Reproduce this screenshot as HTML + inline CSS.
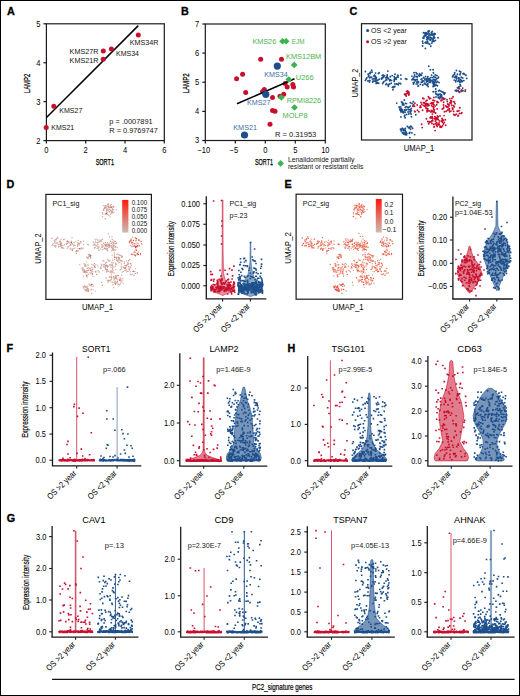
<!DOCTYPE html>
<html><head><meta charset="utf-8"><style>
html,body{margin:0;padding:0;background:#fff;}
body{width:520px;height:696px;overflow:hidden;}
svg{display:block;font-family:"Liberation Sans",sans-serif;}
</style></head><body>
<svg width="520" height="696" viewBox="0 0 520 696">
<rect x="0.5" y="0.5" width="519" height="695" fill="#fff" stroke="#000" stroke-width="1"/>
<text x="7.00" y="14.80" font-size="10.8" font-weight="bold" fill="#000" stroke="#000" stroke-width="0.3">A</text>
<rect x="46.4" y="23.8" width="117.9" height="116.8" fill="none" stroke="#1a1a1a" stroke-width="1.2"/>
<line x1="43.40" y1="140.60" x2="46.40" y2="140.60" stroke="#1a1a1a" stroke-width="1.2"/>
<text x="40.40" y="143.50" font-size="8.2" text-anchor="end" textLength="4.2" lengthAdjust="spacingAndGlyphs" fill="#000">2</text>
<line x1="43.40" y1="101.67" x2="46.40" y2="101.67" stroke="#1a1a1a" stroke-width="1.2"/>
<text x="40.40" y="104.57" font-size="8.2" text-anchor="end" textLength="4.2" lengthAdjust="spacingAndGlyphs" fill="#000">3</text>
<line x1="43.40" y1="62.73" x2="46.40" y2="62.73" stroke="#1a1a1a" stroke-width="1.2"/>
<text x="40.40" y="65.63" font-size="8.2" text-anchor="end" textLength="4.2" lengthAdjust="spacingAndGlyphs" fill="#000">4</text>
<line x1="43.40" y1="23.80" x2="46.40" y2="23.80" stroke="#1a1a1a" stroke-width="1.2"/>
<text x="40.40" y="26.70" font-size="8.2" text-anchor="end" textLength="4.2" lengthAdjust="spacingAndGlyphs" fill="#000">5</text>
<line x1="46.40" y1="140.60" x2="46.40" y2="143.60" stroke="#1a1a1a" stroke-width="1.2"/>
<text x="46.40" y="153.15" font-size="8.2" text-anchor="middle" textLength="4.2" lengthAdjust="spacingAndGlyphs" fill="#000">0</text>
<line x1="85.70" y1="140.60" x2="85.70" y2="143.60" stroke="#1a1a1a" stroke-width="1.2"/>
<text x="85.70" y="153.15" font-size="8.2" text-anchor="middle" textLength="4.2" lengthAdjust="spacingAndGlyphs" fill="#000">2</text>
<line x1="125.00" y1="140.60" x2="125.00" y2="143.60" stroke="#1a1a1a" stroke-width="1.2"/>
<text x="125.00" y="153.15" font-size="8.2" text-anchor="middle" textLength="4.2" lengthAdjust="spacingAndGlyphs" fill="#000">4</text>
<line x1="164.30" y1="140.60" x2="164.30" y2="143.60" stroke="#1a1a1a" stroke-width="1.2"/>
<text x="164.30" y="153.15" font-size="8.2" text-anchor="middle" textLength="4.2" lengthAdjust="spacingAndGlyphs" fill="#000">6</text>
<text x="30.30" y="83.40" font-size="9.6" text-anchor="middle" textLength="19.5" lengthAdjust="spacingAndGlyphs" transform="rotate(-90 30.30 83.40)" fill="#000" stroke="#000" stroke-width="0.25">LAMP2</text>
<text x="104.80" y="164.76" font-size="9.6" text-anchor="middle" textLength="18.3" lengthAdjust="spacingAndGlyphs" fill="#000" stroke="#000" stroke-width="0.25">SORT1</text>
<line x1="46.50" y1="117.50" x2="138.30" y2="25.60" stroke="#000" stroke-width="1.5"/>
<circle cx="46.2" cy="127.5" r="2.5" fill="#c8102e"/>
<circle cx="53.8" cy="106.2" r="2.5" fill="#c8102e"/>
<circle cx="103.2" cy="59.2" r="2.5" fill="#c8102e"/>
<circle cx="103.3" cy="51.0" r="2.5" fill="#c8102e"/>
<circle cx="111.4" cy="48.9" r="2.5" fill="#c8102e"/>
<circle cx="138.3" cy="35.0" r="2.5" fill="#c8102e"/>
<text x="129.70" y="45.04" font-size="7.6" textLength="28.8" lengthAdjust="spacingAndGlyphs" fill="#111">KMS34R</text>
<text x="116.00" y="55.74" font-size="7.6" textLength="23.0" lengthAdjust="spacingAndGlyphs" fill="#111">KMS34</text>
<text x="69.60" y="53.94" font-size="7.6" textLength="28.8" lengthAdjust="spacingAndGlyphs" fill="#111">KMS27R</text>
<text x="69.60" y="62.54" font-size="7.6" textLength="28.8" lengthAdjust="spacingAndGlyphs" fill="#111">KMS21R</text>
<text x="59.25" y="112.74" font-size="7.6" textLength="23.2" lengthAdjust="spacingAndGlyphs" fill="#111">KMS27</text>
<text x="51.25" y="130.24" font-size="7.6" textLength="23.0" lengthAdjust="spacingAndGlyphs" fill="#111">KMS21</text>
<text x="109.30" y="124.24" font-size="7.6" textLength="43.3" lengthAdjust="spacingAndGlyphs" fill="#111">p = .0007891</text>
<text x="109.30" y="132.94" font-size="7.6" textLength="48.5" lengthAdjust="spacingAndGlyphs" fill="#111">R = 0.9769747</text>
<text x="180.90" y="14.80" font-size="10.8" font-weight="bold" fill="#000" stroke="#000" stroke-width="0.3">B</text>
<rect x="205.3" y="24.0" width="120.0" height="116.5" fill="none" stroke="#1a1a1a" stroke-width="1.2"/>
<line x1="202.30" y1="140.50" x2="205.30" y2="140.50" stroke="#1a1a1a" stroke-width="1.2"/>
<text x="199.30" y="143.40" font-size="8.2" text-anchor="end" textLength="4.2" lengthAdjust="spacingAndGlyphs" fill="#000">3</text>
<line x1="202.30" y1="111.38" x2="205.30" y2="111.38" stroke="#1a1a1a" stroke-width="1.2"/>
<text x="199.30" y="114.28" font-size="8.2" text-anchor="end" textLength="4.2" lengthAdjust="spacingAndGlyphs" fill="#000">4</text>
<line x1="202.30" y1="82.25" x2="205.30" y2="82.25" stroke="#1a1a1a" stroke-width="1.2"/>
<text x="199.30" y="85.15" font-size="8.2" text-anchor="end" textLength="4.2" lengthAdjust="spacingAndGlyphs" fill="#000">5</text>
<line x1="202.30" y1="53.12" x2="205.30" y2="53.12" stroke="#1a1a1a" stroke-width="1.2"/>
<text x="199.30" y="56.02" font-size="8.2" text-anchor="end" textLength="4.2" lengthAdjust="spacingAndGlyphs" fill="#000">6</text>
<line x1="202.30" y1="24.00" x2="205.30" y2="24.00" stroke="#1a1a1a" stroke-width="1.2"/>
<text x="199.30" y="26.90" font-size="8.2" text-anchor="end" textLength="4.2" lengthAdjust="spacingAndGlyphs" fill="#000">7</text>
<line x1="205.30" y1="140.50" x2="205.30" y2="143.50" stroke="#1a1a1a" stroke-width="1.2"/>
<text x="203.80" y="153.15" font-size="8.2" text-anchor="middle" textLength="12.7" lengthAdjust="spacingAndGlyphs" fill="#000">−10</text>
<line x1="235.30" y1="140.50" x2="235.30" y2="143.50" stroke="#1a1a1a" stroke-width="1.2"/>
<text x="233.80" y="153.15" font-size="8.2" text-anchor="middle" textLength="8.5" lengthAdjust="spacingAndGlyphs" fill="#000">−5</text>
<line x1="265.30" y1="140.50" x2="265.30" y2="143.50" stroke="#1a1a1a" stroke-width="1.2"/>
<text x="265.30" y="153.15" font-size="8.2" text-anchor="middle" textLength="4.2" lengthAdjust="spacingAndGlyphs" fill="#000">0</text>
<line x1="295.30" y1="140.50" x2="295.30" y2="143.50" stroke="#1a1a1a" stroke-width="1.2"/>
<text x="295.30" y="153.15" font-size="8.2" text-anchor="middle" textLength="4.2" lengthAdjust="spacingAndGlyphs" fill="#000">5</text>
<line x1="325.30" y1="140.50" x2="325.30" y2="143.50" stroke="#1a1a1a" stroke-width="1.2"/>
<text x="325.30" y="153.15" font-size="8.2" text-anchor="middle" textLength="8.3" lengthAdjust="spacingAndGlyphs" fill="#000">10</text>
<text x="189.00" y="83.40" font-size="9.6" text-anchor="middle" textLength="20.0" lengthAdjust="spacingAndGlyphs" transform="rotate(-90 189.00 83.40)" fill="#000" stroke="#000" stroke-width="0.25">LAMP2</text>
<text x="264.00" y="164.76" font-size="9.6" text-anchor="middle" textLength="18.0" lengthAdjust="spacingAndGlyphs" fill="#000" stroke="#000" stroke-width="0.25">SORT1</text>
<path d="M280.6 160.1L283.9 163.4L280.6 166.7L277.3 163.4Z" fill="#3cb44b"/>
<text x="287.90" y="161.88" font-size="6.9" textLength="66.5" lengthAdjust="spacingAndGlyphs" fill="#111">Lenalidomide partially</text>
<text x="287.90" y="169.48" font-size="6.9" textLength="75.4" lengthAdjust="spacingAndGlyphs" fill="#111">resistant or resistant cells</text>
<circle cx="260.7" cy="59.2" r="2.5" fill="#c8102e"/>
<circle cx="281.5" cy="59.2" r="2.5" fill="#c8102e"/>
<circle cx="242.6" cy="74.2" r="2.5" fill="#c8102e"/>
<circle cx="236.6" cy="78.8" r="2.5" fill="#c8102e"/>
<circle cx="285.2" cy="83.4" r="2.5" fill="#c8102e"/>
<circle cx="287.2" cy="87.0" r="2.5" fill="#c8102e"/>
<circle cx="292.8" cy="84.5" r="2.5" fill="#c8102e"/>
<circle cx="293.5" cy="87.0" r="2.5" fill="#c8102e"/>
<circle cx="245.7" cy="92.5" r="2.5" fill="#c8102e"/>
<circle cx="264.3" cy="89.4" r="2.5" fill="#c8102e"/>
<circle cx="262.6" cy="91.4" r="2.5" fill="#c8102e"/>
<circle cx="272.5" cy="97.5" r="2.5" fill="#c8102e"/>
<circle cx="280.0" cy="96.3" r="2.5" fill="#c8102e"/>
<circle cx="283.7" cy="94.3" r="2.5" fill="#c8102e"/>
<circle cx="272.5" cy="110.5" r="2.5" fill="#c8102e"/>
<circle cx="275.0" cy="111.3" r="2.5" fill="#c8102e"/>
<circle cx="270.0" cy="124.3" r="2.5" fill="#c8102e"/>
<line x1="237.00" y1="103.80" x2="294.50" y2="78.80" stroke="#000" stroke-width="1.5"/>
<path d="M282.6 37.9L286.0 41.2L282.6 44.6L279.2 41.2Z" fill="#3cb44b"/>
<path d="M286.1 37.9L289.5 41.2L286.1 44.6L282.8 41.2Z" fill="#3cb44b"/>
<path d="M294.2 61.6L297.6 65.0L294.2 68.3L290.8 65.0Z" fill="#3cb44b"/>
<path d="M288.8 76.2L292.2 79.5L288.8 82.8L285.4 79.5Z" fill="#3cb44b"/>
<path d="M281.3 94.2L284.7 97.5L281.3 100.8L277.9 97.5Z" fill="#3cb44b"/>
<path d="M294.5 104.2L297.9 107.5L294.5 110.8L291.1 107.5Z" fill="#3cb44b"/>
<circle cx="277.3" cy="66.1" r="3.6" fill="#1d4f8c"/>
<circle cx="265.8" cy="94.3" r="3.6" fill="#1d4f8c"/>
<circle cx="244.5" cy="135.0" r="3.6" fill="#1d4f8c"/>
<text x="252.40" y="43.94" font-size="7.6" textLength="23.8" lengthAdjust="spacingAndGlyphs" fill="#4cb050">KMS26</text>
<text x="291.80" y="43.94" font-size="7.6" textLength="12.7" lengthAdjust="spacingAndGlyphs" fill="#4cb050">EJM</text>
<text x="286.00" y="59.24" font-size="7.6" textLength="35.2" lengthAdjust="spacingAndGlyphs" fill="#4cb050">KMS12BM</text>
<text x="295.80" y="80.44" font-size="7.6" textLength="17.7" lengthAdjust="spacingAndGlyphs" fill="#4cb050">U266</text>
<text x="286.70" y="102.74" font-size="7.6" textLength="34.5" lengthAdjust="spacingAndGlyphs" fill="#4cb050">RPMI8226</text>
<text x="282.50" y="118.24" font-size="7.6" textLength="25.0" lengthAdjust="spacingAndGlyphs" fill="#4cb050">MOLP8</text>
<text x="264.20" y="76.94" font-size="7.6" textLength="23.5" lengthAdjust="spacingAndGlyphs" fill="#3b6ea8">KMS34</text>
<text x="247.00" y="104.74" font-size="7.6" textLength="23.5" lengthAdjust="spacingAndGlyphs" fill="#3b6ea8">KMS27</text>
<text x="233.30" y="129.74" font-size="7.6" textLength="23.7" lengthAdjust="spacingAndGlyphs" fill="#3b6ea8">KMS21</text>
<text x="275.00" y="137.24" font-size="7.6" textLength="41.3" lengthAdjust="spacingAndGlyphs" fill="#111">R = 0.31953</text>
<text x="349.50" y="14.50" font-size="10.8" font-weight="bold" fill="#000" stroke="#000" stroke-width="0.3">C</text>
<rect x="361.5" y="23.7" width="110.5" height="116.3" fill="none" stroke="#1a1a1a" stroke-width="1.2"/>
<path d="M428.4 43.5h0M428.8 38.5h0M424.3 35.7h0M425.0 33.4h0M432.2 31.4h0M438.0 37.8h0M431.4 32.5h0M427.9 36.7h0M428.8 38.3h0M427.3 42.0h0M430.6 37.5h0M429.2 33.9h0M431.9 35.0h0M428.3 38.7h0M426.8 42.0h0M433.7 37.8h0M429.1 30.8h0M432.9 34.5h0M422.6 46.0h0M425.4 32.6h0M434.0 41.3h0M425.9 34.7h0M429.3 34.9h0M424.9 35.1h0M425.4 48.4h0M425.6 42.3h0M422.6 41.3h0M426.5 33.0h0M427.7 33.8h0M432.1 41.1h0M426.9 34.2h0M434.3 38.1h0M434.1 33.5h0M435.2 34.0h0M429.7 44.3h0M433.0 39.6h0M432.1 34.2h0M430.7 34.4h0M429.1 35.5h0M423.5 32.8h0M425.2 42.7h0M431.6 38.1h0M427.3 37.9h0M422.9 43.2h0M430.2 40.3h0M423.1 38.0h0M432.2 35.1h0M424.0 36.8h0M432.8 41.6h0M426.7 39.5h0M433.5 36.9h0M432.9 39.1h0M427.4 38.1h0M423.8 38.2h0M432.6 41.4h0M431.4 38.9h0M430.2 37.2h0M428.8 32.1h0M434.5 34.7h0M426.1 43.1h0M430.8 46.2h0M427.1 42.7h0M431.8 33.2h0M433.7 36.4h0M428.0 31.5h0M431.8 43.1h0M425.4 35.7h0M426.0 35.3h0M429.5 34.5h0M434.6 37.7h0M435.4 40.4h0M429.0 31.5h0M425.0 35.7h0M430.8 34.7h0M433.2 40.0h0M430.0 39.8h0M433.6 41.0h0M426.8 37.2h0M423.4 37.3h0M427.7 41.1h0M375.4 79.0h0M373.0 81.3h0M379.2 72.7h0M377.4 82.8h0M376.3 82.4h0M383.4 77.0h0M369.4 80.4h0M377.7 80.3h0M387.9 71.1h0M375.7 81.3h0M372.1 72.1h0M376.0 81.0h0M368.8 75.4h0M375.3 80.4h0M378.6 83.3h0M369.7 77.8h0M379.3 79.3h0M381.5 78.3h0M372.7 82.0h0M369.5 82.1h0M375.5 78.4h0M368.4 76.5h0M375.3 76.2h0M376.2 77.4h0M366.8 78.0h0M370.6 77.2h0M365.4 80.4h0M374.6 75.1h0M365.4 71.5h0M375.2 76.7h0M376.2 83.4h0M372.3 79.1h0M374.7 75.5h0M370.3 73.6h0M373.8 75.9h0M375.6 73.1h0M369.5 73.4h0M381.7 79.0h0M369.9 80.6h0M382.7 75.1h0M368.0 74.1h0M370.4 72.3h0M373.5 81.3h0M367.9 80.9h0M377.6 83.1h0M375.1 80.9h0M378.5 73.5h0M376.2 78.2h0M375.3 78.4h0M376.5 79.9h0M383.6 77.0h0M371.7 77.1h0M373.7 78.8h0M371.7 70.3h0M366.0 79.3h0M387.2 75.0h0M398.7 83.1h0M395.5 78.6h0M393.1 87.2h0M388.4 86.2h0M398.3 84.7h0M396.7 84.0h0M391.2 83.3h0M389.5 84.2h0M388.0 85.1h0M396.2 77.6h0M394.3 80.5h0M396.8 83.9h0M383.9 81.7h0M388.4 78.5h0M394.9 84.1h0M392.9 89.8h0M393.1 87.0h0M394.9 83.9h0M396.0 78.9h0M386.7 79.9h0M391.5 80.4h0M390.4 76.8h0M394.2 76.8h0M386.5 83.8h0M400.6 83.7h0M406.7 79.2h0M398.0 77.3h0M393.4 86.6h0M392.4 87.2h0M395.0 74.2h0M392.2 75.6h0M390.1 79.6h0M396.2 79.3h0M394.6 78.8h0M393.6 87.5h0M397.5 76.1h0M400.8 75.1h0M390.3 76.6h0M394.2 81.4h0M397.8 75.3h0M405.6 78.7h0M388.6 78.9h0M385.4 80.6h0M400.3 83.5h0M395.5 78.1h0M387.5 77.7h0M385.8 84.6h0M398.1 75.7h0M388.4 84.6h0M389.7 80.7h0M401.0 78.9h0M394.2 79.8h0M389.2 84.1h0M394.9 86.5h0M382.7 83.5h0M382.3 75.4h0M385.8 77.7h0M383.2 75.2h0M383.5 82.0h0M382.5 78.0h0M387.2 76.5h0M382.9 77.6h0M383.1 75.9h0M386.4 79.4h0M384.5 75.8h0M387.0 76.8h0M413.0 78.4h0M426.5 81.3h0M412.0 79.7h0M422.8 85.0h0M417.2 77.1h0M421.4 75.2h0M419.6 73.6h0M417.3 76.6h0M421.8 78.9h0M422.5 82.1h0M417.6 83.9h0M424.7 83.6h0M421.2 79.4h0M423.8 77.8h0M413.3 82.6h0M417.0 74.0h0M415.4 80.7h0M411.9 76.1h0M414.0 72.8h0M423.9 80.9h0M414.5 75.0h0M420.5 74.9h0M418.4 81.7h0M416.0 79.7h0M418.7 75.4h0M425.6 76.6h0M426.3 78.7h0M430.1 82.4h0M417.2 79.4h0M421.5 75.1h0M414.4 79.7h0M422.4 80.6h0M421.3 82.3h0M424.9 79.2h0M419.6 73.8h0M424.5 83.8h0M418.0 86.1h0M413.6 79.6h0M420.4 84.4h0M423.6 77.8h0M414.3 79.7h0M413.5 84.0h0M416.0 72.6h0M418.5 82.2h0M422.0 73.1h0M418.4 86.0h0M417.0 82.2h0M414.1 77.0h0M427.6 78.6h0M416.0 76.5h0M419.6 76.0h0M417.3 81.5h0M414.2 82.5h0M426.1 79.9h0M416.3 83.9h0M433.4 81.7h0M435.3 74.9h0M437.4 81.5h0M432.4 82.8h0M430.4 81.0h0M430.8 80.2h0M436.3 85.1h0M429.3 78.6h0M426.0 84.4h0M436.6 82.6h0M429.5 82.4h0M427.9 84.0h0M437.2 81.8h0M433.1 69.7h0M429.6 80.0h0M428.8 66.3h0M435.4 85.4h0M438.3 77.7h0M435.1 81.8h0M435.2 77.3h0M429.8 79.4h0M434.6 79.6h0M432.7 81.0h0M428.2 86.5h0M437.1 81.6h0M433.8 76.5h0M427.9 81.2h0M427.0 80.8h0M435.0 80.6h0M439.0 82.5h0M434.7 83.8h0M433.5 84.9h0M433.7 85.1h0M427.3 84.1h0M428.3 79.5h0M429.3 82.3h0M430.7 77.6h0M433.6 79.5h0M434.0 83.0h0M436.0 79.8h0M437.4 85.7h0M430.9 81.1h0M432.4 80.4h0M438.5 77.1h0M430.4 69.8h0M433.6 84.0h0M433.5 73.1h0M426.6 81.9h0M424.8 83.1h0M427.8 76.9h0M434.7 85.9h0M436.9 75.5h0M433.1 86.5h0M432.6 77.6h0M427.9 76.8h0M437.0 78.4h0M433.4 72.7h0M435.3 77.5h0M431.6 75.3h0M427.1 85.4h0M438.6 91.0h0M440.9 91.1h0M442.2 91.9h0M444.2 94.3h0M435.7 89.0h0M436.3 94.3h0M440.3 94.2h0M443.1 92.2h0M444.4 93.5h0M436.0 96.9h0M435.9 93.8h0M443.5 92.8h0M439.4 90.3h0M436.0 91.5h0M433.2 91.7h0M435.4 91.7h0M438.5 94.5h0M445.0 93.0h0M453.4 75.2h0M461.9 80.5h0M459.6 81.3h0M459.8 82.6h0M460.0 74.8h0M455.5 76.3h0M463.8 80.6h0M456.3 77.2h0M459.5 71.2h0M462.7 77.9h0M454.7 72.7h0M454.7 77.1h0M455.9 80.7h0M464.4 74.3h0M463.9 73.8h0M459.0 78.0h0M461.3 77.3h0M460.8 71.9h0M454.6 74.0h0M456.4 70.5h0M452.9 75.9h0M452.6 76.9h0M458.8 80.0h0M460.1 84.8h0M456.5 79.0h0M463.0 73.7h0M460.3 73.8h0M466.0 75.3h0M466.7 78.4h0M454.2 80.1h0M455.7 81.8h0M460.9 81.8h0M457.9 81.3h0M463.7 73.5h0M454.8 77.6h0M460.4 79.5h0M456.6 76.3h0M462.2 81.5h0M458.2 78.0h0M457.4 74.2h0M461.6 91.2h0M465.2 91.2h0M459.0 86.7h0M459.0 91.6h0M458.5 88.6h0M462.7 88.1h0M460.7 85.9h0M456.7 90.3h0M459.2 91.8h0M456.5 91.2h0M463.0 90.8h0M461.2 91.4h0M459.5 88.6h0M457.5 87.8h0M455.3 90.5h0M458.3 90.9h0M402.1 111.8h0M402.4 110.9h0M402.4 110.9h0M403.5 111.6h0M403.2 103.5h0M406.4 103.6h0M402.5 102.5h0M405.5 103.4h0M410.1 109.6h0M399.0 107.1h0M399.6 107.3h0M400.3 109.0h0M403.9 105.0h0M400.9 116.9h0M402.9 111.4h0M400.1 110.0h0M404.5 110.0h0M411.3 110.8h0M405.3 107.5h0M404.9 115.2h0M410.6 113.0h0M404.5 116.2h0M408.1 112.0h0M407.5 107.1h0M399.7 109.1h0M408.8 109.7h0M414.5 106.2h0M413.1 105.9h0M410.0 111.7h0M412.1 103.5h0M406.6 109.8h0M403.3 112.7h0M402.5 104.9h0M401.5 109.0h0M408.5 109.5h0M406.1 106.6h0M411.3 108.5h0M413.4 101.8h0M406.7 114.4h0M405.0 112.2h0M410.3 106.1h0M411.1 114.1h0M407.9 107.6h0M408.8 114.0h0M400.7 106.9h0M402.4 103.9h0M396.7 103.1h0M400.8 111.7h0M409.0 107.2h0M410.3 102.8h0M406.1 134.9h0M402.6 128.5h0M403.2 129.3h0M405.0 133.2h0M404.7 129.1h0M406.1 132.1h0M411.4 126.7h0M414.6 134.6h0M407.3 126.4h0M401.3 130.9h0M405.3 128.5h0M403.8 130.5h0M412.6 128.3h0M409.3 133.3h0M403.6 133.9h0M406.4 133.3h0M401.7 130.7h0M409.1 128.0h0M406.8 133.5h0M402.0 128.8h0M405.0 130.3h0M409.9 137.6h0M400.5 129.3h0M410.6 129.2h0M411.8 132.9h0M406.2 132.3h0M408.5 127.5h0M405.8 131.8h0M405.7 131.6h0M404.6 134.3h0M402.2 128.5h0M403.7 132.6h0M409.8 127.0h0M409.8 132.4h0M401.1 130.2h0M405.2 130.6h0M403.7 134.0h0M410.8 126.3h0M406.6 134.8h0M402.4 132.8h0M401.6 102.0h0M411.5 116.8h0M404.4 100.0h0M405.1 117.8h0M401.0 110.0h0M405.6 110.2h0M402.2 109.6h0M415.8 114.8h0M439.5 98.5h0M440.4 97.3h0M438.5 97.6h0M440.1 96.6h0M438.2 97.5h0M447.0 99.8h0M437.7 94.7h0M439.9 94.2h0M438.2 95.5h0M443.5 98.3h0M440.7 95.2h0M439.8 98.7h0M441.6 96.0h0M442.4 97.8h0M437.6 94.7h0M441.6 94.9h0" stroke="#1d4f8c" stroke-width="1.90" stroke-linecap="round" fill="none"/>
<path d="M406.4 93.9h0M408.1 91.7h0M407.6 93.2h0M404.5 94.1h0M406.5 91.4h0M406.0 94.0h0M406.2 96.0h0M405.1 94.7h0M405.7 95.4h0M408.9 93.5h0M408.1 91.8h0M408.8 95.0h0M409.1 94.6h0M408.6 93.4h0M409.0 92.1h0M407.4 91.6h0M408.5 93.6h0M407.7 90.9h0M430.9 111.9h0M423.4 102.7h0M435.1 106.1h0M424.0 103.1h0M432.2 111.8h0M433.9 104.7h0M437.2 108.9h0M427.0 100.3h0M427.4 108.8h0M425.8 106.8h0M423.9 98.7h0M429.4 98.7h0M437.3 102.5h0M433.6 109.0h0M426.4 103.4h0M425.9 101.1h0M428.3 104.3h0M438.4 102.4h0M425.0 106.3h0M437.1 101.4h0M433.4 104.2h0M427.9 109.1h0M429.0 97.6h0M425.8 104.0h0M426.1 108.3h0M425.1 103.5h0M433.4 102.6h0M427.0 110.4h0M431.7 105.8h0M432.0 103.7h0M427.6 108.8h0M427.0 111.8h0M420.9 107.3h0M427.4 104.4h0M433.2 106.8h0M428.0 110.6h0M421.8 104.4h0M433.0 100.2h0M424.5 102.8h0M422.6 110.2h0M434.1 111.4h0M434.6 100.8h0M434.4 109.7h0M429.0 105.2h0M421.0 102.5h0M430.6 98.4h0M426.2 105.1h0M427.3 103.9h0M425.3 104.7h0M425.2 103.5h0M431.3 110.5h0M429.2 111.0h0M431.9 102.6h0M430.5 103.4h0M428.4 96.7h0M433.9 97.5h0M423.5 105.5h0M433.7 107.8h0M432.7 110.9h0M428.0 106.0h0M447.7 104.0h0M452.3 108.1h0M450.6 103.2h0M447.3 101.6h0M451.7 105.2h0M453.8 101.7h0M442.0 100.0h0M451.3 102.6h0M445.8 105.9h0M443.5 105.0h0M442.0 97.9h0M461.3 113.4h0M450.1 102.8h0M454.3 106.7h0M449.2 109.8h0M453.7 111.4h0M457.5 111.2h0M450.8 103.2h0M459.0 110.8h0M455.0 115.2h0M441.0 100.7h0M458.4 115.5h0M461.8 112.7h0M447.9 107.4h0M457.1 111.1h0M449.0 104.4h0M444.9 98.8h0M456.3 114.2h0M443.4 108.3h0M449.0 105.9h0M454.4 101.9h0M447.1 106.7h0M449.3 108.8h0M459.8 107.7h0M443.6 102.3h0M447.7 106.8h0M452.7 108.7h0M449.6 111.7h0M452.8 108.2h0M445.9 106.1h0M446.3 111.3h0M449.8 98.6h0M446.8 107.1h0M452.8 109.6h0M459.5 113.4h0M443.5 105.0h0M442.4 109.0h0M451.6 101.3h0M450.6 100.7h0M453.7 114.5h0M453.6 105.7h0M443.7 99.4h0M455.0 103.7h0M457.9 116.0h0M443.8 107.1h0M432.5 118.2h0M432.8 120.8h0M432.3 116.7h0M432.7 118.7h0M437.2 126.4h0M444.1 115.6h0M437.8 124.5h0M440.0 127.0h0M445.3 119.7h0M431.9 120.9h0M441.4 127.3h0M438.3 119.5h0M439.6 120.9h0M440.0 115.9h0M429.4 122.4h0M441.9 121.3h0M428.7 123.7h0M444.3 122.4h0M440.5 126.1h0M437.4 116.0h0M431.0 121.8h0M437.0 117.6h0M435.4 121.3h0M429.7 121.9h0M438.2 116.8h0M433.9 124.1h0M436.8 122.7h0M439.1 123.0h0M429.1 121.8h0M443.3 124.0h0M438.5 124.8h0M443.3 120.3h0M442.1 118.4h0M437.5 119.4h0M436.1 118.0h0M430.8 116.9h0M436.6 125.2h0M432.0 123.5h0M437.4 118.3h0M431.0 118.0h0M433.8 124.4h0M442.5 122.0h0M437.4 118.6h0M422.2 127.6h0M434.3 126.8h0M434.9 116.8h0M442.4 119.4h0M434.7 118.7h0M441.6 121.2h0M427.8 121.5h0M430.2 117.7h0M434.0 127.1h0M434.0 112.3h0M442.6 125.9h0M436.1 119.8h0M435.1 130.6h0M439.1 124.8h0M435.7 123.8h0M418.9 111.8h0M435.6 113.0h0M444.5 111.8h0M451.9 98.4h0M422.9 98.3h0M426.4 118.8h0M451.0 111.1h0M420.4 105.9h0M436.7 104.8h0M445.7 125.2h0M432.4 114.1h0M447.8 110.0h0M421.6 124.3h0M453.1 96.7h0M419.9 107.4h0M413.5 104.8h0M414.6 111.1h0M414.9 103.2h0M415.0 111.8h0M417.5 110.2h0M417.2 105.0h0M413.1 106.3h0M459.3 92.0h0M459.5 92.4h0M461.3 90.3h0M461.9 89.9h0M465.4 90.0h0M459.0 88.3h0" stroke="#c8102e" stroke-width="1.90" stroke-linecap="round" fill="none"/>
<circle cx="367.6" cy="30.4" r="1.5" fill="#1d4f8c"/>
<circle cx="367.6" cy="41.7" r="1.5" fill="#c8102e"/>
<text x="371.00" y="33.06" font-size="7.4" textLength="35.9" lengthAdjust="spacingAndGlyphs" fill="#111">OS &lt;2 year</text>
<text x="371.00" y="44.36" font-size="7.4" textLength="35.9" lengthAdjust="spacingAndGlyphs" fill="#111">OS &gt;2 year</text>
<text x="419.00" y="150.53" font-size="8.7" text-anchor="middle" textLength="30.4" lengthAdjust="spacingAndGlyphs" fill="#000">UMAP_1</text>
<text x="357.80" y="83.00" font-size="8.7" text-anchor="middle" textLength="28.3" lengthAdjust="spacingAndGlyphs" transform="rotate(-90 357.80 83.00)" fill="#000">UMAP_2</text>
<text x="6.40" y="188.30" font-size="10.8" font-weight="bold" fill="#000" stroke="#000" stroke-width="0.3">D</text>
<rect x="45.9" y="194.4" width="105.5" height="104.99999999999997" fill="none" stroke="#1a1a1a" stroke-width="1.2"/>
<text x="52.50" y="205.50" font-size="7.5" textLength="26.9" lengthAdjust="spacingAndGlyphs" fill="#111">PC1_sig</text>
<path d="M107.8 214.6h0M108.2 210.4h0M104.2 208.1h0M104.8 206.1h0M111.2 204.4h0M116.3 209.8h0M110.4 205.4h0M107.4 208.9h0M108.2 210.2h0M106.8 213.4h0M109.8 209.6h0M108.5 206.5h0M110.9 207.5h0M107.8 210.6h0M112.5 209.8h0M108.5 203.9h0M111.8 207.1h0M102.7 216.7h0M105.2 205.5h0M112.8 212.7h0M105.6 207.3h0M104.7 207.6h0M105.3 213.6h0M102.7 212.8h0M106.1 205.8h0M107.2 206.5h0M111.1 212.6h0M106.5 206.8h0M113.0 210.1h0M112.9 206.2h0M108.9 215.2h0M111.1 206.8h0M109.9 207.0h0M108.4 207.9h0M103.4 205.6h0M105.0 214.0h0M110.7 210.1h0M106.8 209.9h0M102.9 214.3h0M109.4 212.0h0M103.2 210.0h0M103.9 209.0h0M111.7 213.0h0M106.3 211.3h0M112.3 209.1h0M111.8 210.9h0M106.9 210.1h0M103.7 210.2h0M111.5 212.9h0M110.5 210.8h0M109.4 209.3h0M108.1 205.0h0M113.2 207.2h0M105.7 214.2h0M110.0 216.9h0M106.7 214.0h0M110.8 206.0h0M112.5 208.7h0M107.5 204.5h0M110.8 214.2h0M105.2 208.0h0M105.7 207.7h0M108.8 207.1h0M113.3 209.7h0M114.0 212.0h0M108.4 204.5h0M109.9 207.2h0M112.1 211.6h0M109.2 211.5h0M112.4 212.5h0M106.4 209.3h0M103.4 209.4h0M107.2 212.6h0M60.8 244.4h0M58.7 246.4h0M61.7 247.3h0M68.0 242.8h0M55.5 245.6h0M62.9 245.6h0M72.0 237.8h0M61.1 246.4h0M57.9 238.6h0M61.3 246.1h0M55.0 241.4h0M63.7 248.1h0M55.8 243.5h0M64.4 244.7h0M66.3 243.8h0M58.5 247.0h0M55.6 247.0h0M60.9 244.0h0M54.7 242.3h0M60.8 242.1h0M61.6 243.1h0M53.2 243.6h0M56.6 242.9h0M52.0 245.6h0M60.7 242.5h0M61.6 248.1h0M58.1 244.5h0M60.2 241.5h0M56.3 239.9h0M59.4 241.8h0M61.0 239.5h0M55.6 239.8h0M66.4 244.4h0M56.0 245.8h0M54.3 240.3h0M56.4 238.8h0M59.2 246.4h0M60.6 246.0h0M63.6 239.8h0M61.6 243.8h0M61.9 245.2h0M68.1 242.8h0M57.6 242.8h0M59.3 244.3h0M57.5 237.2h0M52.6 244.7h0M71.3 241.1h0M78.6 244.1h0M81.1 249.3h0M73.4 248.9h0M72.0 249.5h0M77.6 245.7h0M79.8 248.6h0M68.4 246.7h0M72.3 244.1h0M78.1 248.8h0M76.4 253.5h0M78.1 248.6h0M79.1 244.3h0M70.9 245.2h0M75.1 245.6h0M74.2 242.6h0M77.5 242.6h0M70.7 248.5h0M83.1 248.4h0M88.6 244.7h0M80.9 243.1h0M76.8 250.8h0M75.9 251.3h0M78.2 240.4h0M75.7 241.6h0M73.9 245.0h0M79.3 244.7h0M77.8 244.3h0M77.0 251.6h0M80.4 242.0h0M83.4 241.2h0M74.1 242.4h0M77.5 246.4h0M80.7 241.4h0M87.6 244.2h0M72.6 244.3h0M69.8 245.8h0M82.9 248.2h0M78.7 243.7h0M71.6 243.3h0M70.0 249.2h0M81.0 241.7h0M72.4 249.2h0M73.5 245.9h0M83.5 244.4h0M77.5 245.1h0M73.1 248.8h0M78.1 250.7h0M67.3 248.3h0M66.9 241.5h0M70.1 243.3h0M67.8 241.3h0M68.0 247.0h0M67.2 243.6h0M67.5 243.3h0M67.7 241.9h0M70.6 244.8h0M68.9 241.7h0M71.2 242.6h0M94.2 244.0h0M106.1 246.4h0M93.3 245.0h0M102.8 249.5h0M101.6 241.2h0M100.0 239.9h0M98.0 242.4h0M101.9 244.4h0M102.6 247.1h0M98.2 248.6h0M104.5 248.3h0M101.5 244.8h0M103.8 243.5h0M94.5 247.5h0M97.7 240.3h0M96.3 245.9h0M93.2 242.0h0M95.1 239.2h0M95.5 241.1h0M100.8 241.0h0M99.0 246.7h0M96.8 245.1h0M99.2 241.4h0M105.4 242.5h0M106.0 244.2h0M109.3 247.3h0M97.9 244.8h0M101.7 241.1h0M95.4 245.1h0M102.5 245.8h0M101.6 247.2h0M104.7 244.7h0M100.0 240.0h0M98.6 250.4h0M94.7 245.0h0M100.7 249.0h0M103.6 243.4h0M95.3 245.0h0M94.6 248.6h0M96.8 239.1h0M99.0 247.2h0M98.9 250.3h0M97.7 247.1h0M95.2 242.8h0M107.1 244.1h0M96.9 242.4h0M100.0 241.9h0M98.0 246.6h0M95.2 247.4h0M97.1 248.6h0M112.2 246.7h0M115.8 246.5h0M111.4 247.6h0M109.6 246.2h0M110.0 245.4h0M114.8 249.6h0M115.1 247.4h0M108.8 247.3h0M107.4 248.6h0M115.6 246.8h0M112.0 236.6h0M108.2 233.7h0M114.1 249.8h0M116.6 243.4h0M113.8 246.8h0M113.8 243.0h0M109.0 244.8h0M113.3 244.9h0M111.6 246.1h0M107.7 250.8h0M115.5 246.7h0M112.6 242.3h0M107.3 246.3h0M106.5 245.9h0M113.6 245.8h0M117.2 247.4h0M113.4 248.5h0M112.3 249.4h0M112.5 249.6h0M107.7 244.9h0M108.6 247.2h0M109.9 243.3h0M112.4 244.9h0M112.8 247.8h0M114.6 245.1h0M115.8 250.1h0M110.1 246.2h0M111.4 245.6h0M116.7 242.9h0M109.6 236.7h0M112.4 248.7h0M112.3 239.5h0M106.3 246.9h0M104.6 247.9h0M107.3 242.7h0M113.4 250.2h0M111.9 250.7h0M107.4 242.6h0M115.5 243.9h0M112.2 239.2h0M106.7 249.8h0M116.9 254.6h0M118.8 254.7h0M120.0 255.3h0M118.3 257.2h0M120.8 255.6h0M122.0 256.7h0M114.5 259.5h0M114.4 256.9h0M121.2 256.0h0M117.6 253.9h0M114.5 255.0h0M112.1 255.1h0M114.1 255.1h0M116.7 257.5h0M122.5 256.2h0M135.8 240.9h0M132.6 242.9h0M138.2 243.5h0M131.1 242.9h0M132.2 245.9h0M139.7 240.5h0M139.2 240.0h0M134.9 243.6h0M137.0 243.0h0M132.6 237.3h0M129.3 242.7h0M134.8 245.3h0M135.9 249.3h0M132.7 244.4h0M130.6 245.4h0M132.0 246.8h0M139.1 239.8h0M131.2 243.3h0M136.2 244.9h0M132.8 242.2h0M137.7 246.6h0M137.2 254.7h0M140.4 254.7h0M134.9 250.9h0M134.9 255.1h0M134.5 252.5h0M132.8 253.9h0M135.1 255.2h0M132.7 254.7h0M136.9 254.8h0M135.3 252.5h0M133.6 251.9h0M134.3 254.4h0M84.8 271.2h0M85.8 271.8h0M88.3 265.1h0M84.9 264.2h0M87.5 264.9h0M91.6 270.2h0M81.7 268.1h0M82.3 268.2h0M82.9 269.6h0M86.1 266.3h0M83.4 276.3h0M85.2 271.7h0M82.8 270.5h0M86.7 270.5h0M92.6 271.2h0M87.4 268.4h0M87.0 274.9h0M92.1 273.0h0M89.8 272.2h0M89.3 268.1h0M82.4 269.7h0M95.5 267.3h0M94.3 267.1h0M91.5 271.9h0M93.4 265.0h0M85.6 272.8h0M84.9 266.2h0M84.0 269.7h0M90.2 270.1h0M88.1 267.7h0M88.5 274.2h0M91.8 267.2h0M89.7 268.5h0M90.5 273.8h0M83.2 267.9h0M84.8 265.4h0M79.8 264.7h0M83.4 272.0h0M90.6 268.1h0M91.8 264.5h0M88.0 291.5h0M84.9 286.1h0M87.1 290.0h0M86.8 286.6h0M88.0 289.1h0M92.8 284.5h0M95.6 291.1h0M89.2 284.3h0M83.8 288.0h0M87.3 286.1h0M86.0 287.8h0M93.8 285.9h0M90.9 290.1h0M85.9 290.6h0M84.2 287.9h0M90.7 285.6h0M88.6 290.3h0M84.4 286.3h0M87.1 287.6h0M91.5 293.7h0M83.1 286.7h0M92.0 286.6h0M93.1 289.7h0M88.2 289.2h0M90.2 285.2h0M87.7 288.6h0M86.8 290.9h0M84.6 286.1h0M91.3 289.3h0M83.6 287.5h0M87.2 287.8h0M92.2 284.2h0M88.5 291.4h0M84.8 289.6h0M84.0 263.8h0M92.9 276.3h0M86.6 262.1h0M87.2 277.0h0M83.5 270.5h0M87.6 270.6h0M84.6 270.1h0M88.4 257.0h0M89.4 256.4h0M86.6 257.1h0M88.4 254.8h0M88.0 257.1h0M88.1 258.7h0M87.1 257.7h0M87.7 258.2h0M89.8 255.2h0M90.7 257.6h0M89.2 255.0h0M90.2 256.7h0M103.4 264.4h0M113.8 267.2h0M103.9 264.7h0M115.6 269.6h0M106.6 262.3h0M105.5 267.8h0M103.9 261.0h0M108.7 261.0h0M115.7 264.2h0M112.5 269.7h0M106.0 265.0h0M107.7 265.7h0M116.7 264.1h0M104.8 267.4h0M115.5 263.3h0M107.3 269.8h0M108.4 260.1h0M105.5 265.5h0M104.9 265.0h0M112.3 264.3h0M106.6 270.9h0M110.8 267.0h0M111.0 265.2h0M106.6 272.0h0M101.2 268.2h0M106.9 265.8h0M112.1 267.8h0M107.5 271.0h0M111.9 262.3h0M104.3 264.4h0M102.7 270.6h0M112.9 271.7h0M113.3 262.8h0M113.1 270.2h0M108.3 266.5h0M101.2 264.2h0M109.8 260.8h0M105.9 266.4h0M105.0 266.0h0M105.0 265.1h0M110.3 270.9h0M108.5 271.3h0M111.0 264.3h0M109.6 265.0h0M107.8 259.3h0M112.7 260.0h0M103.4 266.8h0M112.5 268.6h0M111.6 271.3h0M107.5 267.2h0M124.9 265.5h0M127.5 264.8h0M124.5 263.5h0M130.3 263.5h0M128.1 264.3h0M123.3 267.0h0M121.2 266.3h0M119.9 260.3h0M137.0 273.3h0M127.0 264.5h0M130.8 267.7h0M126.2 270.3h0M130.3 271.7h0M133.6 271.5h0M127.7 264.8h0M135.0 271.2h0M131.3 274.9h0M118.9 262.7h0M134.3 275.2h0M137.4 272.8h0M122.4 261.1h0M132.5 274.1h0M121.1 269.1h0M126.1 267.1h0M124.4 267.7h0M126.3 269.5h0M135.7 268.6h0M121.3 264.0h0M124.9 267.8h0M129.3 269.4h0M126.6 271.9h0M129.5 269.0h0M123.3 267.2h0M123.6 271.6h0M126.8 260.9h0M124.1 268.1h0M129.5 270.1h0M121.2 266.3h0M120.2 269.7h0M128.4 263.2h0M127.5 262.7h0M130.2 274.3h0M121.4 261.6h0M131.4 265.2h0M133.9 275.5h0M121.5 268.0h0M111.5 277.4h0M111.7 279.6h0M121.7 275.2h0M116.2 282.7h0M118.1 284.8h0M122.8 278.7h0M110.9 279.7h0M119.3 285.0h0M117.8 279.7h0M108.7 280.9h0M108.0 282.0h0M118.5 284.1h0M110.1 280.5h0M115.4 276.9h0M114.0 280.0h0M116.5 276.2h0M112.7 282.4h0M115.3 281.2h0M117.3 281.4h0M108.5 280.4h0M121.0 282.2h0M116.8 283.0h0M121.0 279.2h0M120.0 277.6h0M115.9 278.4h0M114.7 277.3h0M110.0 276.4h0M111.0 281.9h0M115.8 277.5h0M110.1 277.2h0M112.6 282.6h0M120.3 280.6h0M113.0 284.7h0M113.5 276.2h0M120.2 278.4h0M113.4 277.8h0M119.5 279.9h0M107.2 280.2h0M109.4 277.0h0M112.8 284.9h0M112.7 272.5h0M120.4 283.9h0M114.7 278.8h0M113.7 287.8h0M117.3 283.0h0M114.3 282.1h0M99.4 272.0h0M122.1 272.0h0M103.0 260.7h0M100.7 267.1h0M115.2 266.2h0M123.1 283.3h0M111.3 273.9h0M125.0 270.5h0M101.8 282.5h0M129.7 259.4h0M100.2 268.3h0M95.5 271.4h0M95.9 264.8h0M97.9 266.3h0M94.3 267.4h0M118.4 259.9h0M116.8 260.1h0M118.2 259.2h0M116.5 260.0h0M116.0 257.7h0M118.0 257.2h0M121.2 260.7h0M119.5 258.8h0M120.2 260.2h0M116.0 257.6h0M119.5 257.8h0M136.9 254.0h0M134.9 252.3h0" stroke="#cfaba4" stroke-width="1.40" stroke-linecap="round" fill="none"/>
<path d="M106.4 213.3h0M111.2 207.6h0M79.7 248.7h0M71.3 242.3h0M105.8 245.2h0M108.9 245.3h0M114.8 257.3h0M130.0 241.2h0M137.5 245.7h0M135.4 246.4h0M135.6 247.5h0M131.8 242.2h0M139.2 245.8h0M135.4 237.9h0M131.1 239.1h0M136.5 238.5h0M131.0 240.2h0M129.5 241.8h0M138.5 240.0h0M136.1 240.1h0M141.1 241.4h0M141.8 243.9h0M136.6 246.8h0M133.9 246.3h0M134.2 243.6h0M133.5 240.4h0M138.2 252.1h0M136.4 250.3h0M138.4 254.4h0M131.6 254.2h0M84.6 272.0h0M86.6 275.8h0M92.4 274.0h0M91.4 284.8h0M90.7 255.5h0M105.7 269.1h0M125.1 268.3h0M133.2 271.4h0M126.1 265.8h0M118.1 275.5h0M119.8 280.0h0M115.1 283.3h0M94.6 266.1h0M135.2 255.4h0M135.4 255.7h0M137.5 253.6h0M140.6 253.7h0" stroke="#e0442c" stroke-width="1.40" stroke-linecap="round" fill="none"/>
<path d="M108.6 207.4h0M105.2 218.8h0M113.8 206.6h0M111.9 211.4h0M104.8 208.0h0M64.2 239.1h0M62.6 247.7h0M60.8 245.6h0M60.1 241.2h0M52.0 238.2h0M67.3 241.2h0M54.2 246.0h0M62.8 247.9h0M60.7 243.9h0M81.5 247.9h0M76.5 251.4h0M72.4 250.5h0M74.9 248.1h0M79.2 243.2h0M76.6 251.2h0M97.9 242.9h0M103.8 246.1h0M104.4 248.5h0M102.1 239.5h0M114.0 241.0h0M108.6 244.1h0M105.6 248.9h0M106.8 248.7h0M115.3 241.6h0M111.6 243.3h0M113.9 243.2h0M110.6 241.3h0M121.8 257.3h0M114.3 252.9h0M84.8 271.2h0M85.5 265.0h0M90.5 270.3h0M88.5 270.3h0M92.6 269.2h0M94.5 263.6h0M87.1 272.3h0M85.5 286.7h0M88.3 290.1h0M87.8 288.8h0M86.0 289.5h0M85.9 290.7h0M96.6 274.6h0M89.8 255.1h0M90.5 256.6h0M90.4 257.9h0M90.3 256.5h0M89.5 254.5h0M110.1 272.1h0M111.2 272.0h0M112.7 266.1h0M106.9 269.5h0M105.6 263.0h0M112.2 265.7h0M107.1 269.5h0M101.9 265.8h0M106.8 265.4h0M129.0 268.9h0M128.5 266.5h0M119.9 262.1h0M130.8 263.7h0M135.4 273.4h0M130.1 266.9h0M111.3 276.1h0M111.6 277.8h0M115.6 284.3h0M116.5 278.5h0M121.9 281.0h0M115.8 275.6h0M109.0 280.5h0M115.8 277.7h0M102.3 285.3h0M114.2 273.1h0M128.6 260.8h0M106.0 277.9h0M127.8 271.4h0M95.9 272.0h0M98.1 270.7h0M117.7 260.9h0M124.3 261.9h0M116.5 258.3h0M118.7 258.1h0M117.9 261.0h0" stroke="#d48a7c" stroke-width="1.40" stroke-linecap="round" fill="none"/>
<defs><linearGradient id="gPC1_sig" x1="0" y1="0" x2="0" y2="1"><stop offset="0" stop-color="#ff1a0a"/><stop offset="1" stop-color="#c9bcb8"/></linearGradient></defs>
<rect x="122.2" y="199.9" width="6.200000000000003" height="32.69999999999999" fill="url(#gPC1_sig)"/>
<text x="131.70" y="204.65" font-size="6.8" textLength="15.4" lengthAdjust="spacingAndGlyphs" fill="#111">0.100</text>
<text x="131.70" y="211.85" font-size="6.8" textLength="15.4" lengthAdjust="spacingAndGlyphs" fill="#111">0.075</text>
<text x="131.70" y="219.05" font-size="6.8" textLength="15.4" lengthAdjust="spacingAndGlyphs" fill="#111">0.050</text>
<text x="131.70" y="226.25" font-size="6.8" textLength="15.4" lengthAdjust="spacingAndGlyphs" fill="#111">0.025</text>
<text x="131.70" y="233.45" font-size="6.8" textLength="15.4" lengthAdjust="spacingAndGlyphs" fill="#111">0.000</text>
<text x="97.50" y="309.93" font-size="8.7" text-anchor="middle" textLength="31.0" lengthAdjust="spacingAndGlyphs" fill="#000">UMAP_1</text>
<text x="40.80" y="248.50" font-size="8.7" text-anchor="middle" textLength="30.4" lengthAdjust="spacingAndGlyphs" transform="rotate(-90 40.80 248.50)" fill="#000">UMAP_2</text>
<text x="284.50" y="188.30" font-size="10.8" font-weight="bold" fill="#000" stroke="#000" stroke-width="0.3">E</text>
<rect x="296.1" y="194.2" width="106.39999999999998" height="105.0" fill="none" stroke="#1a1a1a" stroke-width="1.2"/>
<text x="302.80" y="206.40" font-size="7.5" textLength="26.4" lengthAdjust="spacingAndGlyphs" fill="#111">PC2_sig</text>
<path d="M358.5 214.4h0M354.9 207.9h0M361.2 205.2h0M360.5 209.4h0M361.7 207.3h0M359.2 203.7h0M353.3 216.5h0M355.9 205.3h0M359.3 207.2h0M356.8 205.6h0M357.9 206.3h0M361.9 212.4h0M362.7 211.2h0M359.2 207.7h0M360.7 216.7h0M357.4 213.8h0M361.6 205.8h0M361.5 214.0h0M356.4 207.5h0M359.5 206.9h0M359.1 204.3h0M355.5 207.8h0M362.8 211.4h0M354.1 209.2h0M357.9 212.4h0M309.0 246.2h0M313.0 247.5h0M305.8 245.4h0M313.2 245.4h0M322.4 237.6h0M311.5 246.2h0M305.3 241.2h0M306.1 243.3h0M314.7 244.5h0M303.5 243.4h0M302.3 245.4h0M302.3 238.0h0M311.0 242.3h0M308.4 244.3h0M306.7 238.6h0M318.5 242.6h0M307.9 242.6h0M309.6 244.1h0M307.8 237.0h0M321.7 240.9h0M322.8 250.3h0M330.2 248.5h0M322.4 249.3h0M328.1 245.5h0M318.8 246.5h0M322.8 243.9h0M321.3 245.0h0M324.6 242.4h0M321.1 248.3h0M333.7 248.2h0M339.1 244.5h0M326.4 251.1h0M329.8 244.5h0M330.9 241.8h0M331.2 241.2h0M338.1 244.0h0M323.0 244.1h0M320.2 245.6h0M320.5 249.0h0M322.8 249.0h0M317.6 243.4h0M317.9 243.1h0M318.1 241.7h0M321.6 242.4h0M344.8 243.8h0M348.5 242.7h0M352.3 241.0h0M348.6 242.2h0M352.6 244.2h0M352.1 244.6h0M354.5 243.3h0M345.1 247.3h0M347.0 245.7h0M354.5 245.9h0M346.1 240.9h0M351.5 240.8h0M349.8 241.2h0M352.4 240.9h0M355.1 248.3h0M345.4 244.8h0M354.3 243.2h0M346.0 244.8h0M352.8 239.3h0M357.8 243.9h0M347.5 242.2h0M350.7 241.7h0M363.0 246.5h0M364.7 240.8h0M362.1 247.4h0M360.4 246.0h0M360.7 245.2h0M365.6 249.4h0M358.1 248.4h0M366.4 246.6h0M359.6 245.1h0M367.4 243.2h0M364.5 246.6h0M364.6 242.8h0M359.8 244.6h0M364.0 244.7h0M362.4 245.9h0M366.3 246.5h0M368.0 247.2h0M364.2 248.3h0M358.4 244.7h0M355.4 247.7h0M362.3 243.1h0M364.7 243.0h0M357.4 249.6h0M372.6 257.1h0M365.6 257.1h0M369.2 257.0h0M365.2 256.7h0M372.0 255.8h0M362.8 254.9h0M373.4 256.0h0M388.5 245.5h0M386.4 246.2h0M382.8 242.0h0M383.5 242.7h0M389.2 243.3h0M382.0 238.9h0M383.6 237.1h0M380.4 241.6h0M383.7 244.2h0M387.0 239.9h0M392.1 241.2h0M392.8 243.7h0M381.6 245.2h0M384.9 246.1h0M390.1 239.6h0M382.1 243.1h0M388.7 246.4h0M385.2 243.4h0M387.4 250.1h0M383.6 254.5h0M387.9 254.6h0M384.5 251.7h0M382.5 254.0h0M335.4 264.0h0M332.8 268.0h0M333.4 269.4h0M340.4 272.0h0M344.9 266.9h0M336.1 272.6h0M335.4 266.0h0M340.8 269.9h0M338.6 267.5h0M343.2 269.0h0M343.0 273.8h0M333.9 271.8h0M341.2 267.9h0M343.5 276.1h0M337.8 276.8h0M338.1 270.4h0M335.2 269.9h0M347.2 274.4h0M340.4 254.9h0M339.0 254.6h0M338.7 258.5h0M337.7 257.5h0M338.3 258.0h0M339.8 254.8h0M340.7 256.5h0M354.6 264.5h0M357.3 262.1h0M354.5 260.8h0M363.2 269.5h0M356.3 262.8h0M358.4 265.5h0M367.5 263.9h0M366.3 263.1h0M355.6 264.8h0M357.3 270.7h0M361.7 265.0h0M357.8 269.3h0M351.9 268.0h0M358.2 270.8h0M362.6 262.1h0M363.9 270.0h0M351.9 264.0h0M355.7 265.8h0M359.3 271.1h0M354.1 266.6h0M363.3 268.4h0M358.2 267.0h0M378.4 264.6h0M375.4 263.3h0M374.1 266.8h0M372.1 266.1h0M370.7 260.1h0M377.1 270.1h0M381.2 271.5h0M384.6 271.3h0M378.6 264.6h0M385.9 271.0h0M375.9 268.1h0M373.3 260.9h0M383.4 273.9h0M381.7 263.5h0M377.2 269.3h0M380.2 269.2h0M377.5 271.7h0M374.9 267.9h0M372.1 266.1h0M371.1 269.5h0M379.3 263.0h0M381.1 266.7h0M382.3 265.0h0M362.4 279.4h0M362.4 277.6h0M367.0 282.5h0M373.6 278.5h0M367.3 278.3h0M372.7 280.8h0M369.4 283.9h0M360.9 280.3h0M364.8 279.8h0M363.4 282.2h0M366.0 281.0h0M370.8 277.4h0M360.7 276.2h0M365.9 283.1h0M361.8 281.7h0M366.6 277.3h0M366.5 277.5h0M363.8 284.5h0M364.3 276.0h0M360.2 276.8h0M363.5 284.7h0M363.5 272.3h0M365.4 278.6h0M356.7 277.7h0M378.7 271.2h0M351.4 266.9h0M375.9 270.3h0M346.5 271.8h0M348.5 266.1h0M367.6 259.9h0M367.3 259.8h0M366.8 257.5h0M371.1 260.0h0M386.4 255.5h0M388.5 253.4h0M391.6 253.5h0M385.9 252.1h0" stroke="#e8553a" stroke-width="1.40" stroke-linecap="round" fill="none"/>
<path d="M358.9 210.2h0M367.1 209.6h0M358.1 208.7h0M357.5 213.2h0M359.3 206.3h0M358.5 210.4h0M362.5 206.9h0M363.6 212.5h0M356.3 207.1h0M355.4 207.4h0M355.9 218.6h0M356.0 213.4h0M353.4 212.6h0M363.8 209.9h0M363.7 206.0h0M364.6 206.4h0M359.7 215.0h0M360.6 206.8h0M354.1 205.4h0M355.7 213.8h0M361.4 209.9h0M357.5 209.7h0M353.6 214.1h0M361.9 207.4h0M354.6 208.8h0M362.5 212.8h0M357.1 211.1h0M363.1 208.9h0M362.6 210.7h0M357.7 209.9h0M354.4 210.0h0M361.2 210.6h0M360.2 209.1h0M364.0 207.0h0M356.5 214.0h0M363.2 208.5h0M355.9 207.8h0M364.1 209.5h0M360.7 207.0h0M363.2 212.3h0M357.1 209.1h0M311.2 244.2h0M314.6 238.9h0M312.0 247.1h0M308.3 238.4h0M311.7 245.9h0M311.1 245.4h0M314.0 247.9h0M316.7 243.6h0M308.8 246.8h0M311.2 243.8h0M311.9 242.9h0M310.4 241.0h0M311.9 247.9h0M306.6 239.7h0M305.9 239.6h0M316.8 244.2h0M306.3 245.6h0M317.7 241.0h0M304.6 240.1h0M309.5 246.2h0M304.5 245.8h0M313.2 247.7h0M310.9 245.8h0M314.0 239.6h0M311.9 243.6h0M311.1 243.7h0M332.0 247.7h0M329.1 243.9h0M327.0 251.2h0M331.6 249.1h0M329.7 243.0h0M328.6 248.6h0M326.8 253.3h0M327.0 251.0h0M328.6 248.4h0M329.6 244.1h0M325.6 245.4h0M327.9 242.4h0M331.4 242.9h0M327.3 250.6h0M324.3 244.8h0M333.9 241.0h0M322.0 243.1h0M331.5 241.5h0M323.9 245.7h0M334.1 244.2h0M328.0 244.9h0M323.5 248.6h0M328.6 250.5h0M317.7 248.1h0M317.3 241.3h0M320.5 243.1h0M318.2 241.1h0M318.4 246.8h0M321.7 242.1h0M321.0 244.6h0M319.3 241.5h0M356.8 246.2h0M350.6 239.7h0M353.3 246.9h0M355.2 248.1h0M348.4 240.1h0M343.8 241.8h0M345.7 239.0h0M349.6 246.5h0M347.4 244.9h0M356.1 242.3h0M356.7 244.0h0M360.0 247.1h0M348.5 244.6h0M352.2 247.0h0M345.2 248.4h0M349.7 247.0h0M345.8 242.6h0M348.6 246.4h0M356.5 245.0h0M366.6 246.3h0M359.3 243.9h0M356.4 248.7h0M365.9 247.2h0M359.5 247.1h0M362.7 236.4h0M358.9 233.5h0M364.8 249.6h0M358.4 250.6h0M358.1 246.1h0M357.3 245.7h0M364.4 245.6h0M363.1 249.2h0M363.3 249.4h0M357.5 248.5h0M359.4 247.0h0M360.6 243.1h0M363.2 244.7h0M366.6 249.9h0M360.8 246.0h0M362.1 245.4h0M367.5 242.7h0M360.3 236.5h0M363.2 248.5h0M358.0 242.5h0M364.1 250.0h0M366.1 241.4h0M358.1 242.4h0M366.3 243.7h0M361.4 241.1h0M367.7 254.4h0M369.7 254.5h0M370.8 255.1h0M371.6 255.4h0M365.3 259.3h0M368.4 253.7h0M365.3 254.8h0M367.5 257.3h0M380.9 241.0h0M390.2 245.6h0M386.3 237.7h0M382.0 242.7h0M383.2 245.7h0M390.7 240.3h0M390.2 239.8h0M380.2 242.5h0M385.7 245.1h0M386.8 249.1h0M382.9 246.6h0M387.1 244.7h0M391.4 254.5h0M385.9 250.7h0M385.8 254.9h0M385.5 252.3h0M389.2 251.9h0M383.8 253.7h0M386.0 255.0h0M389.4 254.2h0M338.9 264.9h0M338.1 264.7h0M336.7 266.1h0M333.9 276.1h0M337.2 270.3h0M343.2 271.0h0M337.9 268.2h0M337.5 274.7h0M342.7 272.8h0M337.2 275.6h0M332.9 269.5h0M346.1 267.1h0M342.1 271.7h0M344.0 264.8h0M339.1 270.1h0M334.5 269.5h0M345.2 263.4h0M339.1 274.0h0M342.4 267.0h0M341.0 273.6h0M333.7 267.7h0M335.3 265.2h0M330.3 264.5h0M342.4 264.3h0M334.0 270.3h0M339.9 256.2h0M337.1 256.9h0M338.5 256.9h0M340.4 255.0h0M341.0 257.7h0M341.3 257.4h0M341.2 255.3h0M340.1 254.3h0M364.5 267.0h0M362.0 271.8h0M363.4 265.9h0M366.4 269.4h0M356.2 267.6h0M366.5 264.0h0M356.7 264.8h0M355.5 267.2h0M363.0 265.5h0M361.5 266.8h0M357.6 265.6h0M362.9 267.6h0M352.6 265.6h0M363.6 271.5h0M364.1 262.6h0M359.1 266.3h0M360.5 260.6h0M357.5 265.2h0M355.7 264.9h0M361.1 270.7h0M361.7 264.1h0M360.4 264.8h0M358.5 259.1h0M363.4 259.8h0M375.8 265.3h0M379.9 268.7h0M381.2 263.3h0M379.0 264.1h0M387.9 273.1h0M377.9 264.3h0M382.3 274.7h0M369.8 262.5h0M385.3 275.0h0M377.0 265.6h0M372.0 268.9h0M375.3 267.5h0M386.6 268.4h0M375.8 267.6h0M377.7 260.7h0M380.4 269.9h0M381.2 274.1h0M372.3 261.4h0M384.9 275.3h0M372.3 267.8h0M362.2 277.2h0M362.0 275.9h0M366.4 284.1h0M361.7 279.5h0M370.1 284.8h0M368.6 279.5h0M368.9 275.3h0M359.5 280.7h0M358.8 281.8h0M366.6 275.4h0M366.2 276.7h0M359.7 280.3h0M367.3 276.0h0M367.6 282.8h0M366.7 278.2h0M363.3 282.4h0M371.2 280.4h0M353.0 285.1h0M371.0 278.2h0M364.2 277.6h0M371.3 283.7h0M368.1 282.8h0M350.1 271.8h0M366.0 266.0h0M374.0 283.1h0M352.5 282.3h0M345.2 265.9h0M348.8 270.5h0M344.9 267.2h0M369.2 259.7h0M369.0 259.0h0M375.1 261.7h0M368.8 257.0h0M372.0 260.5h0M368.7 260.8h0M370.4 258.6h0M366.8 257.4h0M370.4 257.6h0M386.2 255.2h0M387.9 253.8h0" stroke="#ec7a62" stroke-width="1.40" stroke-linecap="round" fill="none"/>
<path d="M355.5 205.9h0M362.0 204.2h0M358.9 210.0h0M357.1 213.1h0M363.3 209.6h0M357.2 206.6h0M361.8 206.6h0M360.1 211.8h0M353.8 209.8h0M362.3 212.7h0M358.9 204.8h0M358.2 204.3h0M364.8 211.8h0M360.0 211.3h0M318.4 242.6h0M305.9 246.8h0M305.0 242.1h0M311.1 241.9h0M306.9 242.7h0M310.5 241.3h0M309.7 241.6h0M311.3 239.3h0M312.2 245.0h0M302.8 244.5h0M325.3 247.9h0M323.8 248.7h0M330.3 248.4h0M328.7 240.2h0M326.2 241.4h0M328.3 244.1h0M327.4 251.4h0M324.5 242.2h0M328.0 246.2h0M333.5 248.0h0M329.1 243.5h0M343.9 244.8h0M353.5 249.3h0M348.9 248.4h0M346.1 244.9h0M353.2 245.6h0M355.4 244.5h0M350.6 239.8h0M349.3 250.2h0M351.4 248.8h0M347.4 238.9h0M349.6 250.1h0M348.4 246.9h0M345.9 247.2h0M347.7 248.4h0M363.4 242.1h0M363.5 247.6h0M365.4 244.9h0M363.1 239.3h0M357.0 246.7h0M362.7 250.5h0M363.0 239.0h0M365.1 252.7h0M372.8 256.5h0M364.8 254.9h0M386.6 247.3h0M386.8 240.7h0M385.9 243.4h0M388.0 242.8h0M387.5 238.3h0M381.9 240.0h0M389.5 239.8h0M387.5 246.6h0M383.8 242.0h0M384.5 240.2h0M388.2 254.5h0M386.3 252.3h0M385.2 254.2h0M335.1 271.8h0M335.3 271.0h0M335.3 271.0h0M336.3 271.6h0M336.0 264.8h0M342.2 270.0h0M332.2 267.9h0M335.7 271.5h0M333.3 270.3h0M339.9 267.9h0M341.1 270.1h0M337.7 272.1h0M340.2 268.3h0M334.6 263.6h0M337.1 261.9h0M338.9 256.8h0M341.1 256.4h0M340.9 256.3h0M360.8 271.9h0M354.1 264.2h0M357.6 269.3h0M359.4 260.8h0M358.1 269.6h0M359.1 259.9h0M356.3 265.3h0M356.5 268.9h0M363.0 264.1h0M357.3 271.8h0M355.0 264.2h0M353.4 270.4h0M356.6 266.2h0M362.4 271.1h0M379.4 266.3h0M370.7 261.9h0M381.7 267.5h0M388.4 272.6h0M384.2 271.2h0M376.9 266.9h0M372.2 263.8h0M380.4 268.8h0M374.2 267.0h0M374.5 271.4h0M386.4 273.2h0M378.4 262.5h0M372.6 275.0h0M368.9 284.6h0M370.6 279.8h0M368.1 281.2h0M359.2 280.2h0M371.8 282.0h0M371.9 279.0h0M365.5 277.1h0M360.9 277.0h0M370.3 279.7h0M358.0 280.0h0M364.5 287.6h0M365.1 281.9h0M365.0 272.9h0M372.9 271.8h0M379.5 260.6h0M353.6 260.5h0M362.1 273.7h0M380.6 259.2h0M350.9 268.1h0M346.2 271.2h0M346.5 264.6h0M368.5 260.7h0M367.3 258.1h0M369.5 257.9h0" stroke="#e4a394" stroke-width="1.40" stroke-linecap="round" fill="none"/>
<path d="M338.6 291.3h0M334.3 287.8h0M337.9 285.9h0M338.9 289.9h0M334.7 287.7h0M337.7 287.4h0M343.7 289.5h0M340.8 285.0h0M338.3 288.6h0M338.3 288.4h0M337.3 290.7h0M336.5 289.3h0M342.0 284.6h0M334.2 287.3h0M337.8 287.6h0M336.4 290.5h0M342.8 284.0h0M339.1 291.2h0M335.3 289.4h0" stroke="#e5432c" stroke-width="1.40" stroke-linecap="round" fill="none"/>
<path d="M335.5 285.9h0M336.0 286.5h0M337.6 289.8h0M337.4 286.4h0M338.6 288.9h0M343.4 284.3h0M346.2 290.9h0M339.7 284.1h0M336.6 287.6h0M344.4 285.7h0M341.5 289.9h0M336.4 290.4h0M341.3 285.4h0M339.2 290.1h0M334.9 286.1h0M342.0 293.5h0M333.6 286.5h0M342.6 286.4h0M338.7 289.0h0M335.1 285.9h0M341.9 289.1h0" stroke="#ea6a50" stroke-width="1.40" stroke-linecap="round" fill="none"/>
<defs><linearGradient id="gPC2_sig" x1="0" y1="0" x2="0" y2="1"><stop offset="0" stop-color="#ff1a0a"/><stop offset="1" stop-color="#cdbab5"/></linearGradient></defs>
<rect x="375.8" y="199" width="5.899999999999977" height="33.5" fill="url(#gPC2_sig)"/>
<text x="384.40" y="206.95" font-size="6.8" textLength="9.1" lengthAdjust="spacingAndGlyphs" fill="#111">0.2</text>
<text x="384.40" y="215.45" font-size="6.8" textLength="9.1" lengthAdjust="spacingAndGlyphs" fill="#111">0.1</text>
<text x="384.40" y="223.65" font-size="6.8" textLength="9.1" lengthAdjust="spacingAndGlyphs" fill="#111">0.0</text>
<text x="382.50" y="231.65" font-size="6.8" textLength="14.0" lengthAdjust="spacingAndGlyphs" fill="#111">−0.1</text>
<text x="348.10" y="309.93" font-size="8.7" text-anchor="middle" textLength="31.2" lengthAdjust="spacingAndGlyphs" fill="#000">UMAP_1</text>
<text x="291.00" y="247.90" font-size="8.7" text-anchor="middle" textLength="31.7" lengthAdjust="spacingAndGlyphs" transform="rotate(-90 291.00 247.90)" fill="#000">UMAP_2</text>
<line x1="206.30" y1="196.30" x2="206.30" y2="298.80" stroke="#1a1a1a" stroke-width="1.3"/>
<line x1="205.65" y1="298.80" x2="266.30" y2="298.80" stroke="#1a1a1a" stroke-width="1.3"/>
<line x1="203.30" y1="285.75" x2="206.30" y2="285.75" stroke="#1a1a1a" stroke-width="1.1"/>
<text x="200.00" y="288.65" font-size="8.2" text-anchor="end" textLength="18.7" lengthAdjust="spacingAndGlyphs" fill="#000">0.000</text>
<line x1="203.30" y1="265.50" x2="206.30" y2="265.50" stroke="#1a1a1a" stroke-width="1.1"/>
<text x="200.00" y="268.40" font-size="8.2" text-anchor="end" textLength="18.7" lengthAdjust="spacingAndGlyphs" fill="#000">0.025</text>
<line x1="203.30" y1="245.00" x2="206.30" y2="245.00" stroke="#1a1a1a" stroke-width="1.1"/>
<text x="200.00" y="247.90" font-size="8.2" text-anchor="end" textLength="18.7" lengthAdjust="spacingAndGlyphs" fill="#000">0.050</text>
<line x1="203.30" y1="224.25" x2="206.30" y2="224.25" stroke="#1a1a1a" stroke-width="1.1"/>
<text x="200.00" y="227.15" font-size="8.2" text-anchor="end" textLength="18.7" lengthAdjust="spacingAndGlyphs" fill="#000">0.075</text>
<line x1="203.30" y1="203.75" x2="206.30" y2="203.75" stroke="#1a1a1a" stroke-width="1.1"/>
<text x="200.00" y="206.65" font-size="8.2" text-anchor="end" textLength="18.7" lengthAdjust="spacingAndGlyphs" fill="#000">0.100</text>
<line x1="222.60" y1="298.80" x2="222.60" y2="301.40" stroke="#1a1a1a" stroke-width="1.1"/>
<line x1="250.40" y1="298.80" x2="250.40" y2="301.40" stroke="#1a1a1a" stroke-width="1.1"/>
<text x="222.80" y="306.70" font-size="8.6" text-anchor="end" textLength="37.2" lengthAdjust="spacingAndGlyphs" transform="rotate(-45 222.80 306.70)" fill="#000">OS &gt;2 year</text>
<text x="250.60" y="306.70" font-size="8.6" text-anchor="end" textLength="37.2" lengthAdjust="spacingAndGlyphs" transform="rotate(-45 250.60 306.70)" fill="#000">OS &lt;2 year</text>
<text x="173.90" y="248.70" font-size="8.2" text-anchor="middle" textLength="55.0" lengthAdjust="spacingAndGlyphs" transform="rotate(-90 173.90 248.70)" fill="#000" stroke="#000" stroke-width="0.15">Expression intensity</text>
<text x="229.50" y="206.45" font-size="7.5" textLength="26.8" lengthAdjust="spacingAndGlyphs" fill="#111">PC1_sig</text>
<text x="229.50" y="217.59" font-size="7.2" textLength="18.0" lengthAdjust="spacingAndGlyphs" fill="#111">p=.23</text>
<path d="M223.0 200.0 L223.1 250.0 L223.5 272.0 L224.7 279.0 L228.7 283.5 L233.7 287.0 L234.7 290.0 L231.7 292.0 L224.7 294.5 L223.0 295.5 L222.4 295.5 L220.7 294.5 L213.7 292.0 L210.7 290.0 L211.7 287.0 L216.7 283.5 L220.7 279.0 L221.9 272.0 L222.2 250.0 L222.3 200.0Z" fill="#c8102e" fill-opacity="0.45" stroke="#c8102e" stroke-width="0.5" stroke-linejoin="round"/>
<path d="M250.8 242.0 L251.0 262.0 L252.0 270.0 L253.5 276.0 L257.5 282.0 L261.5 287.0 L263.0 290.0 L260.5 293.0 L253.5 295.5 L250.8 296.5 L250.2 296.5 L247.5 295.5 L240.5 293.0 L238.0 290.0 L239.5 287.0 L243.5 282.0 L247.5 276.0 L249.0 270.0 L250.0 262.0 L250.2 242.0Z" fill="#1d4f8c" fill-opacity="0.5" stroke="#1d4f8c" stroke-width="0.5" stroke-linejoin="round"/>
<path d="M225.6 288.3h0M233.3 284.4h0M228.5 289.0h0M221.9 288.2h0M233.3 285.6h0M213.4 284.5h0M222.0 288.6h0M224.5 291.4h0M211.0 288.9h0M232.7 290.3h0M229.1 290.7h0M214.0 292.0h0M225.5 288.6h0M231.6 288.6h0M215.7 289.9h0M231.6 294.0h0M217.6 291.3h0M227.0 287.8h0M215.6 291.8h0M233.9 287.2h0M232.1 287.8h0M214.7 290.6h0M214.2 290.3h0M225.2 289.3h0M210.8 287.6h0M218.1 286.6h0M230.3 286.5h0M222.2 288.7h0M227.6 294.0h0M211.2 290.7h0M228.7 288.7h0M229.6 288.1h0M219.5 288.2h0M211.8 288.4h0M215.0 290.0h0M228.8 288.1h0M233.0 290.5h0M219.2 287.7h0M223.3 288.7h0M228.7 287.4h0M229.8 288.9h0M233.4 288.0h0M212.9 286.8h0M232.7 291.2h0M218.9 291.1h0M218.2 287.2h0M218.3 288.9h0M214.3 289.3h0M227.2 289.9h0M211.9 288.5h0M234.4 286.2h0M216.4 288.0h0M225.0 289.7h0M220.8 286.2h0M212.0 289.0h0M222.5 288.2h0M230.8 291.0h0M233.5 291.2h0M225.8 288.8h0M221.1 287.4h0M214.3 289.6h0M221.6 286.9h0M234.7 292.3h0M221.6 283.5h0M222.4 288.2h0M217.7 285.9h0M220.4 289.9h0M234.4 290.3h0M233.7 286.6h0M218.8 286.6h0M212.8 287.9h0M231.5 292.5h0M219.4 289.4h0M227.4 284.6h0M226.6 288.6h0M227.6 286.3h0M217.4 284.6h0M227.3 288.9h0M217.8 291.6h0M224.6 287.4h0M211.0 286.8h0M226.8 288.0h0M221.8 289.9h0M229.8 285.5h0M219.0 286.2h0M230.6 285.5h0M219.1 291.1h0M227.2 284.6h0M234.1 291.2h0M223.4 287.8h0M214.7 291.3h0M222.2 283.9h0M227.3 287.8h0M214.8 284.8h0M229.4 285.5h0M220.8 286.8h0M225.7 289.0h0M228.0 285.3h0M211.4 289.8h0M226.3 290.6h0M216.0 287.2h0M211.7 285.5h0M222.0 288.6h0M213.9 289.3h0M218.3 289.1h0M211.6 289.9h0M221.9 286.2h0M224.9 290.7h0M216.4 288.6h0M220.4 288.5h0M217.4 287.5h0M230.7 289.1h0M219.7 291.6h0M213.0 289.2h0M223.8 286.9h0M233.7 291.1h0M230.3 284.8h0M226.1 290.5h0M219.6 290.4h0M224.2 290.9h0" stroke="#c8102e" stroke-width="1.64" stroke-linecap="square" fill="none"/>
<path d="M233.9 266.1h0M219.1 279.4h0M210.7 271.6h0M224.3 284.3h0M214.1 279.3h0M232.1 279.0h0M221.1 282.2h0M217.7 283.5h0M233.8 282.1h0M225.0 270.3h0M234.2 283.2h0M220.7 280.9h0M234.3 282.7h0M217.6 280.9h0M213.6 281.1h0M221.3 279.2h0M229.5 282.9h0M211.0 274.5h0M217.3 280.4h0M229.5 268.6h0M217.1 283.3h0M234.4 284.0h0M225.3 282.9h0M226.2 281.1h0M228.5 279.4h0M228.9 284.2h0M223.5 282.9h0M217.8 282.5h0M221.8 280.5h0M228.6 282.3h0M211.6 279.6h0M221.6 283.3h0M232.0 270.1h0M211.0 280.3h0M221.0 276.0h0M227.7 279.9h0M222.3 279.0h0M220.0 270.4h0M231.1 282.0h0M217.8 283.7h0M212.3 274.4h0M227.4 274.1h0M217.6 281.6h0M232.6 275.9h0M222.2 284.1h0" stroke="#c8102e" stroke-width="1.64" stroke-linecap="square" fill="none"/>
<path d="M221.5 200.5h0M213.6 201.0h0M222.0 221.0h0M221.5 244.0h0M221.6 236.0h0M222.0 226.0h0" stroke="#c8102e" stroke-width="1.64" stroke-linecap="square" fill="none"/>
<path d="M251.6 286.1h0M241.7 289.0h0M252.5 289.5h0M243.7 287.9h0M258.4 290.2h0M238.5 284.4h0M256.0 295.0h0M255.4 287.5h0M239.1 290.2h0M254.0 287.1h0M261.7 288.6h0M245.2 287.3h0M260.8 291.6h0M248.2 292.6h0M241.9 288.3h0M240.6 288.3h0M247.4 290.0h0M252.3 289.5h0M256.5 290.2h0M248.7 287.8h0M245.8 286.0h0M261.4 286.8h0M247.3 293.6h0M241.7 290.7h0M253.7 283.0h0M251.8 288.7h0M253.4 288.7h0M244.3 293.0h0M256.7 287.3h0M243.8 288.8h0M247.2 288.8h0M255.7 287.0h0M254.3 293.1h0M240.2 291.4h0M241.0 287.0h0M259.8 287.7h0M249.9 286.5h0M238.6 294.1h0M256.0 290.7h0M261.7 289.6h0M254.9 289.3h0M262.2 290.6h0M254.5 289.8h0M253.5 287.4h0M246.8 289.3h0M253.2 291.9h0M246.6 287.7h0M258.7 290.1h0M254.1 290.1h0M259.2 285.8h0M250.8 285.5h0M256.4 286.7h0M247.8 289.7h0M243.0 289.5h0M238.9 291.8h0M256.9 286.7h0M237.9 283.0h0M253.4 290.3h0M248.6 287.6h0M241.8 289.3h0M241.9 286.8h0M259.9 291.2h0M241.7 288.9h0M241.9 291.6h0M245.1 289.3h0M238.7 292.7h0M261.0 283.9h0M255.1 294.5h0M254.7 283.0h0M240.8 290.4h0M254.6 287.8h0M256.1 293.6h0M242.0 289.2h0M243.7 289.7h0M239.9 283.0h0M247.0 294.0h0M245.7 286.4h0M256.2 289.5h0M255.8 290.2h0M254.7 291.0h0M261.4 286.9h0M262.3 286.3h0M238.1 294.2h0M248.2 291.1h0M239.0 283.0h0M250.9 286.1h0M246.7 290.0h0M260.4 289.7h0M250.2 290.0h0M244.0 288.6h0M239.2 288.1h0M244.3 289.7h0M248.1 288.6h0M238.8 290.0h0M262.2 290.6h0M248.0 292.4h0M251.2 291.4h0M240.6 290.4h0M251.4 292.8h0M259.3 286.9h0M243.3 293.0h0M250.1 289.4h0M252.2 285.8h0M256.0 292.1h0M260.7 287.8h0M258.6 292.3h0M243.5 291.1h0M240.1 290.8h0M257.2 290.2h0M241.1 286.5h0M239.9 289.0h0M248.6 290.3h0M252.3 289.0h0M255.4 290.1h0M239.1 289.8h0M247.2 291.5h0M240.4 286.6h0M256.7 290.3h0M251.8 292.7h0M256.9 286.2h0M252.3 283.5h0M254.3 291.1h0M261.8 288.3h0M244.6 284.1h0M258.2 287.8h0M239.5 290.1h0M242.1 288.6h0M245.0 293.8h0M239.5 289.4h0M238.6 284.9h0M239.2 291.1h0M259.4 291.2h0M261.6 287.2h0M248.6 287.5h0M247.0 288.8h0M252.5 289.4h0M258.6 288.8h0M251.2 287.6h0M242.2 288.1h0M261.4 285.6h0M257.8 291.1h0M260.8 290.9h0M249.4 285.8h0M257.1 290.4h0M261.3 283.0h0M252.8 287.3h0M240.5 290.3h0M239.2 285.9h0M262.4 293.1h0M249.9 289.9h0M259.9 287.3h0M244.8 290.4h0M242.9 286.2h0M256.7 287.9h0M243.9 287.6h0M262.5 290.9h0M258.9 291.6h0M247.9 285.4h0M241.5 290.8h0M238.8 285.8h0M242.1 293.1h0M260.4 292.0h0M242.9 289.8h0M255.0 286.3h0M259.5 284.9h0M247.3 285.0h0M238.2 284.8h0M242.5 288.7h0M247.6 288.7h0M245.7 289.7h0M247.5 284.1h0M247.9 289.7h0M262.5 291.9h0M255.2 283.0h0M254.7 283.4h0M247.0 287.7h0M252.7 287.3h0M245.0 285.5h0M239.8 291.6h0M252.4 290.6h0" stroke="#1d4f8c" stroke-width="1.64" stroke-linecap="square" fill="none"/>
<path d="M255.8 276.2h0M261.1 285.7h0M255.8 286.1h0M256.7 288.3h0M261.8 279.0h0M255.1 268.5h0M256.4 272.6h0M243.1 280.5h0M260.3 282.5h0M262.3 286.5h0M247.7 281.9h0M247.7 289.0h0M254.2 287.2h0M260.7 268.3h0M247.6 280.4h0M255.1 288.0h0M255.8 281.7h0M260.1 284.8h0M245.5 286.8h0M253.5 286.2h0M242.1 268.5h0M257.1 280.0h0M239.5 286.7h0M258.7 281.5h0M256.1 270.0h0M248.5 284.1h0M260.5 282.2h0M244.9 285.8h0M262.1 280.6h0M238.7 287.1h0M252.0 287.9h0M242.5 280.7h0M252.8 287.1h0M255.2 279.6h0M239.4 277.3h0M258.8 283.0h0M245.9 260.6h0M254.0 271.9h0M243.6 265.5h0M258.9 278.3h0M240.4 283.2h0M241.8 287.1h0M241.7 288.1h0M240.5 280.4h0M256.3 276.2h0M258.0 273.7h0M261.0 277.8h0M253.5 260.7h0M240.5 258.8h0M239.5 288.0h0M247.3 286.9h0M254.9 283.5h0M240.0 276.8h0M251.5 284.4h0M240.8 284.8h0M247.3 280.8h0M250.3 278.6h0M261.5 259.4h0M256.9 288.3h0M245.3 277.5h0M249.9 287.9h0M256.3 285.1h0M247.5 266.4h0M250.4 285.9h0M257.6 278.3h0M245.3 281.3h0M259.1 285.3h0M239.2 282.4h0M243.8 284.1h0M239.7 279.1h0M240.3 286.2h0M262.5 283.2h0M247.6 282.0h0M240.2 264.5h0M258.2 285.0h0M257.0 289.0h0M238.3 285.0h0M249.4 286.4h0M250.8 284.7h0M243.4 288.5h0M249.7 283.7h0M244.9 288.2h0M255.1 261.1h0M239.2 282.6h0M257.4 284.5h0M252.7 283.9h0M254.0 268.1h0M238.8 279.9h0M257.1 288.8h0M259.8 284.2h0M260.8 273.3h0M262.9 284.7h0M260.2 276.3h0M257.4 287.6h0M262.2 284.1h0M248.4 286.8h0M249.6 286.2h0M254.6 286.0h0M242.1 287.8h0M239.7 283.5h0M260.3 284.7h0M242.8 269.5h0M258.6 288.8h0M252.9 259.9h0M243.8 287.7h0M261.3 266.2h0M242.5 288.7h0M244.6 284.0h0M247.2 276.4h0M241.7 275.6h0M262.3 282.4h0M240.2 278.1h0M254.0 287.9h0M247.1 284.8h0M252.4 283.2h0M243.9 258.6h0M244.5 281.4h0M256.2 281.9h0M249.9 287.7h0M238.1 278.0h0M248.4 275.7h0M253.2 282.7h0M239.3 274.8h0M238.9 282.8h0M246.5 284.6h0M245.3 288.8h0M254.3 283.6h0M247.2 265.7h0M255.7 282.2h0M261.6 264.1h0M242.1 285.8h0M239.8 264.8h0M256.3 283.6h0M247.6 282.2h0M245.4 265.7h0M258.6 281.8h0M246.7 287.7h0M252.0 282.9h0M249.2 286.9h0M240.1 288.4h0M241.5 285.2h0M244.5 258.2h0M257.5 286.1h0M244.5 276.8h0M253.5 273.1h0M253.6 284.6h0M244.5 286.5h0M248.9 270.2h0M242.3 268.5h0M239.2 287.7h0M251.9 276.9h0M239.0 288.9h0M250.3 273.4h0M238.9 270.5h0M240.8 281.0h0M253.2 277.5h0M243.4 280.5h0M240.7 262.2h0M255.0 288.4h0M239.6 288.1h0M254.1 283.4h0M255.9 269.0h0M254.0 288.4h0M240.9 272.3h0M244.4 276.4h0M237.9 285.8h0M250.8 276.2h0M249.5 268.1h0M243.3 287.5h0M261.6 286.2h0" stroke="#1d4f8c" stroke-width="1.64" stroke-linecap="square" fill="none"/>
<path d="M250.6 242.5h0M254.6 249.0h0M252.2 257.0h0M244.5 262.0h0M256.0 263.5h0" stroke="#1d4f8c" stroke-width="1.64" stroke-linecap="square" fill="none"/>
<line x1="452.90" y1="196.40" x2="452.90" y2="299.00" stroke="#1a1a1a" stroke-width="1.3"/>
<line x1="452.25" y1="299.00" x2="512.90" y2="299.00" stroke="#1a1a1a" stroke-width="1.3"/>
<line x1="449.90" y1="286.40" x2="452.90" y2="286.40" stroke="#1a1a1a" stroke-width="1.1"/>
<text x="447.10" y="289.30" font-size="8.2" text-anchor="end" textLength="18.9" lengthAdjust="spacingAndGlyphs" fill="#000">−0.05</text>
<line x1="449.90" y1="263.30" x2="452.90" y2="263.30" stroke="#1a1a1a" stroke-width="1.1"/>
<text x="447.10" y="266.20" font-size="8.2" text-anchor="end" textLength="14.5" lengthAdjust="spacingAndGlyphs" fill="#000">0.00</text>
<line x1="449.90" y1="240.00" x2="452.90" y2="240.00" stroke="#1a1a1a" stroke-width="1.1"/>
<text x="447.10" y="242.90" font-size="8.2" text-anchor="end" textLength="14.5" lengthAdjust="spacingAndGlyphs" fill="#000">0.10</text>
<line x1="449.90" y1="217.20" x2="452.90" y2="217.20" stroke="#1a1a1a" stroke-width="1.1"/>
<text x="447.10" y="220.10" font-size="8.2" text-anchor="end" textLength="14.5" lengthAdjust="spacingAndGlyphs" fill="#000">0.20</text>
<line x1="469.60" y1="299.00" x2="469.60" y2="301.60" stroke="#1a1a1a" stroke-width="1.1"/>
<line x1="496.80" y1="299.00" x2="496.80" y2="301.60" stroke="#1a1a1a" stroke-width="1.1"/>
<text x="469.80" y="306.90" font-size="8.6" text-anchor="end" textLength="37.2" lengthAdjust="spacingAndGlyphs" transform="rotate(-45 469.80 306.90)" fill="#000">OS &gt;2 year</text>
<text x="497.00" y="306.90" font-size="8.6" text-anchor="end" textLength="37.2" lengthAdjust="spacingAndGlyphs" transform="rotate(-45 497.00 306.90)" fill="#000">OS &lt;2 year</text>
<text x="423.70" y="248.60" font-size="8.2" text-anchor="middle" textLength="55.8" lengthAdjust="spacingAndGlyphs" transform="rotate(-90 423.70 248.60)" fill="#000" stroke="#000" stroke-width="0.15">Expression intensity</text>
<text x="455.00" y="205.70" font-size="7.5" textLength="26.1" lengthAdjust="spacingAndGlyphs" fill="#111">PC2_sig</text>
<text x="455.00" y="215.39" font-size="7.2" textLength="37.4" lengthAdjust="spacingAndGlyphs" fill="#111">p=1.04E-53</text>
<path d="M470.1 246.3 L471.6 252.3 L474.1 258.4 L478.6 264.4 L482.1 273.4 L478.6 281.0 L474.6 287.0 L471.1 291.5 L469.9 293.0 L469.3 293.0 L468.1 291.5 L464.6 287.0 L460.6 281.0 L457.1 273.4 L460.6 264.4 L465.1 258.4 L467.6 252.3 L469.1 246.3Z" fill="#c8102e" fill-opacity="0.55" stroke="#c8102e" stroke-width="0.6" stroke-linejoin="round"/>
<path d="M468.0 255.9h0M461.0 275.3h0M471.3 278.4h0M467.0 288.9h0M479.7 269.4h0M467.4 272.2h0M465.9 260.0h0M472.0 262.0h0M474.4 264.2h0M461.9 261.7h0M477.9 279.8h0M467.5 269.9h0M470.4 256.9h0M469.8 259.8h0M476.1 268.1h0M463.5 271.6h0M469.9 266.3h0M457.8 271.0h0M463.6 273.1h0M469.0 281.1h0M462.1 281.7h0M480.6 280.3h0M460.7 275.2h0M471.5 278.9h0M479.2 276.1h0M478.0 277.2h0M475.2 277.9h0M472.5 269.9h0M469.5 283.5h0M462.3 268.7h0M473.3 276.7h0M463.8 257.0h0M475.7 277.0h0M464.7 269.8h0M471.7 280.6h0M473.4 281.7h0M462.6 285.6h0M457.9 268.6h0M472.6 275.4h0M479.8 275.1h0M479.4 264.5h0M458.4 267.4h0M474.2 267.6h0M473.2 265.7h0M465.6 267.0h0M470.3 282.2h0M463.2 285.5h0M459.9 274.6h0M464.4 259.8h0M458.3 266.2h0M476.4 285.2h0M469.0 274.4h0M477.1 283.8h0M460.7 274.7h0M477.0 266.2h0M473.4 257.0h0M475.9 274.1h0M477.5 265.3h0M473.0 282.7h0M461.1 268.2h0M464.5 257.7h0M467.3 259.9h0M468.2 290.4h0M478.3 267.9h0M474.3 259.6h0M469.8 269.8h0M472.3 267.4h0M461.5 265.2h0M471.3 260.6h0M468.1 273.9h0M461.0 280.6h0M470.5 249.5h0M477.9 278.7h0M469.2 285.9h0M461.8 267.7h0M472.2 265.1h0M468.5 266.7h0M474.3 259.7h0M469.6 277.1h0M480.9 273.4h0M466.5 282.7h0M481.3 274.9h0M462.4 260.9h0M466.7 258.2h0M458.6 279.9h0M471.6 272.3h0M466.1 259.5h0M459.6 267.7h0M466.6 274.0h0M462.1 260.1h0M455.8 273.6h0M464.9 260.4h0M464.2 277.3h0M478.9 280.4h0M469.3 279.2h0M462.2 278.6h0M459.8 268.1h0M469.1 280.9h0M464.4 270.7h0M473.9 272.4h0M469.1 260.9h0M459.6 274.4h0M462.4 267.1h0M466.1 260.1h0M467.9 288.8h0M458.4 278.8h0M474.3 257.0h0M469.1 266.9h0M473.8 269.0h0M470.4 280.0h0M469.7 274.9h0M474.2 277.2h0M471.9 263.5h0M474.3 279.4h0M476.3 275.3h0M476.5 270.8h0M481.1 267.0h0M471.8 291.0h0M476.9 276.7h0M469.4 286.5h0M481.8 275.0h0M475.2 281.6h0M473.2 271.1h0M471.2 269.3h0M461.9 261.2h0M474.0 259.3h0M469.0 272.8h0M467.2 261.6h0M465.6 262.8h0M459.6 275.7h0M460.3 270.8h0M468.4 283.0h0M477.1 282.1h0M464.1 266.1h0M475.1 288.7h0M458.2 272.2h0M468.5 266.2h0M476.4 268.5h0M474.1 270.8h0M460.4 270.6h0M473.5 265.2h0M466.2 262.0h0M478.5 269.3h0M459.3 268.9h0M464.7 256.1h0M468.2 270.7h0M460.4 269.3h0M464.7 280.2h0M465.9 278.1h0M464.5 262.4h0" stroke="#c8102e" stroke-width="1.64" stroke-linecap="square" fill="none"/>
<path d="M458.5 250.0h0M461.0 254.0h0M478.0 255.0h0M456.0 259.5h0M480.5 262.0h0M484.0 270.0h0M480.0 286.0h0M476.0 295.6h0M470.0 291.0h0" stroke="#c8102e" stroke-width="1.64" stroke-linecap="square" fill="none"/>
<path d="M497.2 201.0 L497.5 205.0 L497.9 226.0 L500.4 232.0 L502.9 236.0 L506.9 242.0 L509.9 251.0 L509.4 260.0 L505.9 270.4 L501.9 279.5 L499.4 285.5 L497.9 289.3 L497.2 290.5 L496.6 290.5 L495.9 289.3 L494.4 285.5 L491.9 279.5 L487.9 270.4 L484.4 260.0 L483.9 251.0 L486.9 242.0 L490.9 236.0 L493.4 232.0 L495.9 226.0 L496.3 205.0 L496.6 201.0Z" fill="#1d4f8c" fill-opacity="0.55" stroke="#1d4f8c" stroke-width="0.6" stroke-linejoin="round"/>
<path d="M490.7 262.2h0M499.7 256.1h0M501.2 237.6h0M494.9 259.8h0M487.5 243.4h0M504.9 256.1h0M507.5 260.8h0M496.6 286.3h0M493.3 244.9h0M499.9 249.4h0M501.8 261.4h0M495.2 259.7h0M503.5 268.4h0M495.3 273.6h0M501.1 241.2h0M483.1 251.2h0M502.0 252.9h0M500.3 242.7h0M499.9 248.8h0M503.2 273.5h0M503.5 248.8h0M492.0 250.8h0M501.3 259.6h0M486.4 247.3h0M508.5 266.1h0M493.2 256.7h0M498.1 262.8h0M487.6 266.4h0M506.0 252.4h0M504.4 254.6h0M501.8 244.6h0M499.4 248.0h0M498.3 274.8h0M498.3 249.7h0M500.4 267.3h0M491.6 268.7h0M487.5 271.9h0M501.3 241.9h0M503.7 270.4h0M504.2 251.1h0M504.8 271.7h0M501.0 251.2h0M502.2 254.8h0M506.6 240.5h0M492.7 261.2h0M509.5 246.2h0M507.8 247.5h0M499.5 266.7h0M499.7 240.7h0M495.1 234.8h0M485.6 247.1h0M492.3 264.7h0M503.9 266.0h0M498.5 265.7h0M491.7 280.1h0M489.4 273.0h0M493.1 259.5h0M494.1 243.5h0M490.5 259.7h0M490.3 266.8h0M507.0 263.9h0M486.4 247.3h0M492.9 250.5h0M495.6 272.7h0M493.1 241.8h0M497.4 241.7h0M486.9 249.0h0M488.7 238.7h0M504.1 262.6h0M508.9 247.6h0M503.5 263.6h0M502.9 253.5h0M490.3 257.1h0M499.3 256.4h0M492.0 264.3h0M506.3 270.9h0M493.7 287.6h0M498.6 251.8h0M490.3 247.0h0M501.8 239.4h0M499.8 243.3h0M493.7 247.6h0M495.1 254.9h0M498.2 236.8h0M493.1 278.2h0M494.6 254.1h0M497.1 248.3h0M487.1 241.4h0M498.5 254.5h0M496.8 242.3h0M505.1 243.5h0M491.1 269.5h0M492.4 268.9h0M500.5 259.6h0M501.2 263.5h0M507.9 246.2h0M491.7 240.5h0M489.7 260.7h0M500.2 234.3h0M504.9 253.7h0M506.4 273.4h0M495.7 270.8h0M489.0 273.3h0M501.3 270.1h0M499.4 273.8h0M504.3 236.4h0M500.9 240.7h0M489.3 257.1h0M496.7 274.5h0M491.9 255.1h0M505.4 259.4h0M502.2 280.0h0M497.9 287.0h0M498.3 254.3h0M492.3 278.6h0M510.3 260.8h0M498.2 251.1h0M509.8 248.7h0M500.5 272.8h0M500.8 268.0h0M493.7 254.0h0M492.5 280.2h0M507.8 251.3h0M494.6 281.8h0M489.0 261.1h0M486.7 255.2h0M506.6 267.4h0M492.5 248.1h0M493.1 252.0h0M495.3 288.1h0M507.5 250.1h0M485.6 242.1h0M495.5 251.9h0M493.8 269.8h0M509.8 255.8h0M491.6 274.9h0M503.0 243.8h0M495.3 279.7h0M495.9 275.0h0M488.9 243.6h0M504.0 239.3h0M508.8 266.5h0M507.6 244.8h0M500.6 262.8h0M500.5 260.8h0M506.2 268.0h0M491.2 243.5h0M505.5 245.5h0M487.7 255.7h0M487.2 252.8h0M491.2 265.5h0M484.7 255.8h0M506.1 264.9h0M494.5 269.1h0M501.2 269.6h0M498.5 248.1h0M506.6 266.2h0M486.2 249.2h0M496.2 264.0h0M495.1 248.9h0M492.5 245.9h0M506.4 239.3h0M494.9 256.6h0M498.1 261.7h0M507.5 242.4h0M489.6 250.4h0M496.5 268.4h0M500.2 251.0h0M497.1 261.8h0M491.3 243.3h0M496.5 244.4h0M502.6 253.5h0M499.1 261.4h0M494.8 248.1h0M499.5 273.3h0M496.7 243.5h0M496.4 232.9h0M503.3 240.8h0M488.2 243.1h0M502.1 245.8h0M497.3 263.0h0M506.3 260.1h0M500.9 251.5h0M488.4 259.7h0M495.9 262.4h0M507.8 245.9h0M496.5 234.0h0M494.3 236.7h0M499.0 246.1h0M504.7 254.3h0M493.6 257.0h0M503.0 261.6h0M503.5 255.4h0M489.9 249.1h0M486.8 260.3h0M485.7 251.5h0M506.5 256.1h0M493.9 233.5h0M490.3 247.4h0M497.8 251.9h0M491.5 248.8h0M493.7 265.4h0M492.7 273.2h0M494.1 255.2h0M502.9 259.3h0M504.7 256.4h0M500.9 249.4h0M494.2 275.2h0M490.8 255.8h0M492.4 255.8h0M484.8 253.4h0M506.8 239.8h0M490.6 241.8h0M496.0 244.2h0M496.8 277.4h0M502.6 263.2h0M490.8 249.5h0M492.4 275.3h0M487.4 260.7h0M502.0 264.0h0M488.1 251.9h0M504.5 262.5h0M486.5 243.2h0M489.2 249.5h0M494.0 250.2h0M484.1 251.6h0M487.5 249.0h0M504.8 268.3h0M505.4 268.6h0M498.9 250.5h0M496.3 243.9h0M488.6 243.7h0M492.7 265.2h0M489.9 253.5h0M486.7 268.5h0M506.6 265.1h0M483.7 256.5h0M503.3 245.1h0M497.4 283.2h0M506.2 261.7h0M494.5 248.5h0M486.7 240.6h0M486.9 252.5h0M487.8 273.8h0M502.1 232.4h0M484.1 258.7h0M489.8 269.5h0M492.4 257.6h0M498.4 264.8h0M503.9 259.7h0M495.5 265.8h0M487.8 255.4h0M488.4 252.0h0M504.4 275.1h0M485.8 259.4h0M493.6 248.9h0M503.3 235.8h0M507.1 248.9h0M499.8 280.9h0M509.6 262.5h0M507.1 261.6h0M500.0 261.5h0M498.3 239.9h0M505.6 261.4h0M510.7 252.4h0M505.7 261.7h0M509.5 250.4h0M501.5 233.2h0M504.2 265.1h0M492.6 258.0h0M510.6 261.0h0M501.7 236.6h0M501.7 254.3h0M498.2 265.8h0M504.1 263.5h0M499.3 238.3h0M491.1 243.3h0M488.4 260.2h0M490.3 240.7h0M505.5 238.2h0M499.2 288.3h0M506.2 265.9h0M500.3 245.9h0M503.6 249.2h0M506.2 265.6h0M497.0 245.0h0M488.5 258.0h0M483.7 254.8h0M484.6 247.0h0M506.6 259.6h0M509.1 261.8h0M493.4 267.3h0M494.1 249.5h0M502.6 254.3h0M502.0 247.0h0M494.4 278.1h0M506.5 267.9h0M484.6 256.2h0M500.0 238.3h0M498.8 289.8h0M489.3 270.6h0M488.8 261.7h0M499.2 241.7h0M496.1 284.0h0M507.1 268.0h0M497.3 268.7h0M499.4 233.7h0M506.8 256.3h0M505.6 254.6h0M498.3 280.7h0M485.2 259.3h0M503.7 243.1h0M498.5 277.8h0M490.3 257.8h0M508.1 252.1h0M504.1 239.1h0M499.8 257.9h0M491.5 247.2h0M499.0 262.1h0M499.5 254.2h0M489.1 272.7h0M487.6 268.4h0M497.8 247.1h0M498.6 279.6h0M488.0 249.8h0M488.1 238.5h0M497.1 276.3h0M498.4 270.2h0M510.5 258.1h0M488.6 263.0h0M500.5 239.1h0M499.3 248.2h0M485.5 253.2h0M493.4 239.1h0M491.8 239.9h0M507.5 268.1h0M506.8 267.6h0M503.2 245.8h0M487.7 265.5h0M497.0 283.2h0" stroke="#1d4f8c" stroke-width="1.64" stroke-linecap="square" fill="none"/>
<path d="M496.9 201.5h0M492.0 217.0h0M507.0 222.5h0M501.5 226.5h0M485.0 229.0h0" stroke="#1d4f8c" stroke-width="1.64" stroke-linecap="square" fill="none"/>
<line x1="52.50" y1="352.50" x2="52.50" y2="465.90" stroke="#1a1a1a" stroke-width="1.3"/>
<line x1="51.85" y1="465.90" x2="141.30" y2="465.90" stroke="#1a1a1a" stroke-width="1.3"/>
<line x1="49.50" y1="460.20" x2="52.50" y2="460.20" stroke="#1a1a1a" stroke-width="1.1"/>
<text x="45.90" y="463.10" font-size="8.2" text-anchor="end" textLength="10.4" lengthAdjust="spacingAndGlyphs" fill="#000">0.0</text>
<line x1="49.50" y1="434.10" x2="52.50" y2="434.10" stroke="#1a1a1a" stroke-width="1.1"/>
<text x="45.90" y="437.00" font-size="8.2" text-anchor="end" textLength="10.4" lengthAdjust="spacingAndGlyphs" fill="#000">0.5</text>
<line x1="49.50" y1="407.70" x2="52.50" y2="407.70" stroke="#1a1a1a" stroke-width="1.1"/>
<text x="45.90" y="410.60" font-size="8.2" text-anchor="end" textLength="10.4" lengthAdjust="spacingAndGlyphs" fill="#000">1.0</text>
<line x1="49.50" y1="381.30" x2="52.50" y2="381.30" stroke="#1a1a1a" stroke-width="1.1"/>
<text x="45.90" y="384.20" font-size="8.2" text-anchor="end" textLength="10.4" lengthAdjust="spacingAndGlyphs" fill="#000">1.5</text>
<line x1="49.50" y1="355.20" x2="52.50" y2="355.20" stroke="#1a1a1a" stroke-width="1.1"/>
<text x="45.90" y="358.10" font-size="8.2" text-anchor="end" textLength="10.4" lengthAdjust="spacingAndGlyphs" fill="#000">2.0</text>
<line x1="76.70" y1="465.90" x2="76.70" y2="468.50" stroke="#1a1a1a" stroke-width="1.1"/>
<line x1="117.10" y1="465.90" x2="117.10" y2="468.50" stroke="#1a1a1a" stroke-width="1.1"/>
<text x="76.90" y="473.80" font-size="8.6" text-anchor="end" textLength="37.2" lengthAdjust="spacingAndGlyphs" transform="rotate(-45 76.90 473.80)" fill="#000">OS &gt;2 year</text>
<text x="117.30" y="473.80" font-size="8.6" text-anchor="end" textLength="37.2" lengthAdjust="spacingAndGlyphs" transform="rotate(-45 117.30 473.80)" fill="#000">OS &lt;2 year</text>
<text x="82.10" y="352.17" font-size="8.8" textLength="28.3" lengthAdjust="spacingAndGlyphs" fill="#000">SORT1</text>
<text x="102.90" y="372.38" font-size="6.6" textLength="22.8" lengthAdjust="spacingAndGlyphs" fill="#222">p=.066</text>
<text x="28.30" y="409.70" font-size="8.2" text-anchor="middle" textLength="56.3" lengthAdjust="spacingAndGlyphs" transform="rotate(-90 28.30 409.70)" fill="#000" stroke="#000" stroke-width="0.15">Expression intensity</text>
<rect x="76.20" y="356.9" width="1.0" height="103.4" fill="#c8102e" fill-opacity="0.7"/>
<path d="M88.5 459.8h0M64.9 460.3h0M92.0 459.8h0M73.0 459.9h0M84.1 460.1h0M71.7 460.5h0M85.9 460.6h0M82.3 459.9h0M91.9 459.7h0M68.0 459.4h0M89.7 460.3h0M79.9 459.8h0M65.1 460.4h0M90.4 460.3h0M73.1 460.0h0M90.0 460.0h0M85.0 459.9h0M66.7 460.7h0M92.2 460.8h0M78.0 461.0h0M64.4 460.6h0M82.9 460.3h0M68.3 460.8h0M90.4 460.8h0M90.4 460.0h0M64.7 459.8h0M94.1 460.0h0M60.1 460.8h0M70.3 459.9h0M73.7 460.2h0M72.6 460.9h0M71.6 460.4h0M63.1 459.9h0M85.2 460.7h0M73.7 460.7h0M80.2 460.7h0M76.1 460.7h0M77.5 460.2h0M60.3 460.5h0M65.7 460.5h0M65.3 461.0h0M79.8 460.9h0M76.3 460.0h0M89.5 460.2h0M85.0 460.2h0M59.2 460.3h0M60.4 460.3h0M74.9 460.2h0M77.3 460.1h0M92.1 460.5h0M92.6 460.3h0M92.5 459.8h0M83.8 460.3h0M64.3 460.5h0M62.8 459.9h0M66.5 460.6h0M62.1 460.1h0M90.0 460.7h0M90.4 460.4h0M88.0 460.0h0M69.0 459.9h0M67.4 460.0h0M78.1 460.2h0M67.4 461.0h0M86.6 460.3h0M74.6 460.3h0M90.1 460.1h0M76.9 460.1h0M70.8 460.1h0M65.1 460.0h0M94.2 460.5h0M70.4 460.4h0M70.8 459.9h0M64.6 460.1h0M88.2 460.2h0M65.1 460.1h0M63.1 459.7h0M84.4 460.3h0M67.5 460.9h0M75.8 459.7h0M63.4 460.6h0M61.5 460.9h0M81.1 460.3h0M64.3 460.2h0M67.6 459.6h0M87.2 460.6h0M72.8 460.8h0M66.0 460.3h0M69.3 460.6h0M73.0 460.2h0M82.7 460.4h0M79.8 460.2h0M82.4 460.4h0M70.9 460.4h0M71.1 460.0h0M82.4 459.3h0M74.2 461.1h0M74.6 460.3h0M75.7 460.1h0M81.7 460.3h0M84.1 459.8h0M91.0 460.4h0M81.0 460.0h0M84.9 459.5h0M75.2 461.1h0M62.0 460.0h0M94.2 460.7h0M81.7 461.0h0M86.5 460.1h0M65.4 460.6h0M63.5 460.5h0M87.9 460.5h0M78.0 461.0h0M74.6 459.4h0M65.4 460.5h0M77.2 460.2h0M88.8 460.5h0M82.0 460.5h0M62.6 460.7h0M78.6 459.8h0M86.4 460.8h0M78.1 460.9h0M72.6 460.5h0M60.7 459.9h0M83.6 460.8h0M66.8 460.4h0M73.6 459.8h0M81.5 460.6h0M71.5 460.4h0M61.5 461.0h0M79.6 460.2h0M60.1 459.7h0M62.1 459.9h0M81.4 459.8h0M93.7 460.2h0M92.7 459.9h0M67.5 460.6h0M60.2 460.6h0M79.1 460.0h0M80.6 460.2h0M75.6 460.1h0M87.2 459.6h0M83.1 460.7h0M82.5 460.6h0M66.0 460.0h0M68.7 460.7h0M62.1 460.2h0M86.3 460.7h0M93.7 460.8h0M93.6 459.6h0" stroke="#c8102e" stroke-width="1.64" stroke-linecap="square" fill="none"/>
<path d="M88.2 357.2h0M74.4 404.3h0M73.9 406.6h0M79.1 408.1h0M77.5 416.4h0M83.0 413.3h0M91.3 432.8h0M68.0 441.4h0M67.0 444.5h0M81.3 449.1h0M67.9 454.0h0M77.0 453.4h0M82.7 456.0h0M89.6 454.8h0M70.1 457.8h0M85.0 458.5h0M63.0 458.2h0" stroke="#c8102e" stroke-width="1.64" stroke-linecap="square" fill="none"/>
<rect x="116.60" y="387.1" width="1.0" height="73.2" fill="#1d4f8c" fill-opacity="0.55"/>
<path d="M117.5 460.2h0M124.8 460.2h0M128.9 460.0h0M103.0 460.8h0M132.4 459.9h0M107.4 460.5h0M130.1 460.7h0M117.9 460.2h0M109.6 460.1h0M129.2 459.8h0M100.2 459.2h0M100.5 460.3h0M121.5 460.2h0M110.1 460.4h0M133.3 460.4h0M129.9 460.7h0M103.4 460.8h0M121.4 460.4h0M100.9 460.7h0M120.4 459.7h0M108.1 460.6h0M134.6 460.2h0M118.9 460.7h0M120.8 460.0h0M132.6 460.0h0M133.5 460.4h0M134.4 460.9h0M126.2 460.9h0M107.0 460.3h0M128.9 460.4h0M102.4 460.7h0M134.1 459.7h0M103.5 460.4h0M103.5 460.1h0M129.2 460.7h0M134.1 460.8h0M116.5 459.5h0M121.9 460.7h0M134.1 460.1h0M101.2 459.9h0M130.8 460.3h0M123.8 460.1h0M109.0 460.1h0M102.5 460.4h0M116.0 460.2h0M129.4 459.7h0M131.5 460.3h0M126.7 460.0h0M125.3 460.4h0M131.5 460.3h0M105.6 461.0h0M114.3 459.6h0M118.1 460.4h0M129.4 460.4h0M121.4 460.3h0M102.3 460.6h0M126.4 460.3h0M128.4 460.4h0M110.6 460.6h0M112.4 460.8h0M118.0 459.8h0M108.9 460.4h0M117.2 460.6h0M114.3 460.2h0M115.8 460.0h0M121.6 460.4h0M132.3 460.6h0M133.9 460.7h0M99.6 460.2h0M117.3 459.9h0M125.0 460.3h0M122.0 460.4h0M134.2 459.4h0M117.6 460.6h0M123.4 459.9h0M122.4 459.7h0M123.6 460.2h0M130.5 460.0h0M120.9 459.7h0M111.7 460.3h0M108.0 460.5h0M112.1 460.2h0M120.3 460.1h0M109.1 460.3h0M126.4 460.6h0M103.4 460.6h0M102.3 460.7h0M116.0 460.2h0M102.2 460.6h0M132.2 460.7h0M132.4 459.9h0M107.3 460.6h0M128.8 460.5h0M106.3 460.6h0M125.5 460.6h0M111.2 460.0h0M131.7 460.9h0M110.7 460.7h0M131.4 460.3h0M129.4 461.1h0M110.6 460.5h0M102.2 460.8h0M119.8 460.1h0M103.3 460.9h0M123.7 460.2h0M124.9 460.8h0M105.4 460.0h0M123.7 460.9h0M130.8 460.7h0M111.8 460.4h0M130.5 459.9h0M105.2 460.3h0M115.1 460.3h0M121.6 460.4h0M130.7 459.9h0M130.4 460.5h0M133.0 460.9h0M106.0 460.1h0M112.3 459.9h0M127.1 460.9h0M128.2 460.5h0M134.4 460.5h0M111.5 459.9h0M124.7 460.1h0M99.8 460.6h0M123.9 459.5h0M111.9 460.2h0M126.5 460.0h0M127.6 459.7h0M123.9 459.9h0M126.5 460.9h0M131.5 459.9h0M124.5 460.5h0M131.5 460.4h0M102.7 460.7h0M104.5 459.8h0M130.6 460.2h0M111.6 460.0h0M123.4 459.9h0M129.5 459.9h0M110.7 460.9h0M129.4 459.5h0M114.9 460.3h0M113.5 460.8h0M123.0 460.6h0M102.8 460.5h0M103.9 460.1h0M127.3 460.8h0M112.7 460.7h0M133.1 460.0h0M111.3 460.2h0M127.3 460.5h0M120.3 460.7h0M126.4 460.2h0M105.4 460.4h0M106.2 460.2h0M134.2 461.1h0M134.4 460.7h0M101.9 459.7h0M133.5 460.6h0M118.5 460.7h0M125.7 460.1h0M102.0 460.1h0M124.9 460.1h0M109.5 460.7h0M107.7 460.4h0M117.3 460.7h0M107.3 460.3h0M112.2 459.8h0M116.5 459.9h0M114.6 460.2h0M125.5 460.8h0M108.0 460.7h0M108.9 460.7h0M126.1 460.1h0M111.6 460.2h0M132.2 460.6h0M134.5 459.8h0M134.4 460.5h0M117.1 459.5h0M130.9 460.1h0M133.9 461.1h0M128.3 460.9h0M123.4 460.1h0M103.5 460.3h0M131.1 460.1h0M127.8 460.8h0M109.3 459.8h0M120.7 459.5h0M120.5 460.4h0M114.0 460.2h0M121.8 459.6h0M112.6 460.0h0M103.3 459.9h0M109.1 460.6h0M103.5 460.7h0M126.3 460.1h0M124.2 460.2h0M127.1 460.9h0M116.2 460.4h0M131.1 460.8h0M127.5 460.0h0M106.1 460.3h0M125.8 459.7h0M115.4 460.3h0M105.4 460.7h0M122.7 460.1h0M127.2 459.8h0M109.6 459.7h0M121.6 459.9h0M105.7 460.2h0M110.5 460.6h0M123.5 460.1h0M132.8 460.5h0M119.9 460.7h0M103.7 460.1h0M102.1 460.4h0M102.2 460.3h0M120.5 460.2h0M111.5 460.4h0" stroke="#1d4f8c" stroke-width="1.64" stroke-linecap="square" fill="none"/>
<path d="M127.5 387.1h0M106.8 410.7h0M106.8 419.0h0M113.2 419.0h0M114.9 430.2h0M121.8 429.7h0M123.0 433.6h0M127.9 434.0h0M124.4 438.8h0M107.2 444.8h0M108.0 445.3h0M127.0 445.3h0M131.0 445.7h0M132.2 448.3h0M106.3 448.3h0M124.4 450.0h0M120.6 454.0h0M125.3 453.4h0M101.0 456.0h0M104.0 457.5h0M110.0 456.5h0M113.0 457.0h0M118.0 458.0h0M129.0 457.0h0M133.0 456.3h0M103.0 458.5h0M115.0 455.6h0" stroke="#1d4f8c" stroke-width="1.64" stroke-linecap="square" fill="none"/>
<line x1="179.80" y1="353.30" x2="179.80" y2="466.10" stroke="#1a1a1a" stroke-width="1.3"/>
<line x1="179.15" y1="466.10" x2="267.30" y2="466.10" stroke="#1a1a1a" stroke-width="1.3"/>
<line x1="176.80" y1="460.70" x2="179.80" y2="460.70" stroke="#1a1a1a" stroke-width="1.1"/>
<text x="174.30" y="463.60" font-size="8.2" text-anchor="end" textLength="10.4" lengthAdjust="spacingAndGlyphs" fill="#000">0.0</text>
<line x1="176.80" y1="423.00" x2="179.80" y2="423.00" stroke="#1a1a1a" stroke-width="1.1"/>
<text x="174.30" y="425.90" font-size="8.2" text-anchor="end" textLength="10.4" lengthAdjust="spacingAndGlyphs" fill="#000">1.0</text>
<line x1="176.80" y1="385.30" x2="179.80" y2="385.30" stroke="#1a1a1a" stroke-width="1.1"/>
<text x="174.30" y="388.20" font-size="8.2" text-anchor="end" textLength="10.4" lengthAdjust="spacingAndGlyphs" fill="#000">2.0</text>
<line x1="203.70" y1="466.10" x2="203.70" y2="468.70" stroke="#1a1a1a" stroke-width="1.1"/>
<line x1="243.80" y1="466.10" x2="243.80" y2="468.70" stroke="#1a1a1a" stroke-width="1.1"/>
<text x="203.90" y="474.00" font-size="8.6" text-anchor="end" textLength="37.2" lengthAdjust="spacingAndGlyphs" transform="rotate(-45 203.90 474.00)" fill="#000">OS &gt;2 year</text>
<text x="244.00" y="474.00" font-size="8.6" text-anchor="end" textLength="37.2" lengthAdjust="spacingAndGlyphs" transform="rotate(-45 244.00 474.00)" fill="#000">OS &lt;2 year</text>
<text x="209.40" y="352.17" font-size="8.8" textLength="29.1" lengthAdjust="spacingAndGlyphs" fill="#000">LAMP2</text>
<text x="216.20" y="372.38" font-size="6.6" textLength="34.4" lengthAdjust="spacingAndGlyphs" fill="#222">p=1.46E-9</text>
<path d="M204.1 357.8 L204.2 450.0 L205.2 453.0 L207.7 455.6 L213.7 458.0 L218.7 459.5 L221.2 460.7 L219.7 461.5 L187.7 461.5 L186.2 460.7 L188.7 459.5 L193.7 458.0 L199.7 455.6 L202.2 453.0 L203.2 450.0 L203.3 357.8Z" fill="#c8102e" fill-opacity="0.55" stroke="#c8102e" stroke-width="0.6" stroke-linejoin="round"/>
<path d="M206.8 460.7h0M194.8 460.8h0M203.9 460.9h0M212.6 460.2h0M214.8 460.7h0M214.9 460.5h0M203.4 459.8h0M195.1 460.9h0M203.0 460.7h0M188.6 459.9h0M195.3 460.9h0M200.1 460.1h0M217.6 459.7h0M195.7 460.4h0M207.7 460.5h0M209.2 460.5h0M204.2 460.3h0M200.8 460.8h0M208.3 461.1h0M219.2 460.4h0M196.8 460.7h0M215.6 460.5h0M189.7 460.6h0M213.7 459.4h0M203.3 460.7h0M192.9 461.2h0M186.4 459.6h0M221.1 460.6h0M204.2 460.9h0M201.5 460.6h0M209.1 460.2h0M216.1 460.8h0M214.1 460.5h0M187.8 461.0h0M203.8 461.1h0M199.8 460.5h0M218.8 460.3h0M212.7 460.5h0M199.9 459.9h0M200.2 460.3h0M204.7 460.8h0M188.7 460.6h0M203.6 460.2h0M198.8 460.5h0M186.6 461.3h0M197.1 460.2h0M220.9 460.4h0M196.9 460.0h0M210.7 460.8h0M201.9 459.9h0M216.8 460.6h0M220.5 461.2h0M187.6 460.8h0M209.8 461.0h0M191.1 461.3h0M220.8 460.6h0M218.1 461.1h0M201.8 460.8h0M199.1 460.3h0M200.1 461.1h0M192.0 460.6h0M201.0 460.5h0M211.6 459.6h0M217.2 460.0h0M217.5 460.0h0M210.5 460.4h0M208.4 460.7h0M202.2 460.9h0M203.5 460.0h0M207.4 460.5h0M197.1 461.3h0M212.5 461.3h0M196.0 460.8h0M197.8 459.9h0M196.1 460.5h0M194.9 460.6h0M218.1 461.1h0M220.3 460.4h0M188.0 459.5h0M195.4 460.2h0M187.0 461.0h0M218.9 460.3h0M189.1 460.8h0M216.5 460.0h0M197.2 461.1h0M198.2 460.6h0M191.7 460.6h0M207.5 460.6h0M213.4 460.7h0M215.0 460.6h0M194.8 460.3h0M214.8 460.4h0M206.6 460.8h0M209.7 460.7h0M194.5 460.8h0M187.0 460.8h0M188.2 460.8h0M214.7 460.7h0M217.5 460.0h0M215.1 460.9h0M220.3 460.6h0M217.6 461.1h0M212.3 461.2h0M213.1 460.7h0M207.1 460.7h0M186.5 460.5h0M205.6 460.3h0M215.4 460.4h0M200.5 460.8h0M195.4 460.9h0M193.7 460.7h0M189.7 461.2h0M194.5 460.9h0M209.9 461.0h0M201.2 460.5h0M218.7 460.6h0M207.3 461.0h0M215.4 460.7h0M193.3 460.7h0M201.6 460.4h0M201.5 460.9h0M212.0 460.4h0M211.5 460.4h0M202.3 460.9h0M197.8 460.6h0M220.8 460.7h0M218.6 461.2h0M198.1 461.3h0M212.8 460.1h0M201.1 460.6h0M187.4 460.2h0M218.4 460.5h0M208.3 460.4h0M206.6 461.2h0M208.4 460.4h0M193.8 459.9h0M216.6 460.5h0M212.2 459.8h0M194.4 461.1h0M218.3 460.4h0M196.2 460.2h0M221.1 461.3h0M210.6 460.7h0M205.2 460.8h0M186.5 460.2h0M218.6 460.9h0M210.3 460.7h0M216.7 460.3h0M193.9 460.5h0M194.8 461.1h0M186.6 460.5h0M208.6 460.4h0M189.8 459.6h0M200.8 460.5h0M193.3 461.2h0M202.8 459.9h0M212.0 460.5h0M194.1 460.6h0M207.1 460.5h0M191.1 460.3h0M196.6 460.5h0M212.4 460.9h0M199.0 460.5h0M218.2 459.9h0M206.8 460.9h0M205.3 460.4h0M193.2 460.6h0M216.1 460.9h0M217.8 460.1h0M197.7 460.6h0M206.0 459.4h0M210.3 460.8h0M198.8 460.1h0M219.8 460.3h0M192.6 460.6h0M199.9 460.2h0M187.6 460.5h0M195.5 460.9h0M208.4 460.7h0M205.2 460.7h0M204.9 460.3h0M195.3 460.4h0M213.1 460.7h0M189.2 460.5h0M217.0 460.9h0M219.9 460.5h0M207.0 460.6h0M187.0 460.4h0M215.6 460.3h0M213.3 460.5h0M186.2 460.7h0M212.2 461.1h0M204.2 460.1h0M195.3 460.2h0M198.5 460.3h0M213.8 460.3h0M218.3 460.3h0M196.1 460.3h0M206.8 460.1h0M186.9 460.6h0" stroke="#c8102e" stroke-width="1.64" stroke-linecap="square" fill="none"/>
<path d="M199.3 446.7h0M220.7 457.1h0M220.0 418.9h0M210.1 452.5h0M194.9 425.0h0M211.5 435.2h0M205.3 435.3h0M195.5 452.3h0M203.7 449.7h0M193.4 445.4h0M220.9 458.9h0M217.2 448.1h0M191.9 397.4h0M194.3 454.7h0M193.9 460.4h0M210.7 433.8h0M204.6 455.2h0M211.5 431.7h0M212.7 428.2h0M190.7 458.0h0M201.8 424.4h0M211.7 426.0h0M211.1 419.1h0M217.7 445.0h0M203.1 429.4h0M198.2 411.8h0M207.0 448.7h0M196.4 454.6h0M209.0 457.5h0M202.9 442.3h0M199.0 448.1h0M191.8 436.2h0" stroke="#c8102e" stroke-width="1.64" stroke-linecap="square" fill="none"/>
<path d="M203.0 376.5h0M204.1 410.9h0M200.6 393.1h0M214.2 385.2h0M204.7 457.1h0M199.0 403.4h0M210.1 411.0h0M213.5 449.4h0M194.4 411.5h0M202.8 407.0h0M208.5 380.9h0M196.0 386.2h0M201.4 393.0h0M196.7 455.2h0M207.8 393.1h0M189.6 424.5h0M207.3 418.2h0M187.8 421.6h0" stroke="#c8102e" stroke-width="1.64" stroke-linecap="square" fill="none"/>
<path d="M190.3 358.2h0M190.0 381.0h0M198.0 381.5h0M200.5 383.0h0M215.0 385.6h0M201.5 393.5h0" stroke="#c8102e" stroke-width="1.64" stroke-linecap="square" fill="none"/>
<path d="M244.4 387.0 L245.3 390.0 L246.3 395.0 L247.0 400.0 L249.8 407.0 L251.8 415.5 L252.8 427.6 L253.8 443.0 L256.8 450.0 L260.3 453.4 L261.3 458.0 L260.3 460.9 L227.3 460.9 L226.3 458.0 L227.3 453.4 L230.8 450.0 L233.8 443.0 L234.8 427.6 L235.8 415.5 L237.8 407.0 L240.6 400.0 L241.3 395.0 L242.3 390.0 L243.2 387.0Z" fill="#1d4f8c" fill-opacity="0.6" stroke="#1d4f8c" stroke-width="0.6" stroke-linejoin="round"/>
<path d="M253.6 460.0h0M239.0 460.3h0M239.8 460.5h0M251.9 461.2h0M245.1 460.2h0M259.4 460.5h0M228.6 460.2h0M253.8 460.4h0M259.2 459.9h0M234.1 460.2h0M260.0 459.7h0M228.2 460.7h0M238.2 460.4h0M227.6 460.3h0M238.1 460.2h0M233.5 459.7h0M246.9 461.0h0M248.3 460.0h0M243.5 460.5h0M245.9 460.8h0M237.3 460.4h0M247.9 460.2h0M234.3 460.2h0M256.7 459.7h0M241.1 460.7h0M240.3 460.4h0M236.7 460.4h0M239.2 460.6h0M247.0 460.5h0M257.8 460.1h0M249.6 460.5h0M239.0 459.7h0M252.5 460.2h0M249.4 460.5h0M250.6 461.1h0M258.8 460.7h0M228.4 460.9h0M258.0 460.4h0M240.3 459.9h0M237.2 460.7h0M235.0 460.3h0M228.1 460.2h0M236.9 461.0h0M231.7 460.1h0M244.1 460.3h0M254.4 460.4h0M259.5 460.1h0M240.7 459.9h0M235.5 460.1h0M251.6 459.8h0M232.3 461.3h0M250.1 460.5h0M234.4 460.6h0M253.1 460.7h0M245.4 460.7h0M239.2 460.5h0M236.5 460.9h0M251.3 460.0h0M243.7 460.5h0M231.1 460.9h0M250.8 460.1h0M256.1 460.2h0M231.7 460.4h0M235.7 460.4h0M248.8 459.7h0M234.7 460.4h0M239.2 460.3h0M249.6 460.7h0M238.4 459.9h0M229.8 460.9h0" stroke="#1d4f8c" stroke-width="1.64" stroke-linecap="square" fill="none"/>
<path d="M240.9 436.1h0M231.6 420.7h0M235.5 440.7h0M251.9 418.9h0M255.9 424.5h0M248.4 415.1h0M233.8 454.6h0M239.3 460.0h0M258.1 436.3h0M230.9 454.0h0M239.3 458.9h0M243.4 432.3h0M247.4 442.8h0M231.5 456.4h0M247.3 438.2h0M236.3 426.2h0M242.2 396.6h0M234.6 456.8h0M253.9 433.1h0M238.6 414.6h0M242.8 404.2h0M242.4 428.1h0M244.9 452.4h0M255.8 453.3h0M259.9 411.2h0M234.6 415.0h0M231.3 458.6h0M237.5 423.2h0M249.8 451.7h0M229.9 398.8h0M260.0 421.1h0M254.1 411.2h0M243.3 448.1h0M228.7 440.4h0M245.5 440.7h0M243.1 450.4h0M239.6 418.1h0M242.5 459.1h0M242.0 436.4h0M260.0 443.6h0M232.6 429.7h0M231.6 433.1h0M234.5 423.2h0M253.5 411.9h0M229.5 442.6h0M251.5 436.3h0M256.5 454.9h0M228.9 455.4h0M228.1 456.8h0M257.6 431.7h0M252.0 395.7h0M256.0 444.1h0M228.6 402.9h0M247.4 449.3h0M253.8 408.6h0M245.2 421.0h0M236.0 413.4h0M242.8 447.7h0M259.2 414.5h0M252.3 415.7h0M250.0 392.3h0M254.3 450.2h0M231.3 448.9h0M244.1 398.3h0M230.7 433.2h0M248.7 460.1h0M234.7 437.4h0M251.8 395.7h0M235.9 393.5h0M242.2 455.6h0M245.8 416.7h0M232.6 450.2h0M231.1 461.0h0M242.1 458.8h0M259.0 451.8h0M229.9 449.9h0M258.1 440.9h0M230.8 457.6h0M227.4 398.2h0M247.0 459.8h0M238.1 451.6h0M251.8 435.9h0M259.4 428.5h0M245.5 448.3h0M232.6 432.5h0M243.7 449.2h0M237.6 422.3h0M236.0 443.4h0M235.3 393.9h0M237.0 448.5h0M248.4 446.4h0M247.5 456.0h0M238.8 452.6h0M245.9 445.0h0M249.3 445.0h0M252.2 444.3h0M234.4 457.4h0M241.8 437.0h0M232.1 434.5h0M243.5 413.5h0M228.0 431.3h0M246.1 419.7h0M230.0 431.5h0M259.0 436.0h0M236.7 402.9h0M240.5 447.2h0M244.0 456.2h0M252.1 460.4h0M245.2 443.1h0M247.7 433.0h0M233.6 442.7h0M227.9 459.3h0M254.7 425.5h0M228.2 430.7h0M259.8 423.8h0M249.7 442.8h0M229.8 416.7h0M230.6 429.0h0M229.5 401.3h0M241.5 460.3h0M227.4 459.0h0M249.7 413.5h0M252.5 459.0h0M247.1 442.3h0M237.2 452.5h0M227.3 411.6h0M248.5 453.9h0M245.0 394.2h0M246.2 459.0h0M231.9 432.7h0M257.6 450.8h0M258.9 458.7h0M254.7 443.9h0M252.6 454.8h0M246.5 450.6h0M238.0 425.6h0M236.1 447.4h0M233.6 395.5h0M238.1 400.7h0M249.2 436.5h0M237.4 458.7h0M249.2 394.9h0M251.3 423.7h0M240.5 449.8h0M235.7 413.2h0M232.8 460.1h0M233.4 450.8h0M254.2 415.9h0M249.4 455.5h0M241.6 461.0h0M259.0 445.5h0M255.9 454.2h0M241.5 418.9h0M235.3 392.2h0M227.8 415.5h0M245.4 402.5h0M256.9 403.3h0M253.8 454.2h0M254.7 456.1h0M244.7 408.5h0M233.3 451.9h0M230.7 447.1h0M246.3 458.1h0M232.3 460.4h0M240.4 461.0h0M242.5 457.2h0M245.3 442.8h0M246.5 435.7h0M229.1 454.5h0M240.7 442.3h0M236.4 447.1h0M234.4 449.4h0M241.3 440.8h0M250.2 431.8h0M250.7 459.1h0M257.5 419.0h0M241.2 435.2h0M247.7 399.3h0M254.1 451.5h0M259.4 432.3h0M254.1 454.7h0M255.4 435.1h0M246.1 398.2h0M249.6 441.3h0M237.9 414.5h0M238.0 456.7h0M239.4 440.7h0M259.1 447.7h0M244.2 433.0h0M254.8 411.4h0M243.0 440.3h0M245.2 457.7h0M243.5 439.6h0M254.6 437.6h0M252.5 451.5h0M259.5 443.6h0M258.9 456.2h0M243.0 442.3h0M234.8 447.2h0M232.3 455.7h0M253.2 446.1h0M238.0 440.4h0M233.6 421.3h0M231.6 457.8h0M259.9 448.1h0M257.6 405.9h0M234.6 450.9h0M250.1 436.6h0M227.9 411.0h0M231.0 407.1h0M248.4 404.4h0M241.6 436.2h0M230.9 449.3h0M248.8 410.2h0M230.0 429.9h0M258.2 408.0h0M242.4 421.7h0M229.9 426.9h0M256.6 439.6h0M235.5 446.4h0M257.4 455.9h0M241.4 402.7h0M233.8 435.9h0M241.8 449.5h0M232.3 454.9h0M244.8 412.2h0M257.5 410.0h0M239.6 437.7h0M228.8 437.6h0M244.2 425.6h0M256.6 405.0h0M259.9 434.2h0M237.0 406.8h0M243.2 438.7h0M258.7 459.9h0M255.5 438.6h0M257.2 404.1h0M256.3 433.6h0M232.3 441.5h0M232.9 449.6h0M230.8 443.5h0M233.8 426.2h0M233.2 389.5h0M259.7 450.2h0M239.9 457.3h0M238.7 459.6h0M256.0 433.0h0M249.0 446.2h0M242.9 434.1h0M232.8 453.5h0M246.0 397.4h0M255.4 405.2h0M239.0 459.5h0M244.9 442.5h0M235.4 392.6h0M238.3 404.8h0M249.3 455.4h0M255.0 414.7h0M235.5 409.6h0M260.2 447.2h0M256.0 438.0h0M236.1 456.6h0M229.7 458.9h0M257.2 428.6h0M254.5 399.9h0M228.9 430.2h0M242.8 456.1h0M256.3 457.6h0M250.0 420.2h0M228.3 411.8h0M234.1 404.2h0M240.9 421.5h0M236.7 459.5h0M255.5 440.4h0M232.9 428.1h0M231.4 458.9h0M231.2 454.3h0M232.3 453.4h0M243.5 400.8h0M235.4 459.1h0M250.7 451.7h0M246.3 460.4h0M245.9 412.8h0M227.8 429.2h0M243.0 436.7h0M254.6 458.4h0M229.3 457.5h0M247.9 407.0h0M252.4 450.6h0M244.7 457.9h0M244.5 455.9h0M240.9 459.2h0M232.4 402.8h0M257.6 454.2h0M249.0 455.3h0M254.5 448.3h0M233.9 450.2h0M232.6 433.6h0M240.3 395.0h0M233.5 420.9h0M259.6 459.8h0M257.2 449.1h0M237.1 421.8h0M255.6 446.5h0M259.2 457.5h0M248.4 460.2h0M241.8 409.7h0M259.4 414.5h0M254.0 458.1h0M243.0 434.4h0M254.3 402.4h0M252.6 425.6h0M230.1 416.7h0M258.0 455.7h0M247.9 418.3h0M243.6 406.8h0M229.6 453.2h0M245.8 460.9h0M248.1 450.4h0M238.2 456.0h0M228.6 455.6h0M255.5 455.4h0M243.7 405.6h0M237.0 407.0h0M246.3 454.8h0M251.6 456.9h0M247.7 422.5h0M231.9 430.4h0M227.8 445.2h0M234.1 417.7h0M248.0 426.0h0M229.4 413.2h0M230.6 431.1h0M246.0 459.6h0M242.3 429.7h0M242.0 421.3h0M250.1 432.7h0M252.9 454.0h0M249.5 456.4h0M230.5 456.4h0M231.6 406.4h0M246.2 403.0h0M238.8 451.6h0M256.5 430.0h0M231.7 446.0h0M235.9 409.9h0M235.3 400.5h0M229.2 405.3h0M248.0 453.7h0M243.4 442.7h0M259.2 459.1h0M230.7 432.3h0M231.5 453.6h0M255.9 456.5h0M244.4 449.0h0M255.9 402.9h0M232.6 426.2h0M239.7 446.4h0M237.2 417.5h0M252.6 428.2h0" stroke="#1d4f8c" stroke-width="1.64" stroke-linecap="square" fill="none"/>
<line x1="307.70" y1="356.00" x2="307.70" y2="466.10" stroke="#1a1a1a" stroke-width="1.3"/>
<line x1="307.05" y1="466.10" x2="392.30" y2="466.10" stroke="#1a1a1a" stroke-width="1.3"/>
<line x1="304.70" y1="460.70" x2="307.70" y2="460.70" stroke="#1a1a1a" stroke-width="1.1"/>
<text x="301.00" y="463.60" font-size="8.2" text-anchor="end" textLength="10.4" lengthAdjust="spacingAndGlyphs" fill="#000">0.0</text>
<line x1="304.70" y1="424.40" x2="307.70" y2="424.40" stroke="#1a1a1a" stroke-width="1.1"/>
<text x="301.00" y="427.30" font-size="8.2" text-anchor="end" textLength="10.4" lengthAdjust="spacingAndGlyphs" fill="#000">1.0</text>
<line x1="304.70" y1="388.00" x2="307.70" y2="388.00" stroke="#1a1a1a" stroke-width="1.1"/>
<text x="301.00" y="390.90" font-size="8.2" text-anchor="end" textLength="10.4" lengthAdjust="spacingAndGlyphs" fill="#000">2.0</text>
<line x1="330.40" y1="466.10" x2="330.40" y2="468.70" stroke="#1a1a1a" stroke-width="1.1"/>
<line x1="369.30" y1="466.10" x2="369.30" y2="468.70" stroke="#1a1a1a" stroke-width="1.1"/>
<text x="330.60" y="474.00" font-size="8.6" text-anchor="end" textLength="37.2" lengthAdjust="spacingAndGlyphs" transform="rotate(-45 330.60 474.00)" fill="#000">OS &gt;2 year</text>
<text x="369.50" y="474.00" font-size="8.6" text-anchor="end" textLength="37.2" lengthAdjust="spacingAndGlyphs" transform="rotate(-45 369.50 474.00)" fill="#000">OS &lt;2 year</text>
<text x="331.40" y="352.17" font-size="8.8" textLength="33.6" lengthAdjust="spacingAndGlyphs" fill="#000">TSG101</text>
<text x="338.60" y="372.38" font-size="6.6" textLength="33.7" lengthAdjust="spacingAndGlyphs" fill="#222">p=2.99E-5</text>
<rect x="329.90" y="360.3" width="1.0" height="100.2" fill="#c8102e" fill-opacity="0.7"/>
<path d="M316.0 461.0h0M330.7 460.5h0M328.6 460.6h0M315.7 460.7h0M321.8 460.9h0M338.0 460.8h0M314.5 460.5h0M346.8 460.1h0M329.3 460.4h0M340.9 460.6h0M323.4 460.5h0M336.5 460.5h0M317.3 460.5h0M324.1 460.5h0M337.2 460.4h0M347.1 460.6h0M336.2 460.6h0M319.4 459.9h0M345.2 460.8h0M327.6 460.0h0M329.4 460.9h0M346.6 460.4h0M337.4 460.3h0M337.6 460.6h0M340.5 460.3h0M328.3 460.5h0M335.6 460.9h0M333.1 460.2h0M333.5 460.6h0M315.0 460.1h0M315.7 460.4h0M334.0 461.1h0M345.2 460.8h0M342.0 460.4h0M336.0 460.8h0M331.2 459.9h0M342.0 460.6h0M345.4 460.3h0M336.6 460.5h0M325.1 460.5h0M339.7 459.6h0M314.4 461.2h0M335.3 460.0h0M332.8 460.5h0M322.2 460.4h0M327.2 460.7h0M330.9 461.1h0M334.3 461.1h0M316.1 460.5h0M335.5 460.7h0M326.1 460.2h0M318.1 460.7h0M342.6 460.7h0M333.8 460.7h0M344.8 461.0h0M337.7 460.7h0M336.8 460.5h0M345.1 460.0h0M335.0 460.4h0M317.9 461.1h0M327.9 460.6h0M334.7 460.6h0M342.3 460.4h0M336.6 460.7h0M335.1 460.0h0M314.7 460.2h0M328.4 460.8h0M344.6 460.4h0M321.0 460.6h0M329.9 460.7h0M340.6 460.5h0M334.3 459.8h0M344.3 460.7h0M318.0 460.2h0M314.0 460.4h0M331.7 460.7h0M321.8 460.4h0M321.7 460.4h0M323.9 460.7h0M345.2 460.0h0M337.8 460.9h0M320.8 460.4h0M320.5 461.1h0M332.0 460.3h0M340.0 460.5h0M318.2 460.4h0M315.9 460.3h0M337.7 460.6h0M327.5 460.5h0M324.1 459.9h0M344.2 460.4h0M326.8 460.5h0M316.5 460.4h0M314.0 461.1h0M343.6 460.9h0M336.4 460.2h0M336.9 460.3h0M342.6 460.5h0M338.0 459.9h0M338.4 461.3h0M315.6 460.9h0M338.1 461.2h0M325.0 460.6h0M323.6 460.9h0M330.7 460.6h0M315.1 460.7h0M338.1 460.3h0M326.6 460.5h0M320.9 460.2h0M325.5 461.1h0M339.8 459.9h0M346.8 460.4h0M331.0 460.8h0M336.6 460.4h0M337.6 461.1h0M327.4 460.6h0M332.6 460.0h0M315.0 459.9h0M329.3 461.0h0M328.7 460.3h0M326.1 460.4h0M315.8 460.6h0M347.2 460.8h0M321.6 461.1h0M332.9 460.3h0M347.0 461.1h0M341.8 460.5h0M335.2 460.0h0M333.7 460.2h0M320.8 461.2h0M328.3 460.8h0M316.0 461.0h0M338.5 459.8h0M338.0 460.7h0M345.4 460.4h0M338.4 460.4h0M328.0 460.7h0M327.3 460.6h0M337.5 460.8h0M346.0 460.4h0M340.0 460.2h0M344.7 460.8h0M316.0 460.6h0M342.3 460.5h0M331.2 460.7h0M333.7 459.8h0M340.5 460.1h0M340.0 460.3h0M326.7 460.2h0M332.7 460.7h0M341.3 460.4h0M315.6 460.4h0M331.4 460.3h0M317.2 460.4h0M315.8 460.4h0M337.3 460.8h0M334.1 460.8h0M330.1 460.7h0M335.3 460.2h0M314.2 460.7h0M316.0 460.3h0M338.5 459.8h0M331.4 460.5h0M340.5 460.3h0M315.4 460.1h0M327.1 460.2h0M337.6 460.6h0M333.4 460.0h0M315.4 460.5h0M327.0 460.5h0M323.2 460.6h0M315.8 460.8h0M317.0 459.6h0M336.2 460.5h0M338.7 461.0h0M346.2 460.6h0M343.2 460.8h0M322.2 460.6h0M319.7 460.7h0M317.5 460.8h0M324.9 461.3h0M339.8 460.3h0M343.3 460.5h0M322.8 461.0h0M324.5 461.1h0M326.5 460.7h0M320.3 460.1h0M320.3 460.5h0M346.7 460.3h0M318.4 460.3h0" stroke="#c8102e" stroke-width="1.64" stroke-linecap="square" fill="none"/>
<path d="M347.1 423.8h0M332.0 456.8h0M319.2 452.4h0M323.5 439.9h0M334.3 440.4h0M327.7 443.2h0M345.9 458.9h0M318.5 459.6h0M345.0 450.0h0M324.7 444.9h0M321.4 458.7h0M347.0 440.7h0M344.7 397.2h0M322.8 397.1h0M335.9 459.1h0M330.8 460.2h0M322.5 426.3h0M321.3 455.4h0M334.1 444.3h0M340.8 454.1h0M328.5 446.7h0M328.9 460.1h0M318.9 452.0h0M342.2 420.1h0" stroke="#c8102e" stroke-width="1.64" stroke-linecap="square" fill="none"/>
<path d="M321.8 394.5h0M339.5 419.5h0M344.4 454.9h0M335.6 405.6h0M331.1 427.0h0M342.2 402.3h0M327.7 407.8h0M339.9 402.5h0M326.6 380.0h0M342.5 391.3h0M346.3 382.7h0M313.9 405.5h0" stroke="#c8102e" stroke-width="1.64" stroke-linecap="square" fill="none"/>
<path d="M342.0 360.5h0M334.5 375.0h0M342.0 392.0h0M329.0 401.0h0M337.0 405.5h0M339.5 406.5h0M329.0 413.5h0M323.0 427.0h0" stroke="#c8102e" stroke-width="1.64" stroke-linecap="square" fill="none"/>
<path d="M369.8 393.0 L370.2 396.0 L370.5 425.0 L371.5 436.0 L372.8 443.0 L375.8 449.0 L383.3 455.2 L386.8 459.0 L386.3 460.9 L352.3 460.9 L351.8 459.0 L355.3 455.2 L362.8 449.0 L365.8 443.0 L367.1 436.0 L368.1 425.0 L368.4 396.0 L368.8 393.0Z" fill="#1d4f8c" fill-opacity="0.6" stroke="#1d4f8c" stroke-width="0.6" stroke-linejoin="round"/>
<path d="M365.0 461.3h0M356.7 460.0h0M367.0 460.5h0M359.4 461.0h0M361.6 459.8h0M384.9 460.6h0M373.4 460.5h0M366.7 460.2h0M369.0 460.5h0M352.7 460.7h0M372.5 460.1h0M374.6 460.3h0M378.1 460.5h0M379.2 461.1h0M360.3 460.6h0M360.7 460.3h0M361.4 460.2h0M368.4 460.3h0M380.5 460.9h0M354.2 461.0h0M354.2 460.7h0M378.4 460.3h0M385.2 460.0h0M385.5 459.9h0M377.2 460.8h0M381.5 459.9h0M363.3 460.4h0M380.5 459.9h0M355.4 459.9h0M378.6 461.2h0M376.9 459.7h0M364.8 460.7h0M357.8 460.9h0M353.1 460.9h0M384.8 460.7h0M376.1 460.7h0M353.0 460.3h0M374.0 460.1h0M379.6 460.1h0M369.5 461.1h0M382.0 460.7h0M385.2 460.9h0M372.8 460.2h0M362.9 460.5h0M357.5 460.1h0M358.5 460.8h0M352.9 460.1h0M365.9 460.2h0M355.8 460.8h0M381.9 460.7h0M355.8 460.6h0M354.1 460.6h0M371.2 459.8h0M380.8 460.3h0M360.9 459.8h0M367.7 460.7h0M371.2 460.6h0M364.4 460.5h0M358.3 460.2h0M371.6 460.6h0M359.4 460.9h0M381.9 461.2h0M370.4 460.2h0M381.6 460.9h0M367.4 460.0h0M363.0 461.3h0M355.2 461.0h0M375.9 460.5h0M361.9 460.7h0M385.6 460.5h0M385.8 460.0h0M355.7 461.3h0M364.5 459.9h0M371.5 460.6h0M354.6 460.2h0M379.5 460.3h0M368.2 461.3h0M373.4 460.2h0M369.2 460.2h0M378.3 460.7h0M371.4 460.4h0M368.4 460.2h0M378.5 460.2h0M368.6 460.6h0M372.7 460.4h0M357.1 460.3h0M368.4 460.7h0M381.2 460.3h0M361.9 460.4h0M352.4 460.2h0M385.6 460.8h0M381.8 460.2h0M354.3 460.0h0M357.6 460.2h0M352.5 460.1h0M366.4 460.8h0M369.3 460.8h0M374.1 460.7h0M372.1 460.2h0M353.5 461.1h0M353.0 460.5h0M371.4 460.5h0M384.9 460.5h0M370.5 460.4h0M380.3 460.6h0M358.6 459.7h0M372.9 460.3h0M380.2 460.5h0M356.4 460.1h0M362.5 460.5h0M355.7 460.4h0M385.3 460.5h0M358.8 460.7h0M370.1 460.9h0M382.5 460.6h0M377.0 461.3h0M362.8 460.1h0M384.7 459.6h0M379.3 460.4h0M362.5 460.5h0M360.3 460.7h0M377.2 460.2h0M377.6 460.0h0M380.7 460.7h0M372.8 459.7h0M376.2 460.4h0M371.2 461.0h0M364.2 459.9h0M384.8 459.9h0M368.1 460.7h0M385.3 461.2h0M357.5 460.8h0M384.9 460.5h0M361.8 460.5h0M353.9 460.1h0M355.6 460.0h0M370.4 460.3h0M366.8 460.6h0M385.8 460.5h0M374.6 460.7h0M363.7 460.4h0M376.8 460.5h0M375.9 459.6h0M383.3 460.4h0M383.0 461.3h0M354.3 460.5h0M377.8 461.3h0M361.3 460.0h0M383.6 461.0h0M373.2 460.3h0M367.5 460.3h0M379.4 460.8h0M374.5 460.1h0M377.3 461.0h0M358.8 460.9h0M356.8 461.2h0M358.9 460.5h0M376.1 460.2h0M383.8 460.0h0M359.6 460.4h0M384.1 460.6h0M370.8 460.1h0M382.0 460.2h0M370.0 460.7h0M380.2 460.5h0M368.9 460.3h0M381.4 460.0h0M375.7 459.6h0M367.8 460.6h0M376.2 460.9h0M364.4 460.5h0M380.5 460.5h0M355.0 460.2h0M373.4 460.5h0M355.0 460.9h0M372.1 460.9h0M355.1 460.1h0M376.2 460.0h0M369.0 460.9h0M366.6 460.8h0M367.1 460.6h0M371.0 460.5h0M370.1 460.3h0M360.6 460.4h0M354.2 460.6h0M360.6 460.2h0M379.8 460.8h0M382.7 460.8h0M381.8 460.8h0M361.7 460.6h0M373.7 460.8h0M379.0 460.1h0M357.4 460.7h0M373.0 460.9h0M370.7 460.7h0M379.7 461.3h0M371.7 460.6h0M371.8 459.9h0M362.6 460.1h0M362.1 460.0h0M353.6 460.2h0M380.9 460.4h0M383.2 461.3h0M365.7 460.7h0M383.8 461.0h0M383.5 460.7h0M353.5 461.3h0M364.5 460.9h0M374.4 460.3h0M353.6 460.2h0" stroke="#1d4f8c" stroke-width="1.64" stroke-linecap="square" fill="none"/>
<path d="M382.9 457.7h0M360.4 458.7h0M370.0 438.4h0M362.1 452.1h0M371.2 458.8h0M358.9 445.4h0M370.3 453.1h0M362.7 451.9h0M358.4 448.9h0M380.4 443.5h0M361.0 456.4h0M375.3 454.7h0M373.6 450.0h0M370.1 447.8h0M352.4 455.3h0M370.9 458.5h0M383.4 445.3h0M371.6 453.1h0M379.9 457.1h0M376.4 457.1h0M356.4 456.0h0M359.9 453.9h0M372.3 460.5h0M363.7 452.8h0M381.0 437.2h0M362.5 435.5h0M365.8 440.8h0M361.0 456.9h0M360.4 442.3h0M378.7 456.2h0M383.3 460.1h0M370.8 451.5h0M359.3 455.7h0M360.2 433.2h0M362.2 453.7h0M370.0 458.8h0M356.0 449.2h0M370.8 459.2h0M372.7 458.9h0M355.5 456.4h0M361.5 446.1h0M380.4 437.0h0M384.1 452.5h0M377.0 457.2h0M364.5 455.9h0M380.8 456.2h0M376.3 458.9h0M375.9 440.0h0M372.5 442.2h0M362.0 448.4h0M363.7 442.8h0M374.6 445.3h0M384.1 446.0h0M361.7 454.1h0M374.0 458.3h0M360.4 444.3h0M375.8 456.9h0M354.4 453.6h0M355.0 451.8h0M353.0 450.4h0M371.1 455.1h0M365.2 458.4h0M382.2 458.9h0M384.9 420.5h0M373.0 443.8h0M386.1 439.7h0M354.3 458.0h0M366.1 450.7h0M364.0 452.0h0M369.0 454.7h0M381.6 460.3h0M359.4 459.3h0M357.0 447.1h0M385.5 454.4h0M368.0 453.0h0M377.5 459.4h0M376.6 440.3h0M373.5 457.7h0M360.5 437.2h0M385.3 444.5h0M359.8 446.2h0M379.7 449.4h0M354.0 453.3h0M379.9 443.1h0M360.9 455.4h0M382.7 454.6h0M385.3 436.6h0M371.4 447.9h0M366.6 459.1h0M373.0 459.0h0M380.4 437.2h0M353.9 425.9h0M376.8 459.2h0M355.1 457.2h0M366.2 458.8h0M381.5 455.8h0M384.4 449.6h0M379.8 456.1h0M384.2 432.6h0M354.9 452.2h0M372.1 449.5h0M381.1 446.9h0M371.4 453.4h0M368.3 451.5h0M353.1 458.2h0M383.9 442.5h0M371.7 460.2h0M375.4 450.4h0M368.8 444.7h0M371.1 457.3h0" stroke="#1d4f8c" stroke-width="1.64" stroke-linecap="square" fill="none"/>
<path d="M384.6 406.4h0M361.9 397.5h0M363.4 454.3h0M355.5 408.2h0M363.1 437.6h0M360.6 437.9h0M359.0 408.4h0M379.8 453.1h0M384.7 402.9h0M363.1 404.6h0M359.0 448.3h0M366.2 414.7h0M381.6 422.1h0M384.2 411.4h0M364.9 430.5h0M375.7 451.1h0M378.7 404.3h0M364.6 444.0h0M384.7 418.7h0M376.6 409.4h0M384.4 418.5h0M384.2 429.5h0M382.4 406.5h0M386.1 425.5h0M355.5 420.1h0M366.8 451.4h0M380.4 414.7h0M374.0 396.7h0M362.6 442.7h0M363.4 423.8h0M352.6 414.9h0M379.5 433.7h0M358.0 425.6h0M360.1 455.0h0M353.9 412.2h0M361.0 455.7h0M375.4 448.1h0M382.7 401.9h0M366.8 401.9h0M377.6 424.8h0M381.1 437.5h0M384.5 442.1h0M357.6 408.3h0M359.7 410.9h0M372.1 433.7h0M373.9 410.7h0M375.9 448.8h0M376.7 459.1h0M369.1 399.6h0M379.5 396.7h0M378.0 439.6h0M378.5 430.6h0M363.6 427.9h0M371.5 415.4h0M376.1 398.2h0M352.5 443.5h0M373.4 418.6h0M367.2 417.3h0M361.7 418.3h0M380.7 431.6h0M384.1 441.2h0M363.1 432.1h0M377.8 402.5h0M371.1 451.9h0M355.1 426.5h0M379.8 431.8h0M381.6 431.8h0M359.4 456.7h0M379.7 448.8h0M385.1 433.0h0M382.5 459.0h0M362.0 438.0h0M385.8 444.6h0M360.5 424.3h0M360.3 415.2h0M371.2 423.9h0M378.5 435.0h0M380.6 430.8h0M358.8 407.7h0M354.5 399.1h0M365.0 403.3h0M375.1 449.7h0M366.4 441.9h0M384.6 455.3h0M375.6 411.5h0M382.3 440.9h0M378.9 412.3h0M357.8 416.1h0M357.6 454.3h0M359.2 427.9h0M379.4 430.5h0M354.7 429.5h0M353.3 441.7h0M367.8 441.0h0M384.2 426.6h0M365.0 408.2h0M380.2 446.6h0M382.6 447.1h0M361.4 409.2h0M368.0 446.4h0M365.2 443.6h0M358.9 424.9h0M364.3 445.4h0M363.5 451.7h0M358.1 429.4h0M385.8 405.1h0M364.6 420.7h0M367.3 449.5h0M373.8 435.2h0M365.3 403.6h0M367.3 444.9h0M369.8 435.8h0M355.6 449.8h0M381.6 415.2h0M352.8 402.0h0M357.4 400.4h0M383.8 454.9h0M365.6 454.3h0M378.1 415.2h0M368.0 398.4h0M378.1 408.9h0M367.6 403.2h0M380.2 421.8h0M377.0 404.7h0M376.4 403.5h0" stroke="#1d4f8c" stroke-width="1.64" stroke-linecap="square" fill="none"/>
<line x1="427.90" y1="356.00" x2="427.90" y2="466.10" stroke="#1a1a1a" stroke-width="1.3"/>
<line x1="427.25" y1="466.10" x2="512.50" y2="466.10" stroke="#1a1a1a" stroke-width="1.3"/>
<line x1="424.90" y1="460.70" x2="427.90" y2="460.70" stroke="#1a1a1a" stroke-width="1.1"/>
<text x="421.60" y="463.60" font-size="8.2" text-anchor="end" textLength="10.4" lengthAdjust="spacingAndGlyphs" fill="#000">0.0</text>
<line x1="424.90" y1="436.00" x2="427.90" y2="436.00" stroke="#1a1a1a" stroke-width="1.1"/>
<text x="421.60" y="438.90" font-size="8.2" text-anchor="end" textLength="10.4" lengthAdjust="spacingAndGlyphs" fill="#000">1.0</text>
<line x1="424.90" y1="411.20" x2="427.90" y2="411.20" stroke="#1a1a1a" stroke-width="1.1"/>
<text x="421.60" y="414.10" font-size="8.2" text-anchor="end" textLength="10.4" lengthAdjust="spacingAndGlyphs" fill="#000">2.0</text>
<line x1="424.90" y1="386.20" x2="427.90" y2="386.20" stroke="#1a1a1a" stroke-width="1.1"/>
<text x="421.60" y="389.10" font-size="8.2" text-anchor="end" textLength="10.4" lengthAdjust="spacingAndGlyphs" fill="#000">3.0</text>
<line x1="424.90" y1="361.10" x2="427.90" y2="361.10" stroke="#1a1a1a" stroke-width="1.1"/>
<text x="421.60" y="364.00" font-size="8.2" text-anchor="end" textLength="10.4" lengthAdjust="spacingAndGlyphs" fill="#000">4.0</text>
<line x1="451.30" y1="466.10" x2="451.30" y2="468.70" stroke="#1a1a1a" stroke-width="1.1"/>
<line x1="490.10" y1="466.10" x2="490.10" y2="468.70" stroke="#1a1a1a" stroke-width="1.1"/>
<text x="451.50" y="474.00" font-size="8.6" text-anchor="end" textLength="37.2" lengthAdjust="spacingAndGlyphs" transform="rotate(-45 451.50 474.00)" fill="#000">OS &gt;2 year</text>
<text x="490.30" y="474.00" font-size="8.6" text-anchor="end" textLength="37.2" lengthAdjust="spacingAndGlyphs" transform="rotate(-45 490.30 474.00)" fill="#000">OS &lt;2 year</text>
<text x="457.30" y="352.17" font-size="8.8" textLength="24.5" lengthAdjust="spacingAndGlyphs" fill="#000">CD63</text>
<text x="473.40" y="372.38" font-size="6.6" textLength="33.7" lengthAdjust="spacingAndGlyphs" fill="#222">p=1.84E-5</text>
<path d="M452.1 360.7 L452.8 362.0 L453.8 375.9 L456.3 388.0 L461.3 401.7 L463.8 415.5 L462.3 427.6 L459.8 441.4 L463.3 448.3 L467.3 453.4 L468.5 457.5 L467.8 460.3 L466.3 460.9 L436.3 460.9 L434.8 460.3 L434.1 457.5 L435.3 453.4 L439.3 448.3 L442.8 441.4 L440.3 427.6 L438.8 415.5 L441.3 401.7 L446.3 388.0 L448.8 375.9 L449.8 362.0 L450.5 360.7Z" fill="#c8102e" fill-opacity="0.55" stroke="#c8102e" stroke-width="0.6" stroke-linejoin="round"/>
<path d="M465.6 402.5h0M445.3 400.8h0M463.7 443.8h0M455.5 456.6h0M436.1 390.3h0M450.2 457.4h0M459.7 387.5h0M451.7 413.2h0M444.3 381.6h0M448.4 412.8h0M436.0 430.5h0M444.4 456.1h0M463.7 427.4h0M448.3 436.5h0M444.8 429.5h0M436.7 419.2h0M448.3 437.2h0M440.4 401.6h0M446.1 415.8h0M448.6 392.0h0M448.0 404.9h0M466.3 442.6h0M439.6 438.0h0M462.1 388.3h0M446.5 453.0h0M457.1 395.7h0M442.5 449.8h0M436.2 407.0h0M457.7 373.2h0M448.2 441.9h0M442.5 425.8h0M446.7 433.9h0M454.2 437.7h0M442.8 365.5h0M456.2 455.7h0M436.8 455.1h0M438.0 399.7h0M438.1 408.7h0M456.5 398.6h0M451.4 441.1h0M442.3 388.8h0M450.0 399.4h0M464.8 456.2h0M438.9 441.8h0M444.6 419.1h0M446.6 453.2h0M440.8 398.1h0M449.4 447.2h0M465.6 396.4h0M436.9 441.5h0M450.7 387.7h0M456.1 415.8h0M460.2 384.0h0M450.5 415.2h0M439.8 410.2h0M439.5 420.1h0M449.4 412.5h0M453.5 423.8h0M447.7 447.2h0M439.5 459.2h0M464.3 441.6h0M445.0 450.0h0M449.5 393.7h0M446.6 436.5h0M464.1 422.1h0M444.2 412.4h0M456.4 425.6h0M452.7 445.2h0M462.6 442.2h0M440.5 450.7h0M447.0 438.5h0M456.0 423.9h0M443.5 424.0h0M465.3 453.6h0M444.2 404.4h0M439.5 458.2h0M445.7 402.3h0M450.5 450.2h0M460.7 451.3h0M452.3 403.4h0M449.0 444.6h0M442.9 428.0h0M436.8 401.9h0M451.8 459.8h0M452.5 406.7h0M452.9 420.6h0M448.1 411.1h0M437.0 412.8h0M464.6 420.2h0M453.3 447.2h0M453.9 437.0h0M445.9 390.1h0M456.8 399.4h0M446.8 449.3h0M461.6 456.9h0M457.5 393.9h0M460.5 431.9h0M436.1 364.4h0M446.4 417.7h0M444.7 398.4h0M455.3 431.1h0M452.8 376.3h0M442.3 426.0h0M447.3 374.4h0M459.6 393.9h0M452.3 390.3h0M456.4 384.0h0M446.4 411.9h0M446.5 429.4h0M443.6 424.8h0M460.5 383.4h0M445.6 447.5h0M458.0 444.0h0M447.8 411.4h0M449.9 454.4h0M448.6 375.0h0M454.8 374.7h0M456.4 435.1h0M443.9 458.6h0M452.9 376.0h0M456.0 425.5h0M453.6 453.6h0M466.2 405.9h0M444.5 411.5h0M441.9 430.8h0M454.1 454.5h0M458.4 445.2h0M444.5 424.9h0M444.7 415.6h0M459.6 402.7h0M455.2 453.6h0M450.1 400.1h0M439.0 429.5h0M456.9 446.6h0M438.4 392.9h0M448.3 439.5h0M457.9 395.1h0M440.8 404.8h0M445.0 454.7h0M442.5 442.1h0" stroke="#c8102e" stroke-width="1.64" stroke-linecap="square" fill="none"/>
<path d="M437.6 361.2h0M445.0 368.5h0M462.5 367.0h0M462.8 372.5h0" stroke="#c8102e" stroke-width="1.64" stroke-linecap="square" fill="none"/>
<path d="M491.6 388.3 L493.6 389.5 L498.1 394.8 L504.1 405.2 L507.1 415.5 L505.1 424.1 L500.1 432.8 L497.1 439.7 L497.1 446.6 L500.1 453.4 L504.1 458.6 L504.1 460.3 L502.1 460.9 L478.1 460.9 L476.1 460.3 L476.1 458.6 L480.1 453.4 L483.1 446.6 L483.1 439.7 L480.1 432.8 L475.1 424.1 L473.1 415.5 L476.1 405.2 L482.1 394.8 L486.6 389.5 L488.6 388.3Z" fill="#1d4f8c" fill-opacity="0.6" stroke="#1d4f8c" stroke-width="0.6" stroke-linejoin="round"/>
<path d="M492.6 414.1h0M503.9 456.0h0M495.1 404.2h0M504.0 432.9h0M478.0 392.1h0M488.9 414.1h0M479.7 409.6h0M485.5 452.6h0M477.8 438.6h0M506.5 415.0h0M481.8 399.3h0M498.2 429.3h0M497.6 446.6h0M497.6 434.9h0M492.9 395.1h0M477.7 413.1h0M487.6 433.5h0M499.5 400.9h0M497.2 401.5h0M493.0 410.1h0M498.8 403.8h0M501.1 414.0h0M489.6 455.1h0M502.0 400.4h0M500.9 412.0h0M496.4 416.3h0M475.8 404.9h0M490.0 444.8h0M496.4 420.8h0M504.9 443.8h0M503.1 397.2h0M500.2 456.6h0M503.6 435.3h0M483.2 453.7h0M481.4 416.8h0M498.9 426.0h0M494.9 430.0h0M506.5 419.1h0M488.0 435.7h0M484.6 417.4h0M494.3 414.6h0M480.9 432.5h0M493.9 435.1h0M487.4 442.5h0M490.6 458.0h0M494.4 420.9h0M493.4 429.4h0M495.7 409.6h0M488.9 437.5h0M491.4 460.3h0M475.5 415.4h0M496.6 441.5h0M500.1 403.8h0M495.7 414.5h0M485.1 414.4h0M495.1 443.6h0M501.5 416.9h0M504.1 435.4h0M496.8 434.5h0M478.7 415.2h0M480.1 428.0h0M497.5 405.8h0M491.0 398.3h0M498.9 405.9h0M503.7 420.5h0M474.7 453.1h0M490.1 398.9h0M475.3 430.4h0M478.2 424.1h0M477.1 440.8h0M504.5 442.4h0M490.5 444.8h0M504.1 416.7h0M484.9 399.9h0M498.0 428.3h0M497.9 458.6h0M498.9 393.1h0M494.0 431.7h0M483.5 431.9h0M497.2 408.5h0M474.8 431.6h0M476.4 457.7h0M493.0 448.8h0M482.7 423.6h0M505.9 417.1h0M488.2 410.8h0M496.7 414.1h0M496.6 418.2h0M498.3 398.0h0M498.3 398.9h0M491.3 413.7h0M489.9 434.6h0M476.1 435.0h0M488.0 426.6h0M474.1 405.1h0M475.5 430.3h0M488.7 425.6h0M483.6 411.8h0M501.5 392.2h0M489.0 426.4h0M475.6 458.9h0M501.8 402.5h0M480.2 447.4h0M489.7 405.7h0M494.1 425.4h0M498.9 414.8h0M504.6 402.7h0M499.1 457.8h0M496.5 418.9h0M481.6 406.6h0M497.6 452.7h0M487.6 407.7h0M498.7 396.9h0M479.1 409.3h0M475.3 401.6h0M492.9 444.0h0M482.6 398.4h0M497.2 452.4h0M491.1 418.4h0M480.7 415.0h0M476.2 435.5h0M480.2 438.0h0M488.4 414.3h0M497.4 457.2h0M479.1 434.0h0M474.3 405.1h0M496.0 401.7h0M480.5 398.4h0M496.1 419.8h0M476.6 414.2h0M475.5 415.2h0M488.1 416.0h0M480.7 458.7h0M502.6 417.7h0M491.3 420.0h0M478.0 437.1h0M499.4 424.5h0M505.3 398.6h0M506.2 408.0h0M491.8 418.1h0M476.7 444.0h0M496.7 454.8h0M483.8 430.3h0M506.1 456.7h0M475.9 401.1h0M502.9 454.7h0M496.7 452.7h0M474.0 418.6h0M501.0 457.9h0M480.0 445.2h0M502.0 458.2h0M502.0 429.6h0M480.6 458.6h0M476.1 413.8h0M486.6 410.2h0M492.8 424.5h0M485.8 442.0h0M479.1 422.4h0M487.6 390.9h0M481.1 426.3h0M499.0 449.5h0M487.6 425.7h0M500.0 410.2h0M488.6 402.0h0M474.0 420.8h0M487.8 417.4h0M478.0 424.8h0M491.2 421.1h0M488.3 436.6h0M503.4 404.3h0M489.5 403.3h0M477.4 426.0h0M498.4 460.9h0M501.0 434.7h0M488.5 410.6h0M479.9 457.7h0M499.0 410.6h0M481.6 410.3h0M503.6 407.9h0M494.1 424.8h0M482.9 399.7h0M492.6 422.1h0M492.7 429.2h0M475.4 417.4h0M486.2 411.0h0M476.0 459.4h0M495.5 421.1h0M503.1 424.5h0M475.0 411.7h0M485.2 449.1h0M491.0 435.4h0M487.1 427.0h0M501.8 410.7h0M477.2 444.3h0M492.0 442.8h0M494.3 437.5h0M492.0 398.9h0M499.9 396.1h0M482.9 420.1h0M474.2 457.0h0M506.2 414.6h0M496.0 460.0h0M504.7 406.4h0M499.7 408.7h0M477.7 401.9h0M491.9 435.3h0M502.5 414.2h0M489.2 455.3h0M496.0 391.3h0M475.2 420.8h0M479.1 424.8h0M505.9 421.0h0M487.1 408.7h0M492.3 395.4h0M475.8 419.1h0M496.7 453.2h0M497.2 396.7h0M481.1 392.2h0M504.8 411.3h0M486.6 435.5h0M483.1 433.3h0M504.3 455.5h0M475.0 409.6h0M503.9 414.5h0M477.4 455.4h0M498.3 421.2h0M500.5 454.1h0M488.1 411.4h0M485.6 434.7h0M486.0 414.5h0M487.3 411.2h0M481.4 411.0h0M476.5 424.2h0M491.6 458.4h0M485.9 398.0h0M480.8 422.9h0M495.6 427.3h0M502.4 402.5h0M474.0 403.0h0M499.3 419.2h0M489.2 414.5h0M501.2 460.5h0M503.3 452.3h0M481.6 429.1h0M497.5 447.2h0M481.7 444.8h0M481.9 418.7h0M486.4 454.5h0M489.2 404.9h0M492.2 397.5h0M477.8 397.4h0M499.8 429.7h0M474.2 427.9h0M485.5 458.5h0M499.4 429.5h0M491.7 415.3h0M485.3 420.3h0M489.1 452.1h0M481.7 452.7h0M496.8 413.1h0M492.9 409.9h0M480.7 414.7h0M495.5 450.6h0M495.5 425.8h0M484.9 414.9h0M505.4 406.4h0M499.4 441.6h0M482.3 446.7h0M482.6 406.3h0M490.1 447.5h0M483.0 416.7h0M482.3 405.7h0M501.8 420.9h0M501.4 402.9h0M484.1 400.3h0M493.0 394.2h0M504.4 409.7h0M488.2 399.7h0M491.6 418.7h0M506.2 411.1h0M480.1 407.9h0M505.5 395.8h0M496.6 457.6h0M486.3 441.8h0M497.9 410.2h0M496.0 437.7h0M501.6 426.7h0M487.3 448.2h0M486.0 457.2h0M498.6 415.6h0" stroke="#1d4f8c" stroke-width="1.64" stroke-linecap="square" fill="none"/>
<line x1="52.10" y1="525.90" x2="52.10" y2="637.20" stroke="#1a1a1a" stroke-width="1.3"/>
<line x1="51.45" y1="637.20" x2="138.50" y2="637.20" stroke="#1a1a1a" stroke-width="1.3"/>
<line x1="49.10" y1="631.80" x2="52.10" y2="631.80" stroke="#1a1a1a" stroke-width="1.1"/>
<text x="46.40" y="634.70" font-size="8.2" text-anchor="end" textLength="10.4" lengthAdjust="spacingAndGlyphs" fill="#000">0.0</text>
<line x1="49.10" y1="600.00" x2="52.10" y2="600.00" stroke="#1a1a1a" stroke-width="1.1"/>
<text x="46.40" y="602.90" font-size="8.2" text-anchor="end" textLength="10.4" lengthAdjust="spacingAndGlyphs" fill="#000">1.0</text>
<line x1="49.10" y1="568.50" x2="52.10" y2="568.50" stroke="#1a1a1a" stroke-width="1.1"/>
<text x="46.40" y="571.40" font-size="8.2" text-anchor="end" textLength="10.4" lengthAdjust="spacingAndGlyphs" fill="#000">2.0</text>
<line x1="49.10" y1="536.60" x2="52.10" y2="536.60" stroke="#1a1a1a" stroke-width="1.1"/>
<text x="46.40" y="539.50" font-size="8.2" text-anchor="end" textLength="10.4" lengthAdjust="spacingAndGlyphs" fill="#000">3.0</text>
<line x1="75.60" y1="637.20" x2="75.60" y2="639.80" stroke="#1a1a1a" stroke-width="1.1"/>
<line x1="115.40" y1="637.20" x2="115.40" y2="639.80" stroke="#1a1a1a" stroke-width="1.1"/>
<text x="75.80" y="645.10" font-size="8.6" text-anchor="end" textLength="37.2" lengthAdjust="spacingAndGlyphs" transform="rotate(-45 75.80 645.10)" fill="#000">OS &gt;2 year</text>
<text x="115.60" y="645.10" font-size="8.6" text-anchor="end" textLength="37.2" lengthAdjust="spacingAndGlyphs" transform="rotate(-45 115.60 645.10)" fill="#000">OS &lt;2 year</text>
<text x="82.30" y="522.87" font-size="8.8" textLength="23.3" lengthAdjust="spacingAndGlyphs" fill="#000">CAV1</text>
<text x="104.80" y="547.98" font-size="6.6" textLength="19.2" lengthAdjust="spacingAndGlyphs" fill="#222">p=.13</text>
<text x="28.70" y="582.50" font-size="8.2" text-anchor="middle" textLength="55.0" lengthAdjust="spacingAndGlyphs" transform="rotate(-90 28.70 582.50)" fill="#000" stroke="#000" stroke-width="0.15">Expression intensity</text>
<rect x="74.80" y="530.7" width="1.6" height="101.0" fill="#c8102e" fill-opacity="0.7"/>
<path d="M69.9 631.4h0M66.6 631.9h0M80.9 631.4h0M90.7 632.0h0M65.4 631.9h0M83.2 631.7h0M73.8 631.9h0M64.1 632.4h0M75.5 631.8h0M71.0 632.1h0M92.4 632.1h0M66.0 631.2h0M63.8 632.1h0M81.1 631.4h0M81.1 631.2h0M81.7 631.5h0M67.0 631.9h0M71.4 631.8h0M91.3 631.7h0M66.9 632.0h0M59.7 632.4h0M82.6 632.0h0M81.4 632.0h0M88.9 631.6h0M61.5 631.2h0M86.7 631.9h0M62.9 631.6h0M83.9 631.3h0M88.5 630.8h0M91.0 631.1h0M89.9 631.7h0M71.1 631.6h0M77.6 631.7h0M88.6 631.9h0M82.3 630.6h0M80.5 630.9h0M82.4 631.6h0M61.5 631.4h0M60.0 631.9h0M81.5 632.3h0M82.4 631.9h0M75.0 631.9h0M67.1 631.2h0M60.1 631.1h0M86.1 631.4h0M66.6 631.5h0M69.4 631.7h0M59.4 632.0h0M71.1 632.0h0M62.7 631.4h0M76.4 631.7h0M74.4 631.2h0M78.4 631.8h0M64.1 632.5h0M78.9 631.9h0M67.2 631.6h0M78.4 631.4h0M79.1 631.9h0M66.3 631.8h0M77.8 631.3h0M67.7 631.8h0M62.9 631.2h0M70.4 632.3h0M81.7 632.0h0M85.7 632.4h0M81.6 632.3h0M82.9 631.1h0M78.4 631.5h0M61.4 632.0h0M70.0 631.5h0M81.9 631.4h0M71.9 632.0h0M76.8 631.9h0M61.8 631.7h0M66.3 631.7h0M88.6 631.3h0M75.5 632.0h0M92.2 631.4h0M80.8 632.2h0M88.9 631.5h0M87.7 631.3h0M81.9 631.2h0M91.2 631.4h0M87.3 632.4h0M88.6 632.0h0M81.6 631.0h0M71.2 631.4h0M61.2 631.4h0M77.5 631.9h0M89.7 632.0h0M75.7 631.1h0M79.4 632.1h0M75.3 631.4h0M91.6 631.0h0M75.3 632.2h0M69.3 631.7h0M89.1 631.6h0M67.2 632.4h0M64.7 632.1h0M81.4 632.2h0M83.6 632.1h0M85.0 631.9h0M73.5 632.5h0M86.3 631.3h0M67.3 631.6h0M78.8 631.6h0M68.4 631.6h0M70.0 631.9h0M65.8 631.6h0M72.0 631.9h0M89.0 631.3h0M86.9 631.6h0M86.7 631.4h0M91.5 631.5h0M91.8 632.0h0M88.6 631.3h0M69.2 631.6h0M74.4 631.2h0M87.0 631.3h0M87.7 631.4h0M69.1 631.8h0M90.3 632.2h0M74.2 631.1h0M89.8 630.9h0M86.0 631.7h0M91.4 631.5h0M81.4 631.4h0M81.4 631.8h0M82.4 631.2h0M72.5 631.9h0M78.4 632.4h0M67.2 632.1h0M68.7 631.2h0M73.2 631.4h0M91.3 631.5h0M89.3 632.0h0M64.6 631.4h0M84.0 632.1h0M63.8 631.6h0M69.7 632.1h0M76.0 631.9h0M74.1 631.6h0M79.9 631.5h0M59.9 631.7h0M62.6 632.4h0M64.1 632.2h0M80.8 631.2h0M90.7 632.1h0M89.9 631.5h0M75.2 632.2h0M91.8 632.0h0M68.4 630.8h0M63.9 632.4h0M70.3 630.6h0M83.8 632.0h0M90.6 631.8h0M80.6 631.9h0M65.1 631.6h0M67.3 631.8h0M90.3 631.8h0M62.5 632.3h0M90.0 631.6h0M73.7 631.5h0M85.2 631.2h0M80.3 631.6h0M66.2 632.0h0M62.3 631.6h0M65.9 632.4h0M64.5 631.4h0M59.0 631.7h0M82.8 631.5h0M63.7 632.1h0M82.7 631.8h0M76.2 631.4h0M64.1 631.6h0M76.6 631.2h0M70.0 631.3h0M64.4 631.9h0M75.6 631.5h0M91.2 631.2h0M65.6 632.0h0M88.1 631.4h0M61.9 631.6h0M69.4 631.4h0M82.1 631.3h0M64.4 631.8h0M75.3 632.1h0M67.6 632.3h0M74.8 632.0h0M83.5 631.2h0" stroke="#c8102e" stroke-width="1.64" stroke-linecap="square" fill="none"/>
<path d="M90.2 629.0h0M59.1 620.7h0M78.2 621.4h0M89.7 624.2h0M88.5 609.2h0M76.4 619.5h0M63.1 605.6h0M86.9 612.1h0M70.4 605.2h0M87.8 628.6h0M87.4 617.2h0M89.6 622.4h0M78.1 631.4h0M63.6 611.9h0M60.5 613.1h0M80.1 606.4h0M72.3 598.5h0M70.5 627.2h0M72.4 621.6h0M85.4 620.2h0M70.5 629.6h0M87.2 629.7h0M68.9 614.9h0M80.5 610.9h0M89.0 631.0h0M81.1 622.2h0M92.4 613.5h0M68.8 619.6h0M67.3 631.0h0M81.4 627.8h0" stroke="#c8102e" stroke-width="1.64" stroke-linecap="square" fill="none"/>
<path d="M60.7 620.4h0M68.1 588.9h0M77.9 616.3h0M64.2 605.1h0M68.4 613.5h0M75.7 617.9h0M69.9 585.6h0M78.7 619.5h0M70.0 597.3h0M83.5 622.2h0M80.3 592.6h0M90.5 603.7h0M71.0 614.8h0M85.7 600.3h0M65.8 621.6h0M60.0 586.3h0M84.9 622.1h0M64.6 583.1h0M85.9 624.0h0M70.6 608.0h0M90.3 609.0h0M81.5 622.2h0" stroke="#c8102e" stroke-width="1.64" stroke-linecap="square" fill="none"/>
<path d="M73.9 530.8h0M77.3 541.0h0M83.0 557.0h0M81.0 568.5h0M75.7 584.0h0M76.0 585.0h0M65.6 584.5h0M62.5 589.0h0M60.2 594.0h0" stroke="#c8102e" stroke-width="1.64" stroke-linecap="square" fill="none"/>
<rect x="114.90" y="574.3" width="1.0" height="57.4" fill="#1d4f8c" fill-opacity="0.9"/>
<path d="M114.4 631.1h0M101.4 631.8h0M127.4 632.1h0M108.5 631.3h0M120.6 632.2h0M125.5 631.5h0M132.0 631.6h0M125.5 632.0h0M130.2 631.9h0M127.0 631.9h0M110.0 632.1h0M105.1 631.7h0M120.5 631.5h0M119.1 631.9h0M123.4 631.3h0M102.6 631.3h0M130.6 631.2h0M130.9 631.6h0M107.4 631.7h0M120.8 632.3h0M110.5 631.5h0M98.0 632.1h0M110.6 631.8h0M127.6 631.6h0M130.7 631.3h0M110.9 632.1h0M114.4 631.3h0M128.2 631.8h0M112.4 632.2h0M114.1 632.5h0M124.6 631.5h0M111.3 631.9h0M115.1 632.0h0M125.1 632.2h0M123.9 632.5h0M115.0 632.5h0M111.7 631.7h0M109.0 631.3h0M131.3 631.8h0M127.4 631.8h0M123.2 631.3h0M110.0 632.2h0M119.7 631.4h0M128.0 630.6h0M116.5 632.1h0M100.9 632.0h0M117.9 632.2h0M115.3 631.5h0M121.8 632.1h0M118.4 632.2h0M121.4 630.6h0M127.9 631.2h0M116.1 631.3h0M131.8 631.3h0M131.1 631.9h0M113.3 632.0h0M117.6 631.5h0M101.0 631.6h0M105.2 631.9h0M115.6 630.8h0M132.2 631.8h0M131.4 632.0h0M125.8 632.0h0M107.7 632.0h0M115.0 632.2h0M105.9 630.8h0M125.2 632.2h0M118.6 631.4h0M122.6 631.2h0M117.3 631.9h0M126.5 632.0h0M123.8 632.5h0M126.3 631.8h0M119.2 631.9h0M108.0 631.7h0M126.4 631.4h0M125.7 632.5h0M114.8 631.6h0M100.2 631.0h0M130.8 631.6h0M102.4 631.6h0M126.1 631.7h0M109.1 632.5h0M112.0 630.9h0M105.3 631.2h0M105.3 632.3h0M113.8 632.1h0M111.6 632.0h0M102.9 632.2h0M117.3 631.4h0M103.3 631.3h0M128.0 632.1h0M99.9 631.8h0M125.6 631.3h0M120.1 631.9h0M115.5 632.0h0M116.9 631.6h0M130.2 631.0h0M130.3 630.9h0M124.1 631.4h0M120.9 632.0h0M117.7 632.1h0M106.7 631.8h0M115.5 631.7h0M100.1 632.0h0M114.1 631.4h0M104.3 631.8h0M132.1 632.1h0M130.0 631.4h0M122.4 632.5h0M103.9 630.8h0M120.4 632.3h0M125.6 631.8h0M117.0 631.3h0M98.7 631.8h0M119.7 631.5h0M118.7 631.9h0M102.1 631.3h0M120.2 631.5h0M103.3 632.3h0M119.1 631.2h0M129.5 632.0h0M106.8 632.0h0M108.4 632.3h0M97.9 631.9h0M104.8 631.4h0M100.3 631.8h0M123.2 631.6h0M121.8 631.4h0M126.8 631.8h0M125.8 630.6h0M118.5 631.5h0M126.2 631.5h0M117.6 631.5h0M129.2 631.9h0M122.9 631.6h0M116.1 631.4h0M128.2 631.4h0M111.2 631.6h0M113.5 631.3h0M118.7 632.1h0M101.0 631.5h0M107.4 631.5h0M112.5 632.5h0M106.8 631.7h0M118.8 631.7h0M120.7 631.8h0M120.7 631.9h0M99.1 632.4h0M99.8 631.7h0M128.0 631.5h0M115.3 632.2h0M130.7 631.5h0M125.3 631.6h0M105.4 632.0h0M109.9 631.6h0M113.8 631.5h0M104.4 631.4h0M108.3 631.8h0M126.4 631.3h0M104.8 631.9h0M104.5 632.3h0M131.0 632.0h0M113.9 631.3h0M101.5 631.1h0M106.3 631.7h0M125.1 631.7h0M131.7 631.8h0M128.2 632.0h0M131.0 630.9h0M113.3 631.2h0M112.1 631.7h0M112.4 631.9h0M130.8 631.8h0M118.5 631.7h0M112.9 631.0h0M107.4 631.9h0M124.7 631.2h0M104.1 632.0h0M115.1 631.9h0M125.9 631.8h0M115.0 631.9h0M100.7 631.6h0M116.5 631.0h0M102.7 631.6h0M113.6 632.3h0M117.2 631.8h0M120.6 631.8h0M115.1 632.3h0M99.3 631.6h0M117.6 631.6h0M121.4 632.1h0M99.8 632.3h0M115.0 631.7h0M114.0 631.7h0M104.3 631.2h0M109.4 632.5h0M119.2 631.5h0M129.7 631.5h0M109.3 632.0h0M129.6 632.2h0M99.6 631.4h0M107.0 631.1h0M130.5 631.8h0M126.7 631.3h0M125.2 631.5h0M101.3 631.6h0M120.5 632.0h0M115.0 630.9h0M130.4 631.9h0" stroke="#1d4f8c" stroke-width="1.64" stroke-linecap="square" fill="none"/>
<path d="M114.0 592.8h0M106.0 626.9h0M115.3 616.1h0M114.6 618.2h0M101.3 620.4h0M121.1 620.7h0M107.8 596.7h0M119.6 616.3h0M122.2 622.3h0M101.9 598.2h0M101.6 613.6h0M126.0 631.4h0M105.9 631.7h0M117.0 614.8h0M119.4 607.5h0M101.2 627.2h0M110.6 630.1h0M132.2 626.1h0M124.3 623.1h0M122.5 607.2h0M111.3 622.7h0M99.5 618.4h0M113.1 617.9h0M113.5 627.9h0M126.3 611.5h0M113.0 587.9h0M124.1 627.6h0M128.5 595.6h0M104.1 623.0h0M103.2 580.6h0M125.0 630.6h0M125.1 630.7h0M111.9 603.3h0M120.5 605.2h0M98.4 623.7h0M116.4 620.5h0M110.1 595.8h0M118.7 624.1h0M121.6 625.3h0M125.6 631.1h0M101.4 609.9h0M113.7 628.5h0M105.1 610.2h0M123.8 624.4h0M122.2 616.2h0M132.1 628.9h0M109.2 629.8h0M128.1 629.6h0M101.9 619.6h0M117.7 630.7h0M112.3 604.5h0M117.9 597.6h0M132.2 621.9h0M110.9 614.3h0M111.8 616.4h0M100.7 629.5h0M128.9 630.8h0M122.9 617.4h0M105.7 612.1h0M128.6 623.9h0M99.7 629.4h0M113.4 616.9h0M115.6 624.6h0M122.6 622.6h0M108.7 611.6h0M102.8 603.4h0M114.8 615.2h0M99.5 581.7h0M123.5 624.4h0M118.6 601.1h0M122.0 627.9h0M99.8 615.8h0M111.6 627.8h0M111.0 629.6h0M131.3 620.1h0M99.0 610.1h0M114.9 584.1h0M117.7 618.8h0M100.3 599.5h0M100.2 631.2h0M131.8 625.6h0M117.7 631.6h0M124.4 601.2h0M109.8 599.4h0M127.1 606.6h0M131.6 608.6h0M102.4 626.6h0M103.7 586.2h0M111.6 619.5h0M101.6 626.7h0M107.9 631.0h0M97.9 623.9h0M115.6 625.9h0M117.9 631.4h0M121.1 626.4h0M98.9 631.5h0M107.3 583.6h0M115.2 610.8h0M98.3 623.2h0M125.0 622.7h0M101.8 628.2h0M113.3 630.0h0M130.7 629.6h0M126.0 622.7h0M115.6 627.4h0M119.0 631.1h0M115.5 630.7h0M131.6 625.3h0M126.1 601.4h0M105.1 620.5h0" stroke="#1d4f8c" stroke-width="1.64" stroke-linecap="square" fill="none"/>
<path d="M118.3 623.1h0M130.6 609.8h0M125.0 575.8h0M116.0 598.8h0M126.3 628.1h0M114.5 576.9h0M127.9 598.3h0M129.3 612.2h0M102.1 591.9h0M104.8 582.4h0M98.3 577.4h0M100.3 629.4h0M117.9 584.5h0M129.5 581.2h0M100.1 593.7h0M104.1 618.9h0M102.5 588.9h0M126.3 621.2h0M104.0 576.3h0M119.2 613.9h0M122.1 597.0h0M110.2 628.9h0M130.4 627.6h0M105.8 581.5h0M110.5 630.5h0M114.3 625.8h0M127.5 604.7h0M118.9 625.6h0M119.5 615.6h0M128.5 624.5h0M118.9 577.5h0M110.4 615.5h0M109.9 600.3h0M117.6 613.1h0M104.4 596.6h0M118.8 581.8h0M109.1 578.9h0M119.4 603.4h0M107.1 595.8h0M110.3 612.3h0M113.5 591.9h0M119.9 599.8h0M102.2 613.8h0M112.5 590.6h0M119.9 621.6h0" stroke="#1d4f8c" stroke-width="1.64" stroke-linecap="square" fill="none"/>
<path d="M115.5 574.5h0M120.3 574.5h0M111.0 580.0h0M120.0 580.0h0M106.0 586.0h0" stroke="#1d4f8c" stroke-width="1.64" stroke-linecap="square" fill="none"/>
<line x1="180.70" y1="526.80" x2="180.70" y2="637.20" stroke="#1a1a1a" stroke-width="1.3"/>
<line x1="180.05" y1="637.20" x2="268.00" y2="637.20" stroke="#1a1a1a" stroke-width="1.3"/>
<line x1="177.70" y1="631.80" x2="180.70" y2="631.80" stroke="#1a1a1a" stroke-width="1.1"/>
<text x="175.00" y="634.70" font-size="8.2" text-anchor="end" textLength="10.4" lengthAdjust="spacingAndGlyphs" fill="#000">0.0</text>
<line x1="177.70" y1="595.80" x2="180.70" y2="595.80" stroke="#1a1a1a" stroke-width="1.1"/>
<text x="175.00" y="598.70" font-size="8.2" text-anchor="end" textLength="10.4" lengthAdjust="spacingAndGlyphs" fill="#000">1.0</text>
<line x1="177.70" y1="559.20" x2="180.70" y2="559.20" stroke="#1a1a1a" stroke-width="1.1"/>
<text x="175.00" y="562.10" font-size="8.2" text-anchor="end" textLength="10.4" lengthAdjust="spacingAndGlyphs" fill="#000">2.0</text>
<line x1="204.10" y1="637.20" x2="204.10" y2="639.80" stroke="#1a1a1a" stroke-width="1.1"/>
<line x1="244.30" y1="637.20" x2="244.30" y2="639.80" stroke="#1a1a1a" stroke-width="1.1"/>
<text x="204.30" y="645.10" font-size="8.6" text-anchor="end" textLength="37.2" lengthAdjust="spacingAndGlyphs" transform="rotate(-45 204.30 645.10)" fill="#000">OS &gt;2 year</text>
<text x="244.50" y="645.10" font-size="8.6" text-anchor="end" textLength="37.2" lengthAdjust="spacingAndGlyphs" transform="rotate(-45 244.50 645.10)" fill="#000">OS &lt;2 year</text>
<text x="214.50" y="522.87" font-size="8.8" textLength="18.9" lengthAdjust="spacingAndGlyphs" fill="#000">CD9</text>
<text x="187.70" y="548.28" font-size="6.6" textLength="33.3" lengthAdjust="spacingAndGlyphs" fill="#222">p=2.30E-7</text>
<rect x="203.60" y="567.9" width="1.0" height="64.1" fill="#c8102e" fill-opacity="0.7"/>
<path d="M192.5 632.1h0M188.1 632.6h0M197.0 631.2h0M186.8 632.1h0M198.0 632.1h0M219.1 630.9h0M193.8 631.7h0M190.8 631.2h0M195.6 631.9h0M201.9 631.8h0M208.3 631.6h0M192.6 632.4h0M200.1 632.0h0M206.8 632.0h0M217.8 631.8h0M218.5 631.8h0M213.9 631.6h0M204.4 631.9h0M219.1 632.3h0M206.7 632.5h0M220.6 632.5h0M207.5 631.1h0M197.6 632.4h0M205.2 631.9h0M211.3 632.6h0M196.6 631.6h0M219.2 632.4h0M218.6 631.8h0M215.6 631.8h0M208.5 631.9h0M193.6 632.0h0M198.3 631.7h0M204.1 632.2h0M216.6 632.1h0M201.0 632.2h0M208.7 632.8h0M220.7 632.8h0M210.5 631.9h0M207.7 632.4h0M198.0 632.2h0M206.1 632.4h0M195.3 632.8h0M210.0 632.3h0M210.0 632.8h0M199.6 632.5h0M196.6 631.7h0M213.6 631.9h0M199.0 632.3h0M210.0 631.9h0M197.7 632.0h0M208.9 632.0h0M205.5 632.0h0M189.1 632.0h0M191.1 632.3h0M196.6 632.2h0M200.7 631.8h0M203.3 631.9h0M212.5 631.0h0M196.9 632.2h0M214.7 631.6h0M197.5 631.6h0M198.2 631.7h0M193.6 632.4h0M200.9 632.0h0M211.0 632.0h0M199.7 632.3h0M195.1 632.2h0M209.7 631.7h0M201.8 631.5h0M214.0 631.8h0M189.1 631.5h0M198.1 631.7h0M194.6 631.2h0M205.7 632.2h0M195.4 632.7h0M187.5 631.0h0M205.8 631.9h0M193.6 632.2h0M188.1 632.3h0M220.2 632.2h0M202.1 632.1h0M189.2 631.8h0M198.0 632.2h0M221.2 631.6h0M196.6 632.3h0M199.8 632.1h0M216.4 632.1h0M195.9 631.9h0M214.4 632.7h0M189.3 632.2h0M204.8 632.3h0M196.6 632.2h0M214.2 632.3h0M204.4 632.1h0M189.7 632.7h0M189.6 632.0h0M208.5 632.6h0M210.1 631.7h0M214.0 631.0h0M202.7 632.4h0M213.9 632.3h0M212.2 631.7h0M211.5 631.6h0M188.0 631.7h0M188.2 632.0h0M205.6 632.0h0M207.9 631.9h0M206.8 632.7h0M187.1 632.2h0M197.7 632.1h0M192.4 632.4h0M195.1 631.6h0M221.3 632.0h0M201.9 632.4h0M200.7 631.6h0M190.4 631.9h0M189.7 632.1h0M200.2 632.1h0M203.9 632.1h0M211.3 631.9h0M211.8 632.8h0M197.7 631.4h0M193.5 632.7h0M207.8 631.8h0M204.2 631.9h0M218.1 631.4h0M190.0 631.7h0M209.8 632.0h0M188.8 631.7h0M194.7 631.3h0M217.8 631.9h0M204.7 631.7h0M210.3 631.2h0M221.3 632.3h0M205.4 632.1h0M204.8 631.4h0M194.9 631.0h0M215.9 632.2h0M205.0 632.2h0M209.8 631.8h0M209.0 631.6h0M206.7 632.3h0M206.7 631.4h0M193.5 630.9h0M213.3 631.9h0M190.7 632.7h0M216.3 632.8h0M208.5 632.5h0M203.9 632.0h0M192.2 631.9h0M189.6 632.4h0M199.9 632.2h0M218.5 632.2h0M190.7 632.1h0M209.0 631.8h0M216.7 632.2h0M209.3 632.1h0M214.1 632.2h0M219.1 632.4h0M205.3 631.7h0M190.4 631.8h0M200.2 632.2h0M208.1 631.4h0M215.9 632.7h0M190.1 631.9h0M201.9 631.9h0M221.1 631.9h0M196.3 631.6h0M202.4 631.6h0M217.8 632.8h0M211.1 631.8h0M187.5 632.3h0M202.2 632.1h0M203.7 632.1h0M187.5 632.1h0M202.7 631.4h0M189.3 632.4h0M206.9 632.0h0M196.8 632.3h0M206.4 631.9h0M200.5 631.3h0M196.0 632.1h0M204.5 631.7h0M213.2 631.7h0M192.1 632.5h0M189.5 632.1h0M188.7 632.2h0M192.7 631.6h0M200.4 632.2h0M213.4 632.6h0" stroke="#c8102e" stroke-width="1.64" stroke-linecap="square" fill="none"/>
<path d="M190.3 568.0h0M195.5 570.8h0M198.8 570.5h0M210.7 587.0h0M207.0 596.0h0M202.6 604.4h0M191.3 610.0h0M194.0 613.0h0M204.8 616.5h0M219.9 610.0h0M192.6 625.8h0M194.4 628.2h0M215.5 626.5h0M218.3 627.0h0" stroke="#c8102e" stroke-width="1.64" stroke-linecap="square" fill="none"/>
<rect x="243.80" y="531.7" width="1.0" height="100.3" fill="#1d4f8c" fill-opacity="0.95"/>
<path d="M256.8 632.5h0M239.6 632.0h0M260.5 631.3h0M227.8 631.6h0M257.4 632.0h0M243.0 630.9h0M253.1 632.0h0M228.8 632.2h0M231.0 632.3h0M251.7 632.4h0M229.7 632.3h0M257.5 632.5h0M247.8 631.6h0M246.9 631.6h0M256.4 632.5h0M246.5 632.0h0M259.1 632.3h0M228.3 631.9h0M240.7 631.9h0M230.1 631.1h0M253.0 631.9h0M235.7 632.4h0M251.3 631.3h0M256.6 632.1h0M229.1 632.2h0M227.4 632.5h0M233.3 632.6h0M235.2 631.6h0M249.2 631.5h0M256.2 632.8h0M230.6 631.8h0M241.0 632.0h0M261.8 631.6h0M246.3 632.0h0M239.9 632.3h0M248.3 632.2h0M256.1 631.3h0M231.8 631.7h0M261.0 632.0h0M231.9 632.8h0M251.8 632.6h0M251.9 631.6h0M242.3 632.1h0M255.2 632.4h0M256.9 631.7h0M247.2 632.0h0M227.0 631.8h0M228.9 631.5h0M258.6 632.1h0M253.9 631.8h0M251.9 632.5h0M242.4 632.8h0M254.2 632.0h0M255.5 632.6h0M259.7 632.5h0M252.9 631.8h0M247.4 631.8h0M246.3 632.6h0M229.2 631.8h0M246.8 631.7h0M252.0 631.5h0M250.7 631.6h0M227.5 632.5h0M237.0 632.8h0M250.4 632.3h0M233.4 631.7h0M231.6 632.2h0M236.8 632.2h0M246.0 631.8h0M242.6 631.6h0M237.8 631.9h0M256.3 631.9h0M260.6 631.8h0M235.5 631.8h0M259.2 632.4h0M248.6 632.2h0M235.7 631.9h0M247.6 632.0h0M234.7 632.1h0M239.6 632.2h0M243.9 632.1h0M227.2 632.1h0M230.8 632.0h0M228.4 632.0h0M259.5 631.9h0M240.8 631.8h0M227.2 632.5h0M226.9 631.5h0M252.3 632.3h0M247.3 632.8h0M242.6 631.5h0M241.0 632.7h0M237.5 632.1h0M249.7 631.6h0M244.0 632.4h0M253.9 631.8h0M249.3 632.4h0M245.3 632.2h0M233.9 632.1h0M228.4 631.7h0M260.3 632.3h0M252.7 631.8h0M237.5 632.3h0M238.5 632.1h0M230.8 632.0h0M235.2 632.3h0M230.2 631.9h0M244.9 632.6h0M240.3 632.1h0M229.4 632.0h0M244.4 631.5h0M236.4 632.1h0M248.4 632.4h0M255.0 631.7h0M237.0 632.2h0M255.7 632.8h0M244.5 632.1h0M227.8 632.6h0M250.5 632.1h0M260.4 632.7h0M227.8 631.9h0M255.1 631.7h0M260.9 631.4h0M239.9 632.1h0M257.8 631.4h0M234.4 632.0h0M252.6 632.4h0M232.6 632.2h0M251.8 632.8h0M239.6 632.5h0M235.8 632.3h0M246.8 632.1h0M257.1 632.1h0M249.4 631.8h0M252.9 631.6h0M246.5 632.1h0M243.7 632.6h0M256.0 632.0h0M242.0 631.9h0M230.7 632.0h0M234.5 631.9h0M236.1 632.4h0M255.9 632.3h0M250.9 632.0h0M259.5 631.9h0M237.4 632.0h0M261.3 631.7h0M261.3 631.2h0M239.7 631.8h0M229.6 632.3h0M228.2 632.6h0M242.3 631.6h0M257.9 632.8h0M233.6 632.3h0M259.3 632.2h0M230.0 632.0h0M249.3 631.9h0M247.4 632.0h0M239.3 632.2h0M254.3 631.9h0M255.9 631.9h0M237.8 632.7h0M240.6 632.6h0M261.6 631.5h0M249.0 632.3h0M227.5 631.8h0M231.8 632.5h0M227.3 631.9h0M232.4 631.1h0M227.8 632.5h0M240.7 632.1h0M232.6 632.3h0M261.8 632.0h0M259.8 632.0h0M258.3 631.6h0M256.1 632.1h0M244.4 631.8h0M254.0 631.4h0M252.6 631.9h0M261.7 631.9h0M253.3 631.7h0M261.3 631.7h0M227.0 631.3h0M256.3 632.2h0M258.7 631.9h0M227.8 631.6h0M239.4 631.7h0M254.6 631.9h0M239.1 632.3h0M233.1 632.3h0M246.1 631.8h0M250.3 631.9h0M255.3 631.7h0M227.5 631.8h0M250.0 632.0h0M243.3 632.3h0M249.3 632.4h0M251.6 631.8h0M255.1 632.4h0M252.5 631.5h0M255.5 632.1h0M253.0 631.4h0M258.2 632.2h0M257.1 631.4h0M228.5 631.3h0M233.9 632.1h0M233.2 631.4h0M233.9 632.1h0M254.0 632.4h0M259.9 631.6h0" stroke="#1d4f8c" stroke-width="1.64" stroke-linecap="square" fill="none"/>
<path d="M260.0 623.7h0M256.0 628.0h0M245.2 624.7h0M251.6 617.8h0M242.2 624.8h0M252.6 631.6h0M239.7 615.9h0M245.6 612.1h0M227.4 623.9h0M261.1 628.0h0M243.5 629.6h0M227.5 624.3h0M250.5 630.6h0M232.1 632.0h0M254.1 625.9h0M227.9 602.6h0M240.0 611.7h0M242.7 625.7h0M230.5 600.7h0M256.2 626.6h0M245.7 618.2h0M260.6 621.0h0M258.0 622.2h0M237.9 622.3h0M232.1 631.2h0M259.4 618.1h0M242.9 612.4h0M234.2 595.8h0M246.7 630.8h0M234.2 628.2h0" stroke="#1d4f8c" stroke-width="1.64" stroke-linecap="square" fill="none"/>
<path d="M229.5 556.3h0M230.9 589.9h0M231.2 583.3h0M242.3 609.0h0M226.9 556.5h0M239.4 567.5h0M242.7 620.0h0M248.0 546.2h0M234.2 554.5h0M235.9 595.0h0M246.1 601.2h0M227.5 570.5h0M238.9 600.6h0M247.7 543.9h0M240.1 601.2h0M255.2 618.3h0M246.8 592.9h0M251.0 576.7h0M239.1 608.5h0M243.7 541.1h0M230.8 552.2h0M235.3 625.3h0M261.0 540.8h0M239.8 614.0h0M250.2 584.8h0M236.2 579.1h0M236.5 612.4h0M248.3 543.7h0M246.6 586.2h0M235.5 591.8h0M261.8 623.6h0M250.0 602.6h0M239.7 598.9h0M247.2 560.4h0M243.8 558.2h0M234.8 610.0h0M259.8 579.3h0M239.1 613.0h0M252.5 620.0h0M258.6 586.5h0M261.3 619.8h0M232.9 581.2h0M260.7 630.8h0M240.3 562.1h0M251.9 594.5h0M259.8 544.6h0M238.2 551.9h0M243.3 616.1h0M244.1 581.5h0M246.9 596.1h0M248.2 623.9h0M254.4 577.8h0M250.4 564.9h0M254.9 631.1h0M257.5 606.0h0M248.0 601.1h0M259.8 602.1h0M257.9 602.6h0M236.5 565.1h0M235.0 615.5h0M250.6 630.4h0M245.6 623.5h0M229.4 559.6h0M253.2 550.5h0M229.5 595.9h0M260.8 620.6h0M244.1 617.2h0M261.2 565.7h0M256.6 560.7h0M247.2 581.0h0M255.7 619.2h0M249.4 557.6h0" stroke="#1d4f8c" stroke-width="1.64" stroke-linecap="square" fill="none"/>
<path d="M232.0 531.7h0M244.3 531.7h0M251.4 531.7h0M235.6 542.3h0M238.0 542.3h0M238.8 548.0h0M243.5 543.0h0M249.2 548.0h0M235.5 562.0h0M249.4 562.0h0M237.3 566.0h0M250.0 570.5h0" stroke="#1d4f8c" stroke-width="1.64" stroke-linecap="square" fill="none"/>
<line x1="307.30" y1="526.20" x2="307.30" y2="637.20" stroke="#1a1a1a" stroke-width="1.3"/>
<line x1="306.65" y1="637.20" x2="394.80" y2="637.20" stroke="#1a1a1a" stroke-width="1.3"/>
<line x1="304.30" y1="631.80" x2="307.30" y2="631.80" stroke="#1a1a1a" stroke-width="1.1"/>
<text x="300.90" y="634.70" font-size="8.2" text-anchor="end" textLength="10.4" lengthAdjust="spacingAndGlyphs" fill="#000">0.0</text>
<line x1="304.30" y1="612.10" x2="307.30" y2="612.10" stroke="#1a1a1a" stroke-width="1.1"/>
<text x="300.90" y="615.00" font-size="8.2" text-anchor="end" textLength="10.4" lengthAdjust="spacingAndGlyphs" fill="#000">0.5</text>
<line x1="304.30" y1="592.10" x2="307.30" y2="592.10" stroke="#1a1a1a" stroke-width="1.1"/>
<text x="300.90" y="595.00" font-size="8.2" text-anchor="end" textLength="10.4" lengthAdjust="spacingAndGlyphs" fill="#000">1.0</text>
<line x1="304.30" y1="572.10" x2="307.30" y2="572.10" stroke="#1a1a1a" stroke-width="1.1"/>
<text x="300.90" y="575.00" font-size="8.2" text-anchor="end" textLength="10.4" lengthAdjust="spacingAndGlyphs" fill="#000">1.5</text>
<line x1="304.30" y1="552.10" x2="307.30" y2="552.10" stroke="#1a1a1a" stroke-width="1.1"/>
<text x="300.90" y="555.00" font-size="8.2" text-anchor="end" textLength="10.4" lengthAdjust="spacingAndGlyphs" fill="#000">2.0</text>
<line x1="304.30" y1="531.80" x2="307.30" y2="531.80" stroke="#1a1a1a" stroke-width="1.1"/>
<text x="300.90" y="534.70" font-size="8.2" text-anchor="end" textLength="10.4" lengthAdjust="spacingAndGlyphs" fill="#000">2.5</text>
<line x1="331.50" y1="637.20" x2="331.50" y2="639.80" stroke="#1a1a1a" stroke-width="1.1"/>
<line x1="371.90" y1="637.20" x2="371.90" y2="639.80" stroke="#1a1a1a" stroke-width="1.1"/>
<text x="331.70" y="645.10" font-size="8.6" text-anchor="end" textLength="37.2" lengthAdjust="spacingAndGlyphs" transform="rotate(-45 331.70 645.10)" fill="#000">OS &gt;2 year</text>
<text x="372.10" y="645.10" font-size="8.6" text-anchor="end" textLength="37.2" lengthAdjust="spacingAndGlyphs" transform="rotate(-45 372.10 645.10)" fill="#000">OS &lt;2 year</text>
<text x="333.20" y="522.87" font-size="8.8" textLength="34.4" lengthAdjust="spacingAndGlyphs" fill="#000">TSPAN7</text>
<text x="351.00" y="548.28" font-size="6.6" textLength="38.0" lengthAdjust="spacingAndGlyphs" fill="#222">p=4.05E-13</text>
<rect x="331.00" y="530.3" width="1.0" height="101.7" fill="#c8102e" fill-opacity="0.7"/>
<path d="M329.7 632.0h0M341.2 631.8h0M346.6 632.2h0M317.0 631.9h0M326.1 631.2h0M326.5 632.4h0M323.7 632.6h0M341.7 632.0h0M338.2 632.3h0M341.9 632.1h0M324.9 632.0h0M327.2 631.9h0M345.6 631.7h0M325.1 632.2h0M319.5 632.1h0M331.1 632.1h0M329.7 631.6h0M339.2 632.2h0M336.9 631.9h0M318.2 632.8h0M328.6 632.3h0M318.1 632.0h0M330.9 631.0h0M327.8 632.4h0M332.2 632.1h0M333.9 632.4h0M337.2 631.9h0M347.9 632.1h0M345.5 631.8h0M321.5 631.6h0M325.5 631.9h0M345.3 631.5h0M316.0 632.0h0M334.0 631.3h0M327.0 631.7h0M347.8 632.1h0M330.0 631.9h0M346.9 632.1h0M325.6 631.8h0M345.8 631.3h0M322.4 632.1h0M335.2 631.0h0M321.1 632.0h0M334.9 632.8h0M329.6 631.3h0M343.5 632.2h0M316.1 631.7h0M346.6 632.1h0M324.4 632.2h0M342.1 632.1h0M318.8 632.3h0M336.6 632.6h0M343.1 632.2h0M332.4 632.4h0M342.4 632.0h0M331.6 631.2h0M314.7 632.1h0M323.4 632.7h0M323.6 632.2h0M327.5 631.6h0M335.5 632.3h0M346.8 632.3h0M346.4 631.4h0M319.0 631.6h0M323.2 632.8h0M333.7 632.1h0M316.3 632.0h0M325.4 631.8h0M314.7 632.0h0M328.8 632.6h0M330.9 631.5h0M316.7 632.6h0M318.7 631.3h0M331.4 631.9h0M337.6 632.5h0M348.6 632.5h0M341.0 632.1h0M345.7 632.4h0M347.3 632.1h0M324.7 632.5h0M334.8 631.8h0M314.7 631.8h0M328.4 632.8h0M336.8 631.2h0M333.6 631.6h0M321.1 632.5h0M337.9 632.6h0M318.0 632.2h0M327.7 632.4h0M319.9 632.7h0M316.9 632.6h0M333.7 632.5h0M337.6 632.0h0M323.5 631.8h0M330.7 631.5h0M334.0 632.5h0M333.1 631.9h0M320.3 632.8h0M328.7 631.7h0M330.9 632.3h0M321.0 632.8h0M323.3 632.3h0M326.0 631.6h0M332.5 631.5h0M344.2 631.9h0M328.7 632.4h0M330.5 632.1h0M342.6 632.2h0M329.7 631.7h0M318.0 631.9h0M329.0 632.3h0M327.1 632.5h0M345.1 632.2h0M339.0 632.2h0M329.4 631.6h0M345.2 632.4h0M316.9 632.3h0M314.4 632.5h0M316.7 631.7h0M329.6 631.7h0M315.4 631.2h0M345.1 631.9h0M333.3 632.7h0M343.0 632.7h0M342.4 632.0h0M343.0 631.6h0M331.2 631.1h0M333.5 631.7h0M322.6 632.2h0M331.9 632.1h0M337.1 632.1h0M325.6 632.3h0M348.3 632.3h0M330.7 631.9h0M338.1 631.5h0M315.2 632.2h0M335.8 632.3h0M316.5 631.8h0M328.7 631.9h0M333.1 632.3h0M326.4 632.4h0M336.3 631.2h0M330.6 632.1h0M324.7 631.6h0M326.5 632.3h0M320.4 632.3h0M346.8 632.0h0M316.8 631.8h0M344.7 632.0h0M348.7 631.5h0M316.1 632.2h0M337.2 632.1h0M337.5 632.3h0M345.7 631.9h0M322.8 632.0h0M325.7 632.3h0M314.9 632.2h0M328.6 632.0h0M341.8 632.0h0M319.4 631.4h0M321.8 632.1h0M325.3 632.8h0M318.8 632.0h0M316.6 632.5h0M317.6 631.1h0M345.0 631.7h0M332.9 632.8h0M333.8 631.9h0M336.0 632.3h0M318.2 632.4h0M318.6 632.8h0M337.8 631.9h0M322.8 632.3h0M348.7 632.4h0M319.3 632.8h0M340.1 632.0h0M319.7 631.7h0M348.8 632.1h0M315.4 631.9h0M315.5 631.9h0M320.0 631.9h0M334.1 632.2h0M316.9 631.5h0M334.4 632.3h0M324.3 631.9h0M321.8 631.5h0M341.9 631.7h0M332.2 631.7h0M322.2 632.1h0M345.8 632.0h0M332.1 631.3h0M316.8 632.8h0M342.2 631.9h0M334.9 632.3h0M331.0 632.2h0M329.0 632.2h0M342.3 632.0h0M328.9 632.3h0M329.5 631.7h0M315.4 631.8h0" stroke="#c8102e" stroke-width="1.64" stroke-linecap="square" fill="none"/>
<path d="M316.0 530.6h0M325.0 532.0h0M316.0 538.3h0M320.0 568.0h0M343.5 564.5h0M318.0 606.5h0M338.0 615.5h0M317.0 622.5h0M329.0 623.5h0M346.0 623.0h0M333.0 627.5h0M330.0 629.5h0M333.5 626.0h0" stroke="#c8102e" stroke-width="1.64" stroke-linecap="square" fill="none"/>
<path d="M372.5 559.7 L373.1 561.0 L373.7 589.0 L374.3 606.2 L376.4 618.3 L380.9 623.4 L387.9 628.6 L389.9 631.0 L388.9 632.5 L354.9 632.5 L353.9 631.0 L355.9 628.6 L362.9 623.4 L367.4 618.3 L369.5 606.2 L370.1 589.0 L370.7 561.0 L371.3 559.7Z" fill="#1d4f8c" fill-opacity="0.6" stroke="#1d4f8c" stroke-width="0.6" stroke-linejoin="round"/>
<path d="M388.9 632.2h0M359.4 632.0h0M362.9 632.0h0M365.0 632.0h0M369.6 632.4h0M364.5 632.6h0M363.3 632.7h0M371.2 632.0h0M376.1 631.8h0M363.2 632.3h0M366.5 631.9h0M388.4 631.9h0M374.4 631.8h0M382.6 632.2h0M382.0 632.4h0M361.4 632.0h0M387.4 631.7h0M377.6 632.8h0M357.7 631.4h0M357.0 632.3h0M378.1 632.0h0M356.6 632.0h0M378.3 631.9h0M375.5 632.7h0M362.6 632.6h0M355.8 631.8h0M383.8 632.2h0M371.3 631.9h0M381.5 632.1h0M378.4 631.5h0M370.9 632.0h0M386.5 632.2h0M370.6 631.4h0M378.7 631.7h0M366.5 632.3h0M372.9 632.7h0M368.1 631.4h0M362.6 631.3h0M367.3 631.3h0M367.9 631.9h0M387.2 632.3h0M384.4 631.5h0M372.3 632.4h0M380.5 632.3h0M370.7 632.3h0M384.5 631.9h0M376.8 631.9h0M355.1 631.2h0M368.2 631.7h0M367.7 631.5h0M371.7 631.7h0M359.8 632.0h0M365.5 632.4h0M370.3 631.7h0M386.5 631.7h0M360.0 631.5h0M386.2 632.4h0M369.1 632.1h0M381.7 632.2h0M378.9 632.0h0M377.6 631.9h0M362.4 632.1h0M365.5 631.8h0M374.2 632.0h0M365.9 631.9h0M369.3 631.5h0M360.7 631.7h0M380.6 632.3h0M356.0 631.9h0M356.9 632.3h0M384.3 631.6h0M374.9 631.7h0M381.0 632.4h0M381.8 631.5h0M362.0 631.8h0M381.1 632.5h0M370.1 632.3h0M356.7 631.9h0M387.4 632.2h0M375.5 632.1h0M374.7 631.9h0M379.0 631.6h0M387.0 632.0h0M382.3 632.2h0M363.1 631.3h0M381.0 631.4h0M379.2 632.0h0M357.6 632.1h0M371.3 631.9h0M371.3 632.3h0M372.4 631.6h0M370.0 631.7h0M363.5 632.0h0M381.5 632.2h0M387.6 631.8h0M378.7 631.7h0M366.6 632.1h0M377.6 631.5h0M382.2 632.4h0M387.2 632.1h0M355.9 631.6h0M383.5 632.6h0M365.3 632.1h0M371.3 631.2h0M357.7 632.1h0M354.8 632.7h0M386.4 631.9h0M367.2 632.8h0M372.4 631.8h0M377.6 632.5h0M379.0 631.8h0M356.3 631.6h0M383.9 632.3h0M383.0 631.9h0M366.2 631.4h0M365.2 632.8h0M371.3 632.1h0M361.7 632.1h0M368.9 632.2h0M386.7 632.0h0M365.5 631.8h0M358.9 631.6h0M371.5 632.7h0M362.1 632.5h0M356.9 631.9h0M379.3 631.3h0M357.6 630.9h0M363.9 631.8h0M375.8 632.1h0M381.5 632.2h0M362.1 632.1h0M373.7 631.9h0M363.9 631.9h0M376.5 631.4h0M356.0 632.4h0M361.1 632.2h0M359.0 632.1h0M386.6 632.1h0M363.9 631.9h0M373.1 631.7h0M355.9 632.0h0M368.0 632.2h0M368.0 630.9h0M356.3 632.0h0M377.9 632.1h0M389.1 631.8h0M364.5 631.7h0M355.3 631.9h0M381.5 632.3h0M388.7 632.7h0M356.3 632.1h0M374.4 631.9h0M371.4 632.1h0M383.6 631.6h0M383.2 632.7h0M372.6 632.0h0M378.5 631.8h0M381.4 632.2h0M375.0 632.0h0M386.4 632.0h0M376.5 631.5h0M378.5 632.5h0M366.6 631.9h0M356.4 631.5h0M361.8 632.1h0M374.3 631.8h0M385.1 632.3h0M384.4 632.3h0M383.1 632.2h0M365.6 632.0h0" stroke="#1d4f8c" stroke-width="1.64" stroke-linecap="square" fill="none"/>
<path d="M354.8 631.8h0M362.3 629.1h0M376.5 630.9h0M388.8 630.2h0M358.3 628.7h0M379.3 604.8h0M381.6 630.0h0M381.9 620.8h0M358.1 622.5h0M373.8 612.3h0M358.6 630.7h0M378.4 616.0h0M375.3 628.3h0M372.4 631.6h0M378.5 629.8h0M370.2 610.8h0M364.1 631.8h0M357.3 609.0h0M386.2 622.7h0M387.7 628.4h0M357.9 631.1h0M384.1 629.1h0M366.1 609.7h0M367.4 616.2h0M354.8 631.9h0" stroke="#1d4f8c" stroke-width="1.64" stroke-linecap="square" fill="none"/>
<path d="M388.4 585.1h0M355.1 609.5h0M371.7 586.4h0M389.1 574.7h0M377.6 567.4h0M356.0 565.1h0M361.1 631.9h0M380.7 591.8h0M355.9 580.5h0M376.1 623.6h0M382.8 570.8h0M368.0 579.8h0M369.3 564.6h0M373.3 572.5h0M359.9 589.5h0M363.3 583.0h0M386.6 595.6h0M381.6 594.0h0M366.3 567.7h0M389.3 611.0h0M375.5 575.9h0M364.8 613.4h0M378.6 570.5h0M362.0 567.0h0M364.1 610.1h0M379.0 607.3h0M373.8 568.4h0M382.3 588.3h0M386.6 569.1h0M381.2 575.3h0M374.7 627.7h0M373.1 572.8h0M371.3 565.1h0M360.6 629.2h0M355.6 596.8h0M362.4 620.7h0M361.7 610.6h0M367.8 587.1h0M383.6 586.2h0M377.7 623.7h0M375.2 616.8h0M388.1 580.3h0M358.3 560.7h0M388.7 587.7h0M371.8 566.7h0M375.8 577.3h0M362.8 616.0h0M359.1 605.5h0M356.3 628.6h0M362.6 581.5h0M384.4 600.7h0M373.2 563.9h0M387.5 578.7h0M379.5 617.7h0M379.8 589.5h0M381.7 572.7h0M388.8 570.8h0M359.8 603.7h0M371.2 626.9h0M358.9 562.5h0M387.4 599.2h0M365.3 568.1h0M375.5 563.3h0M379.7 623.2h0M361.4 581.1h0M375.1 624.4h0M368.0 618.9h0M356.3 617.0h0M370.5 576.3h0M373.9 611.8h0M354.8 615.2h0M358.4 560.3h0M363.7 595.6h0M376.0 600.1h0M362.4 624.1h0M380.7 630.7h0M373.4 566.8h0M370.9 571.6h0M361.8 567.3h0M386.3 617.0h0M374.9 598.5h0M370.8 624.2h0M382.4 588.0h0M375.5 593.1h0M384.7 631.5h0M385.5 622.7h0M357.8 591.0h0M387.8 597.2h0M385.9 593.9h0M389.0 611.8h0M386.9 598.0h0M364.3 611.4h0M380.9 597.9h0M388.0 588.6h0M361.2 571.2h0M380.8 561.8h0M377.2 613.4h0M387.9 592.6h0M375.0 581.9h0M357.0 591.8h0M383.3 586.7h0M375.1 600.3h0M378.9 583.3h0M365.8 562.5h0M387.5 586.5h0M362.1 616.8h0M382.2 593.2h0M355.1 592.0h0M375.4 597.2h0M358.9 599.2h0M359.6 620.7h0M387.3 565.5h0M360.8 608.0h0M365.0 595.3h0M384.3 583.3h0M385.5 566.0h0M373.1 603.5h0M368.9 622.2h0M361.7 575.2h0M368.0 592.0h0M388.9 583.0h0M362.6 584.7h0M383.2 571.5h0M359.1 619.6h0M382.4 620.8h0M372.3 631.1h0M358.2 628.3h0M382.4 621.5h0M386.3 626.8h0M357.2 617.9h0M377.8 611.6h0M357.0 604.7h0M383.3 592.0h0M358.5 567.8h0M383.3 572.5h0M387.9 623.0h0M369.1 570.0h0M358.2 596.2h0M367.2 595.7h0M368.5 588.1h0M372.9 567.7h0M366.5 605.9h0M372.9 582.1h0M361.5 569.1h0M371.8 585.5h0M377.1 593.4h0M366.7 617.5h0M359.8 623.4h0M374.2 584.0h0M383.4 565.1h0M365.8 619.4h0M357.2 631.1h0M357.2 570.7h0M367.6 567.5h0M375.8 569.0h0M386.0 581.0h0M366.4 587.5h0M380.5 576.9h0M369.0 595.6h0M368.7 568.6h0M384.9 613.2h0M375.8 571.0h0M356.7 629.6h0M367.8 584.7h0M355.8 609.1h0" stroke="#1d4f8c" stroke-width="1.64" stroke-linecap="square" fill="none"/>
<line x1="427.30" y1="525.90" x2="427.30" y2="637.20" stroke="#1a1a1a" stroke-width="1.3"/>
<line x1="426.65" y1="637.20" x2="514.60" y2="637.20" stroke="#1a1a1a" stroke-width="1.3"/>
<line x1="424.30" y1="631.80" x2="427.30" y2="631.80" stroke="#1a1a1a" stroke-width="1.1"/>
<text x="421.60" y="634.70" font-size="8.2" text-anchor="end" textLength="10.4" lengthAdjust="spacingAndGlyphs" fill="#000">0.0</text>
<line x1="424.30" y1="602.30" x2="427.30" y2="602.30" stroke="#1a1a1a" stroke-width="1.1"/>
<text x="421.60" y="605.20" font-size="8.2" text-anchor="end" textLength="10.4" lengthAdjust="spacingAndGlyphs" fill="#000">0.5</text>
<line x1="424.30" y1="572.70" x2="427.30" y2="572.70" stroke="#1a1a1a" stroke-width="1.1"/>
<text x="421.60" y="575.60" font-size="8.2" text-anchor="end" textLength="10.4" lengthAdjust="spacingAndGlyphs" fill="#000">1.0</text>
<line x1="424.30" y1="542.80" x2="427.30" y2="542.80" stroke="#1a1a1a" stroke-width="1.1"/>
<text x="421.60" y="545.70" font-size="8.2" text-anchor="end" textLength="10.4" lengthAdjust="spacingAndGlyphs" fill="#000">1.5</text>
<line x1="451.00" y1="637.20" x2="451.00" y2="639.80" stroke="#1a1a1a" stroke-width="1.1"/>
<line x1="491.00" y1="637.20" x2="491.00" y2="639.80" stroke="#1a1a1a" stroke-width="1.1"/>
<text x="451.20" y="645.10" font-size="8.6" text-anchor="end" textLength="37.2" lengthAdjust="spacingAndGlyphs" transform="rotate(-45 451.20 645.10)" fill="#000">OS &gt;2 year</text>
<text x="491.20" y="645.10" font-size="8.6" text-anchor="end" textLength="37.2" lengthAdjust="spacingAndGlyphs" transform="rotate(-45 491.20 645.10)" fill="#000">OS &lt;2 year</text>
<text x="454.10" y="522.87" font-size="8.8" textLength="31.5" lengthAdjust="spacingAndGlyphs" fill="#000">AHNAK</text>
<text x="452.70" y="543.18" font-size="6.6" textLength="34.3" lengthAdjust="spacingAndGlyphs" fill="#222">p=4.66E-9</text>
<rect x="450.50" y="533.3" width="1.0" height="98.7" fill="#c8102e" fill-opacity="0.7"/>
<path d="M463.5 632.4h0M445.6 632.1h0M449.6 632.1h0M443.7 632.0h0M453.1 631.5h0M445.3 632.1h0M466.9 631.3h0M438.3 631.7h0M456.5 631.2h0M457.3 631.9h0M449.6 631.7h0M460.3 632.2h0M451.6 631.8h0M454.1 632.0h0M460.7 632.1h0M461.5 631.9h0M451.5 631.2h0M448.0 632.6h0M435.7 632.5h0M433.8 631.6h0M435.6 631.9h0M434.2 632.2h0M451.5 631.7h0M460.3 632.2h0M447.0 631.9h0M440.1 632.0h0M437.2 631.6h0M467.5 631.3h0M451.8 631.6h0M434.4 632.0h0M454.8 631.7h0M450.5 632.5h0M455.9 632.1h0M441.6 631.5h0M435.8 631.9h0M434.8 632.2h0M441.5 631.5h0M449.0 632.5h0M459.8 632.7h0M434.6 632.0h0M438.9 631.9h0M465.0 631.7h0M441.8 632.8h0M438.8 631.7h0M462.9 632.3h0M464.7 632.3h0M448.0 632.2h0M468.0 631.7h0M434.8 632.8h0M453.5 632.0h0M455.5 632.0h0M457.6 632.4h0M439.0 631.6h0M468.2 632.5h0M452.1 631.8h0M450.4 632.5h0M457.2 631.9h0M466.2 631.7h0M449.4 631.8h0M440.3 632.3h0M452.1 631.8h0M464.2 632.1h0M446.7 631.9h0M439.3 632.1h0M439.7 632.2h0M454.5 632.8h0M467.6 632.0h0M464.7 631.6h0M453.9 632.0h0M445.9 632.0h0M444.0 631.9h0M445.7 632.6h0M433.8 631.8h0M444.8 632.3h0M445.1 632.0h0M438.8 632.8h0M438.1 631.2h0M449.3 631.9h0M444.4 632.0h0M461.7 632.5h0M438.4 632.5h0M440.7 632.1h0M458.6 632.0h0M466.5 632.0h0M449.6 631.5h0M464.6 631.3h0M445.8 631.9h0M461.3 631.6h0M443.2 632.1h0M456.5 632.3h0M461.2 631.4h0M446.1 632.6h0M448.1 631.9h0M444.2 631.6h0M462.0 631.5h0M433.8 632.5h0M453.6 631.9h0M448.1 632.2h0M439.4 632.0h0M446.4 631.6h0M444.0 631.7h0M451.6 631.8h0M456.1 631.7h0M467.9 631.5h0M456.5 632.4h0M442.1 631.9h0M454.0 631.7h0M439.9 632.0h0M442.2 632.8h0M435.0 632.2h0M460.4 631.9h0M453.3 632.5h0M445.0 632.3h0M438.7 632.0h0M462.9 632.8h0M442.8 632.2h0M452.2 631.8h0M461.9 632.3h0M457.3 632.0h0M453.6 631.5h0M462.3 631.4h0M453.8 632.3h0M445.0 632.6h0M460.5 631.7h0M447.5 631.7h0M462.0 631.9h0M443.7 631.9h0M435.2 632.3h0M453.9 631.9h0M462.0 632.2h0M450.2 632.0h0M450.1 632.1h0M446.9 632.4h0M440.3 631.4h0M435.4 632.4h0M458.9 631.8h0M465.6 631.9h0M434.0 631.5h0M444.0 632.1h0M434.8 632.2h0M449.9 631.4h0M434.9 631.4h0M459.8 631.4h0M459.6 631.6h0M443.4 632.0h0M453.5 632.1h0M453.8 631.5h0M434.8 632.6h0M464.9 631.7h0M468.0 632.0h0M434.6 632.0h0M436.1 632.2h0M461.3 632.5h0M450.1 632.1h0M441.9 631.7h0M454.4 631.7h0M462.8 631.9h0M447.3 632.3h0M462.6 632.3h0M464.8 632.0h0M439.2 632.5h0M441.5 632.3h0M450.9 632.3h0M461.0 632.7h0M467.4 632.2h0M438.6 631.7h0M448.7 631.9h0M466.1 631.3h0M465.2 631.4h0M443.5 632.6h0M465.1 631.7h0M468.1 632.0h0M441.7 632.3h0M456.0 632.4h0M454.7 632.5h0M449.1 632.0h0M459.9 631.8h0M450.2 631.8h0M447.9 631.3h0M453.9 632.5h0M437.2 632.0h0M444.3 632.4h0M462.5 631.2h0M447.5 632.1h0M443.9 632.6h0M453.0 632.1h0M458.9 632.3h0M456.4 631.6h0M456.5 632.0h0M434.1 631.5h0" stroke="#c8102e" stroke-width="1.64" stroke-linecap="square" fill="none"/>
<path d="M453.7 626.0h0M452.0 619.4h0M443.9 628.1h0M439.0 627.4h0M454.6 629.2h0M439.3 630.9h0M460.0 618.1h0M448.0 620.6h0M443.2 629.5h0M453.7 617.5h0M446.0 620.9h0M448.2 627.1h0M449.8 625.9h0M452.3 629.3h0M463.5 630.8h0M448.3 631.4h0M453.8 631.3h0M454.4 621.3h0M436.1 617.6h0M434.7 603.9h0M463.9 629.9h0M462.9 616.2h0M437.7 629.8h0M465.1 621.0h0" stroke="#c8102e" stroke-width="1.64" stroke-linecap="square" fill="none"/>
<path d="M449.5 533.3h0M445.2 591.5h0M443.5 597.0h0M443.1 606.8h0M448.8 610.0h0M463.9 613.5h0M450.5 619.0h0" stroke="#c8102e" stroke-width="1.64" stroke-linecap="square" fill="none"/>
<rect x="489.90" y="530.3" width="2.2" height="101.7" fill="#1d4f8c" fill-opacity="0.5"/>
<path d="M485.0 631.9h0M491.9 632.0h0M498.8 631.9h0M497.6 631.9h0M493.4 631.8h0M475.1 632.8h0M475.0 631.6h0M500.9 632.4h0M486.4 632.3h0M497.6 631.6h0M495.1 632.5h0M489.4 631.9h0M487.1 631.5h0M482.7 632.1h0M498.5 631.7h0M481.5 632.1h0M505.1 631.1h0M486.1 632.5h0M490.8 632.1h0M485.6 631.4h0M507.3 632.3h0M481.1 632.2h0M506.1 632.1h0M481.3 632.5h0M505.0 632.5h0M482.3 631.5h0M499.0 632.2h0M506.8 632.5h0M483.7 631.4h0M477.6 632.3h0M489.9 632.3h0M501.5 631.7h0M484.0 631.8h0M493.9 631.7h0M485.8 631.8h0M482.1 632.0h0M496.9 632.3h0M502.2 632.5h0M477.4 631.3h0M498.3 632.1h0M507.9 632.5h0M491.6 632.6h0M504.2 632.0h0M496.8 632.1h0M475.6 632.0h0M475.7 632.2h0M492.9 631.6h0M508.5 631.3h0M494.4 631.4h0M508.0 632.0h0M497.7 631.8h0M488.0 631.7h0M504.7 632.1h0M493.4 631.2h0M494.8 632.0h0M477.0 632.3h0M473.5 631.9h0M496.6 632.2h0M480.6 631.7h0M494.6 631.8h0M480.1 631.9h0M501.9 631.6h0M476.7 632.1h0M497.2 631.9h0M505.9 631.8h0M497.7 631.9h0M484.8 631.2h0M484.4 631.9h0M507.5 632.1h0M492.4 631.8h0M478.3 631.7h0M480.8 632.2h0M481.8 631.8h0M503.4 631.6h0M496.1 632.0h0M501.8 632.2h0M481.2 631.6h0M499.1 631.9h0M494.7 632.2h0M501.0 631.8h0M488.1 632.0h0M486.0 632.3h0M481.0 631.8h0M493.9 631.6h0M479.7 632.4h0M480.4 632.0h0M495.8 631.9h0M483.9 632.7h0M499.4 632.5h0M494.7 632.2h0M479.4 632.0h0M487.8 632.4h0M480.7 632.8h0M500.9 631.9h0M502.2 631.5h0M498.2 632.0h0M500.7 631.5h0M501.9 632.5h0M500.9 631.8h0M486.8 632.4h0M491.0 632.5h0M498.3 632.0h0M479.4 631.6h0M482.3 632.0h0M473.9 632.3h0M504.1 632.0h0M481.8 632.1h0M498.1 631.9h0M494.1 631.6h0M505.8 632.2h0M495.1 632.2h0M492.9 630.9h0M487.2 631.0h0M506.6 632.4h0M496.4 631.9h0M506.6 632.1h0M476.1 632.6h0M505.4 632.3h0M504.8 631.8h0M491.9 631.9h0M491.7 631.7h0M500.7 631.8h0M492.0 631.3h0M495.6 631.4h0M480.6 632.6h0M476.3 631.8h0M501.1 632.1h0M496.2 632.1h0M502.9 631.7h0M483.7 632.8h0M493.8 631.6h0M505.9 631.9h0M483.9 632.2h0M503.4 632.4h0M474.0 631.6h0M483.1 631.9h0M483.4 632.0h0M501.2 631.1h0M506.8 631.9h0M483.9 631.4h0M483.6 632.1h0M500.0 631.5h0M491.0 631.4h0M498.6 632.0h0M489.5 631.9h0M493.1 632.7h0M506.2 631.9h0M476.3 632.1h0M493.3 632.2h0M486.5 632.1h0M501.6 631.9h0M506.5 632.1h0M500.0 632.4h0M480.8 631.7h0M474.0 631.5h0M476.0 631.7h0M483.2 631.7h0M473.8 631.8h0M473.7 631.2h0M492.9 632.1h0M492.0 631.9h0M488.6 632.6h0M476.3 632.0h0M476.6 631.6h0M500.7 632.5h0M495.3 631.7h0M491.9 632.1h0M480.4 631.7h0M486.6 631.8h0M505.2 632.0h0M485.3 631.9h0M500.2 631.4h0M485.5 632.2h0M505.1 631.6h0M494.5 632.3h0M502.5 632.3h0M507.0 632.0h0M504.1 631.8h0M491.1 632.8h0M501.0 631.5h0M502.4 632.6h0M484.7 632.3h0M491.4 631.8h0M474.5 631.9h0M486.6 631.7h0M499.8 631.5h0M503.1 631.8h0M491.8 631.8h0M485.0 632.4h0M481.6 632.6h0M508.3 631.9h0M502.3 632.1h0M476.8 632.0h0M505.4 631.7h0M494.6 632.8h0M475.2 632.3h0M508.2 631.7h0M476.5 632.7h0M487.9 631.7h0M500.0 631.5h0M501.7 632.2h0M490.0 632.7h0M481.4 631.6h0M507.0 631.5h0M478.0 631.6h0M495.8 632.0h0M491.3 632.4h0M483.0 632.1h0M475.2 631.3h0M486.5 631.8h0M488.7 631.8h0M491.4 631.9h0M476.0 632.5h0M483.9 632.8h0M494.3 632.2h0M503.8 632.0h0M487.5 631.9h0M478.9 632.0h0M504.7 632.5h0M481.5 632.3h0M494.1 632.5h0M479.3 632.0h0M483.3 632.4h0M488.4 632.1h0M483.1 631.6h0M478.0 632.1h0M505.8 632.0h0M491.8 631.5h0M488.9 632.2h0M502.8 632.1h0M484.4 631.7h0M473.7 632.0h0M487.5 632.0h0M477.0 631.7h0M502.1 632.1h0M473.8 631.9h0M507.9 632.0h0M495.9 631.9h0M486.4 631.9h0M486.2 631.8h0M506.7 631.8h0M474.7 632.1h0M474.2 632.6h0M495.4 631.9h0M503.0 631.3h0M477.5 632.3h0M477.0 632.5h0M490.6 632.1h0M473.6 632.4h0M484.8 631.9h0M480.2 632.4h0M507.1 631.7h0M496.9 631.7h0M476.2 631.7h0M496.0 631.8h0M507.8 632.4h0M497.2 632.2h0M484.7 632.2h0M501.3 632.3h0M475.2 632.0h0M503.5 632.4h0M487.8 631.7h0M491.0 632.7h0M488.8 632.2h0M503.0 632.8h0M476.4 631.9h0M497.3 631.4h0M482.9 632.0h0M488.1 631.4h0M494.5 632.0h0M499.0 632.5h0M503.4 632.0h0M481.0 632.2h0M507.7 631.8h0M498.2 631.9h0M506.6 631.7h0M481.2 632.2h0M486.5 632.1h0M475.3 631.6h0M488.8 631.9h0M500.8 632.4h0M495.1 631.7h0M480.2 631.3h0M501.2 632.2h0M499.7 631.9h0M475.6 631.2h0M503.0 632.8h0M503.1 631.8h0M478.7 632.3h0M500.4 631.6h0M492.6 631.5h0M488.1 631.9h0M478.4 632.8h0M475.3 632.8h0M491.6 631.7h0M503.5 632.3h0M483.7 632.6h0M504.8 631.7h0M476.7 632.2h0M477.4 632.5h0" stroke="#1d4f8c" stroke-width="1.64" stroke-linecap="square" fill="none"/>
<path d="M496.6 627.9h0M481.6 630.5h0M490.3 616.1h0M492.9 631.1h0M494.0 619.6h0M505.7 627.5h0M489.1 620.3h0M479.8 628.6h0M495.8 628.6h0M475.2 627.0h0M506.6 629.7h0M484.0 631.4h0M494.4 618.8h0M483.0 629.7h0M505.4 629.7h0M484.1 625.9h0M501.2 617.9h0M480.7 614.1h0M495.4 630.4h0M491.3 630.8h0M485.8 622.4h0M486.4 620.4h0M492.0 630.6h0M475.9 623.2h0M504.0 603.5h0M495.4 629.0h0M507.0 630.6h0M489.6 631.8h0M505.4 629.1h0M488.3 627.2h0M474.9 627.5h0M484.4 625.2h0M500.0 623.4h0M507.8 629.7h0M496.7 619.2h0M494.8 620.7h0M494.2 630.9h0M483.2 627.4h0M475.1 604.5h0M487.1 619.9h0M475.8 630.0h0M493.8 631.9h0M485.0 628.8h0M496.6 630.6h0M494.3 623.9h0M478.6 627.8h0M486.2 631.7h0M484.7 616.6h0M492.7 631.8h0M486.0 626.1h0M486.8 626.8h0M505.4 630.9h0M483.2 629.6h0M506.7 626.6h0M506.6 631.5h0M494.7 627.7h0M489.9 627.1h0M502.9 631.9h0M501.2 625.2h0M476.7 631.8h0M473.8 626.8h0M503.5 631.4h0M502.6 603.3h0M507.0 631.6h0M478.5 620.7h0M494.0 630.2h0M477.0 631.8h0M482.3 629.8h0M500.6 629.5h0M496.6 629.6h0M500.8 627.0h0M495.4 627.4h0M482.1 625.7h0M475.9 631.4h0M473.7 630.7h0M505.2 611.8h0M503.3 631.3h0M484.4 630.2h0M488.1 627.3h0M504.1 630.9h0M493.5 629.7h0M506.3 622.0h0M475.3 617.4h0M476.7 628.6h0M485.8 629.8h0M486.3 627.9h0M479.1 628.2h0M478.7 611.3h0M495.4 631.9h0M490.0 629.3h0M491.2 630.8h0M500.8 627.3h0M483.6 621.9h0M480.0 617.4h0M479.0 627.6h0M475.5 630.4h0M502.4 629.0h0M487.2 629.4h0M503.6 619.8h0M500.4 631.7h0M501.7 629.3h0M499.6 631.8h0M488.5 628.3h0M494.4 623.7h0M475.1 622.5h0M497.5 628.2h0M497.0 628.6h0M477.8 622.2h0M486.6 623.6h0M478.2 628.5h0M497.2 626.6h0M492.9 604.3h0M485.5 623.4h0M496.4 607.1h0M505.0 631.5h0M503.0 631.7h0M496.3 629.9h0M485.1 619.7h0M484.5 624.0h0M484.6 629.0h0M496.1 631.3h0M506.0 628.8h0M476.0 621.5h0M488.7 628.3h0M485.3 626.0h0M479.8 630.4h0M485.9 632.0h0M484.9 630.4h0M492.3 630.6h0M491.9 628.9h0M507.6 626.0h0M484.9 629.7h0M486.9 624.6h0M474.3 631.8h0M498.6 627.2h0M491.3 619.1h0M485.7 628.1h0M492.8 631.0h0M505.8 609.5h0M505.2 623.7h0M499.0 632.0h0M478.8 631.3h0M474.8 629.9h0M491.8 627.0h0M495.5 625.3h0M501.5 630.0h0M489.7 626.2h0M507.4 625.5h0M479.4 631.4h0M492.2 624.2h0M502.6 623.9h0M488.5 628.2h0M487.0 629.4h0M497.9 622.0h0M494.0 627.9h0M498.3 627.7h0M507.1 631.5h0M475.7 631.7h0M499.5 626.6h0M492.3 628.2h0M485.4 628.3h0M501.4 627.8h0M480.4 630.1h0M495.3 619.1h0M482.4 622.7h0M475.5 626.5h0M478.3 614.7h0M497.6 619.2h0M480.1 623.5h0M482.0 621.7h0M501.0 626.5h0M499.9 630.2h0M501.5 618.9h0M503.9 628.9h0M480.2 630.7h0M501.4 628.3h0M483.7 630.1h0M481.0 619.0h0M492.8 630.2h0M501.5 629.1h0M485.2 627.5h0M494.9 630.5h0M482.8 631.1h0M490.1 629.2h0M494.9 629.6h0M496.2 617.6h0M501.2 630.6h0M491.1 631.7h0M506.1 631.1h0M503.9 629.9h0M476.7 625.5h0M473.9 625.4h0M482.5 625.5h0M479.3 625.1h0M495.8 612.0h0M495.9 625.4h0M480.8 610.0h0M484.3 629.1h0M478.2 629.1h0M506.3 626.1h0M480.4 631.0h0M481.3 630.3h0M481.0 627.2h0M498.5 629.4h0M498.0 629.7h0M494.8 630.3h0M488.8 623.1h0M498.8 623.7h0M485.4 625.2h0M484.6 627.1h0M475.7 631.5h0M485.1 622.3h0M485.7 629.0h0M500.3 631.9h0M504.3 619.0h0M478.7 627.8h0M492.0 631.4h0M482.5 628.4h0M492.0 631.8h0M485.5 629.1h0M486.1 620.9h0M503.0 631.2h0M478.5 618.0h0M486.2 623.0h0M487.2 611.8h0M494.0 629.6h0M475.0 627.4h0M508.4 629.1h0M496.7 621.4h0M489.0 629.6h0M479.3 622.1h0M508.0 624.7h0M497.8 629.7h0M503.4 626.6h0M492.7 629.2h0M495.4 624.1h0M481.8 620.2h0M498.2 631.5h0M487.0 631.7h0M491.3 631.2h0M482.1 628.8h0M477.8 620.3h0M499.8 623.3h0M485.5 628.6h0M500.6 628.1h0M490.4 626.9h0M479.3 630.0h0M491.6 625.7h0M480.2 623.7h0M501.7 626.3h0M493.5 624.7h0M506.0 626.5h0M487.5 629.1h0M504.5 624.3h0M477.8 628.9h0M505.3 622.3h0M484.6 631.4h0M496.7 626.1h0M479.0 626.4h0M507.0 627.1h0M487.0 631.0h0M476.4 602.8h0M484.9 618.6h0M483.8 621.0h0M487.8 628.9h0M496.6 629.0h0M474.0 624.3h0M478.7 625.2h0M477.8 626.8h0M475.7 625.9h0M482.8 612.3h0M476.4 628.2h0M478.5 631.9h0M497.6 630.9h0M475.3 630.4h0M489.5 621.1h0M489.7 625.9h0M504.1 624.2h0M492.3 626.6h0M474.8 624.4h0" stroke="#1d4f8c" stroke-width="1.64" stroke-linecap="square" fill="none"/>
<path d="M504.3 605.3h0M477.3 628.6h0M475.1 597.5h0M478.6 611.2h0M489.1 609.6h0M506.7 591.3h0M484.0 584.3h0M496.6 586.6h0M473.7 585.5h0M481.1 578.7h0M503.2 591.3h0M473.6 613.9h0M489.0 588.4h0M490.5 581.1h0M477.6 582.1h0M500.2 614.9h0M479.4 627.9h0M479.0 630.7h0M475.0 617.3h0M495.9 601.2h0M485.2 597.5h0M489.7 583.9h0M500.5 596.4h0M486.0 614.4h0M502.2 583.3h0M488.8 627.6h0M497.4 578.9h0M493.1 580.9h0M493.9 575.3h0M508.0 576.9h0M484.7 608.2h0M484.5 578.4h0M475.3 607.6h0M489.3 589.9h0M507.6 626.2h0M498.4 594.9h0M474.7 623.9h0M490.1 603.9h0M499.6 631.9h0M482.0 591.6h0M503.7 576.7h0M500.8 621.2h0M499.8 604.1h0M476.5 601.6h0M493.7 598.2h0" stroke="#1d4f8c" stroke-width="1.64" stroke-linecap="square" fill="none"/>
<path d="M494.0 530.5h0M502.0 544.0h0M505.0 558.0h0M504.0 559.0h0M486.5 559.5h0M490.5 559.5h0M485.0 573.0h0M498.5 576.5h0M479.0 585.0h0M482.6 582.0h0M490.3 582.0h0M491.7 584.0h0" stroke="#1d4f8c" stroke-width="1.64" stroke-linecap="square" fill="none"/>
<text x="6.40" y="351.90" font-size="10.8" font-weight="bold" fill="#000" stroke="#000" stroke-width="0.3">F</text>
<text x="287.40" y="351.90" font-size="10.8" font-weight="bold" fill="#000" stroke="#000" stroke-width="0.3">H</text>
<text x="6.70" y="521.50" font-size="10.8" font-weight="bold" fill="#000" stroke="#000" stroke-width="0.3">G</text>
<line x1="52.10" y1="679.30" x2="514.60" y2="679.30" stroke="#111" stroke-width="1.3"/>
<text x="282.20" y="689.58" font-size="9.4" text-anchor="middle" textLength="60.2" lengthAdjust="spacingAndGlyphs" fill="#000" stroke="#000" stroke-width="0.2">PC2_signature genes</text>
</svg></body></html>
